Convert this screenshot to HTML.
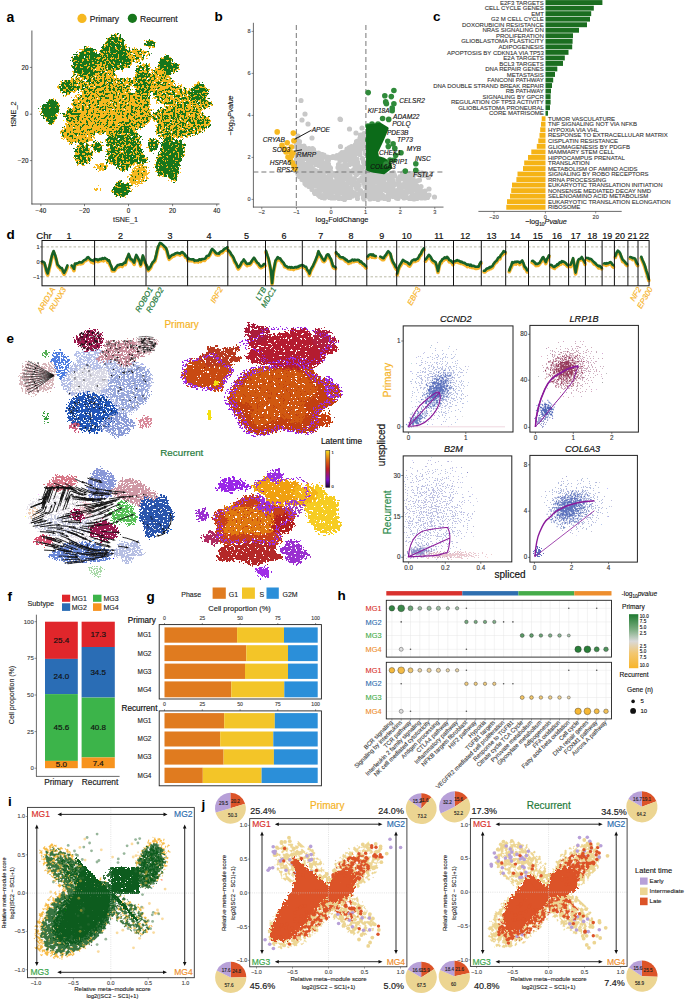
<!DOCTYPE html>
<html><head><meta charset="utf-8"><style>
html,body{margin:0;padding:0;background:#fff;}
svg{display:block;font-family:"Liberation Sans",sans-serif;}
</style></head><body>
<svg width="685" height="1001" viewBox="0 0 685 1001">
<defs><filter id="fa1" x="-40%" y="-40%" width="180%" height="180%" color-interpolation-filters="sRGB"><feGaussianBlur in="SourceGraphic" stdDeviation="0.9" result="b"/><feTurbulence type="fractalNoise" baseFrequency="0.45" numOctaves="2" seed="3"/><feColorMatrix type="matrix" values="0 0 0 0 0 0 0 0 0 0 0 0 0 0 0 1 0 0 0 0"/><feComponentTransfer result="nu"><feFuncA type="table" tableValues="0 0 0 0 0 0 0 0.001 0.003 0.007 0.010 0.021 0.046 0.067 0.097 0.144 0.182 0.251 0.326 0.397 0.510 0.594 0.654 0.743 0.797 0.847 0.896 0.922 0.956 0.971 0.986 0.994 0.996 0.999 1 1 1 1 1 1 1"/></feComponentTransfer><feComposite in="b" in2="nu" operator="arithmetic" k2="1" k3="-1"/><feComponentTransfer result="m"><feFuncA type="linear" slope="200"/></feComponentTransfer><feColorMatrix in="b" type="matrix" values="1 0 0 0 0 0 1 0 0 0 0 0 1 0 0 0 0 0 0 1"/><feComposite in2="m" operator="in"/></filter><filter id="fa2" x="0" y="0" width="1" height="1" color-interpolation-filters="sRGB"><feGaussianBlur in="SourceGraphic" stdDeviation="0.9" result="b"/><feTurbulence type="fractalNoise" baseFrequency="0.45" numOctaves="2" seed="4"/><feColorMatrix type="matrix" values="0 0 0 0 0 0 0 0 0 0 0 0 0 0 0 1 0 0 0 0"/><feComponentTransfer result="nu"><feFuncA type="table" tableValues="0 0 0 0 0 0 0 0.001 0.003 0.007 0.010 0.021 0.046 0.067 0.097 0.144 0.182 0.251 0.326 0.397 0.510 0.594 0.654 0.743 0.797 0.847 0.896 0.922 0.956 0.971 0.986 0.994 0.996 0.999 1 1 1 1 1 1 1"/></feComponentTransfer><feColorMatrix in="b" type="matrix" values="0 0 0 0 0 0 0 0 0 0 0 0 0 0 0 1 0 0 0 0" result="da"/><feComposite in="da" in2="nu" operator="arithmetic" k2="1" k3="-1"/><feComponentTransfer result="m"><feFuncA type="linear" slope="200"/></feComponentTransfer><feFlood flood-color="#17761c"/><feComposite in2="m" operator="in"/></filter><filter id="fe1" x="-40%" y="-40%" width="180%" height="180%" color-interpolation-filters="sRGB"><feGaussianBlur in="SourceGraphic" stdDeviation="0.8" result="b"/><feTurbulence type="fractalNoise" baseFrequency="0.55" numOctaves="2" seed="5"/><feColorMatrix type="matrix" values="0 0 0 0 0 0 0 0 0 0 0 0 0 0 0 1 0 0 0 0"/><feComponentTransfer result="nu"><feFuncA type="table" tableValues="0 0 0 0 0 0 0 0.001 0.003 0.007 0.010 0.021 0.046 0.067 0.097 0.144 0.182 0.251 0.326 0.397 0.510 0.594 0.654 0.743 0.797 0.847 0.896 0.922 0.956 0.971 0.986 0.994 0.996 0.999 1 1 1 1 1 1 1"/></feComponentTransfer><feComposite in="b" in2="nu" operator="arithmetic" k2="1" k3="-1"/><feComponentTransfer result="m"><feFuncA type="linear" slope="200"/></feComponentTransfer><feColorMatrix in="b" type="matrix" values="1 0 0 0 0 0 1 0 0 0 0 0 1 0 0 0 0 0 0 1"/><feComposite in2="m" operator="in"/></filter><filter id="fe2" x="-40%" y="-40%" width="180%" height="180%" color-interpolation-filters="sRGB"><feGaussianBlur in="SourceGraphic" stdDeviation="0.9" result="b"/><feTurbulence type="fractalNoise" baseFrequency="0.42" numOctaves="2" seed="6"/><feColorMatrix type="matrix" values="0 0 0 0 0 0 0 0 0 0 0 0 0 0 0 1 0 0 0 0"/><feComponentTransfer result="nu"><feFuncA type="table" tableValues="0 0 0 0 0 0 0 0.001 0.003 0.007 0.010 0.021 0.046 0.067 0.097 0.144 0.182 0.251 0.326 0.397 0.510 0.594 0.654 0.743 0.797 0.847 0.896 0.922 0.956 0.971 0.986 0.994 0.996 0.999 1 1 1 1 1 1 1"/></feComponentTransfer><feComposite in="b" in2="nu" operator="arithmetic" k2="1" k3="-1"/><feComponentTransfer result="m"><feFuncA type="linear" slope="200"/></feComponentTransfer><feColorMatrix in="b" type="matrix" values="1 0 0 0 0 0 1 0 0 0 0 0 1 0 0 0 0 0 0 1"/><feComposite in2="m" operator="in"/></filter><filter id="fe3" x="-40%" y="-40%" width="180%" height="180%" color-interpolation-filters="sRGB"><feGaussianBlur in="SourceGraphic" stdDeviation="0.6" result="b"/><feTurbulence type="fractalNoise" baseFrequency="0.55" numOctaves="2" seed="7"/><feColorMatrix type="matrix" values="0 0 0 0 0 0 0 0 0 0 0 0 0 0 0 1 0 0 0 0"/><feComponentTransfer result="nu"><feFuncA type="table" tableValues="0 0 0 0 0 0 0 0.001 0.003 0.007 0.010 0.021 0.046 0.067 0.097 0.144 0.182 0.251 0.326 0.397 0.510 0.594 0.654 0.743 0.797 0.847 0.896 0.922 0.956 0.971 0.986 0.994 0.996 0.999 1 1 1 1 1 1 1"/></feComponentTransfer><feComposite in="b" in2="nu" operator="arithmetic" k2="1" k3="-1"/><feComponentTransfer result="m"><feFuncA type="linear" slope="200"/></feComponentTransfer><feColorMatrix in="b" type="matrix" values="1 0 0 0 0 0 1 0 0 0 0 0 1 0 0 0 0 0 0 1"/><feComposite in2="m" operator="in"/></filter><linearGradient id="lt" x1="0" y1="1" x2="0" y2="0"><stop offset="0" stop-color="#1a0530"/><stop offset="0.2" stop-color="#7a10c8"/><stop offset="0.5" stop-color="#c02020"/><stop offset="0.75" stop-color="#e07010"/><stop offset="1" stop-color="#f8e020"/></linearGradient><filter id="fs1" x="-40%" y="-40%" width="180%" height="180%" color-interpolation-filters="sRGB"><feGaussianBlur in="SourceGraphic" stdDeviation="0.3" result="b"/><feTurbulence type="fractalNoise" baseFrequency="0.8" numOctaves="2" seed="8"/><feColorMatrix type="matrix" values="0 0 0 0 0 0 0 0 0 0 0 0 0 0 0 1 0 0 0 0"/><feComponentTransfer result="nu"><feFuncA type="table" tableValues="0 0 0 0 0 0 0 0.001 0.003 0.007 0.010 0.021 0.046 0.067 0.097 0.144 0.182 0.251 0.326 0.397 0.510 0.594 0.654 0.743 0.797 0.847 0.896 0.922 0.956 0.971 0.986 0.994 0.996 0.999 1 1 1 1 1 1 1"/></feComponentTransfer><feComposite in="b" in2="nu" operator="arithmetic" k2="1" k3="-1"/><feComponentTransfer result="m"><feFuncA type="linear" slope="200"/></feComponentTransfer><feColorMatrix in="b" type="matrix" values="1 0 0 0 0 0 1 0 0 0 0 0 1 0 0 0 0 0 0 1"/><feComposite in2="m" operator="in"/></filter><clipPath id="c1"><rect x="403.7" y="326.4" width="108.80000000000001" height="105.10000000000002"/></clipPath><radialGradient id="g0"><stop offset="0" stop-color="#7a88c8"/><stop offset=".3" stop-color="#7a88c8" stop-opacity=".8"/><stop offset=".55" stop-color="#7a88c8" stop-opacity=".42"/><stop offset=".8" stop-color="#7a88c8" stop-opacity=".13"/><stop offset="1" stop-color="#7a88c8" stop-opacity="0"/></radialGradient><radialGradient id="g1"><stop offset="0" stop-color="#5068b8"/><stop offset=".3" stop-color="#5068b8" stop-opacity=".8"/><stop offset=".55" stop-color="#5068b8" stop-opacity=".42"/><stop offset=".8" stop-color="#5068b8" stop-opacity=".13"/><stop offset="1" stop-color="#5068b8" stop-opacity="0"/></radialGradient><clipPath id="c2"><rect x="530.4" y="325.9" width="107.5" height="105.70000000000005"/></clipPath><radialGradient id="g2"><stop offset="0" stop-color="#a06080"/><stop offset=".3" stop-color="#a06080" stop-opacity=".8"/><stop offset=".55" stop-color="#a06080" stop-opacity=".42"/><stop offset=".8" stop-color="#a06080" stop-opacity=".13"/><stop offset="1" stop-color="#a06080" stop-opacity="0"/></radialGradient><radialGradient id="g3"><stop offset="0" stop-color="#8a2448"/><stop offset=".3" stop-color="#8a2448" stop-opacity=".8"/><stop offset=".55" stop-color="#8a2448" stop-opacity=".42"/><stop offset=".8" stop-color="#8a2448" stop-opacity=".13"/><stop offset="1" stop-color="#8a2448" stop-opacity="0"/></radialGradient><radialGradient id="g4"><stop offset="0" stop-color="#8a90c8"/><stop offset=".3" stop-color="#8a90c8" stop-opacity=".8"/><stop offset=".55" stop-color="#8a90c8" stop-opacity=".42"/><stop offset=".8" stop-color="#8a90c8" stop-opacity=".13"/><stop offset="1" stop-color="#8a90c8" stop-opacity="0"/></radialGradient><clipPath id="c3"><rect x="403.7" y="456.4" width="107.60000000000002" height="105.0"/></clipPath><radialGradient id="g5"><stop offset="0" stop-color="#7078c0"/><stop offset=".3" stop-color="#7078c0" stop-opacity=".8"/><stop offset=".55" stop-color="#7078c0" stop-opacity=".42"/><stop offset=".8" stop-color="#7078c0" stop-opacity=".13"/><stop offset="1" stop-color="#7078c0" stop-opacity="0"/></radialGradient><radialGradient id="g6"><stop offset="0" stop-color="#6a70b8"/><stop offset=".3" stop-color="#6a70b8" stop-opacity=".8"/><stop offset=".55" stop-color="#6a70b8" stop-opacity=".42"/><stop offset=".8" stop-color="#6a70b8" stop-opacity=".13"/><stop offset="1" stop-color="#6a70b8" stop-opacity="0"/></radialGradient><radialGradient id="g7"><stop offset="0" stop-color="#d08898"/><stop offset=".3" stop-color="#d08898" stop-opacity=".8"/><stop offset=".55" stop-color="#d08898" stop-opacity=".42"/><stop offset=".8" stop-color="#d08898" stop-opacity=".13"/><stop offset="1" stop-color="#d08898" stop-opacity="0"/></radialGradient><clipPath id="c4"><rect x="530.4" y="455.9" width="106.5" height="105.70000000000005"/></clipPath><radialGradient id="g8"><stop offset="0" stop-color="#7080c0"/><stop offset=".3" stop-color="#7080c0" stop-opacity=".8"/><stop offset=".55" stop-color="#7080c0" stop-opacity=".42"/><stop offset=".8" stop-color="#7080c0" stop-opacity=".13"/><stop offset="1" stop-color="#7080c0" stop-opacity="0"/></radialGradient><radialGradient id="g9"><stop offset="0" stop-color="#6070c0"/><stop offset=".3" stop-color="#6070c0" stop-opacity=".8"/><stop offset=".55" stop-color="#6070c0" stop-opacity=".42"/><stop offset=".8" stop-color="#6070c0" stop-opacity=".13"/><stop offset="1" stop-color="#6070c0" stop-opacity="0"/></radialGradient><linearGradient id="hg" x1="0" y1="0" x2="0" y2="1"><stop offset="0" stop-color="#1f7a30"/><stop offset=".28" stop-color="#7aac80"/><stop offset=".5" stop-color="#d9d9d9"/><stop offset=".72" stop-color="#f3c770"/><stop offset="1" stop-color="#f8b52a"/></linearGradient><filter id="fi1" x="-40%" y="-40%" width="180%" height="180%" color-interpolation-filters="sRGB"><feGaussianBlur in="SourceGraphic" stdDeviation="1.2" result="b"/><feTurbulence type="fractalNoise" baseFrequency="0.35" numOctaves="2" seed="11"/><feColorMatrix type="matrix" values="0 0 0 0 0 0 0 0 0 0 0 0 0 0 0 1 0 0 0 0"/><feComponentTransfer result="nu"><feFuncA type="table" tableValues="0 0 0 0 0 0 0 0.001 0.003 0.007 0.010 0.021 0.046 0.067 0.097 0.144 0.182 0.251 0.326 0.397 0.510 0.594 0.654 0.743 0.797 0.847 0.896 0.922 0.956 0.971 0.986 0.994 0.996 0.999 1 1 1 1 1 1 1"/></feComponentTransfer><feComposite in="b" in2="nu" operator="arithmetic" k2="1" k3="-1"/><feComponentTransfer result="m"><feFuncA type="linear" slope="200"/></feComponentTransfer><feColorMatrix in="b" type="matrix" values="1 0 0 0 0 0 1 0 0 0 0 0 1 0 0 0 0 0 0 1"/><feComposite in2="m" operator="in"/></filter><filter id="fi2" x="-40%" y="-40%" width="180%" height="180%" color-interpolation-filters="sRGB"><feGaussianBlur in="SourceGraphic" stdDeviation="1.2" result="b"/><feTurbulence type="fractalNoise" baseFrequency="0.35" numOctaves="2" seed="12"/><feColorMatrix type="matrix" values="0 0 0 0 0 0 0 0 0 0 0 0 0 0 0 1 0 0 0 0"/><feComponentTransfer result="nu"><feFuncA type="table" tableValues="0 0 0 0 0 0 0 0.001 0.003 0.007 0.010 0.021 0.046 0.067 0.097 0.144 0.182 0.251 0.326 0.397 0.510 0.594 0.654 0.743 0.797 0.847 0.896 0.922 0.956 0.971 0.986 0.994 0.996 0.999 1 1 1 1 1 1 1"/></feComponentTransfer><feComposite in="b" in2="nu" operator="arithmetic" k2="1" k3="-1"/><feComponentTransfer result="m"><feFuncA type="linear" slope="200"/></feComponentTransfer><feColorMatrix in="b" type="matrix" values="1 0 0 0 0 0 1 0 0 0 0 0 1 0 0 0 0 0 0 1"/><feComposite in2="m" operator="in"/></filter><filter id="fi3" x="-40%" y="-40%" width="180%" height="180%" color-interpolation-filters="sRGB"><feGaussianBlur in="SourceGraphic" stdDeviation="0.5" result="b"/><feTurbulence type="fractalNoise" baseFrequency="0.6" numOctaves="2" seed="13"/><feColorMatrix type="matrix" values="0 0 0 0 0 0 0 0 0 0 0 0 0 0 0 1 0 0 0 0"/><feComponentTransfer result="nu"><feFuncA type="table" tableValues="0 0 0 0 0 0 0 0.001 0.003 0.007 0.010 0.021 0.046 0.067 0.097 0.144 0.182 0.251 0.326 0.397 0.510 0.594 0.654 0.743 0.797 0.847 0.896 0.922 0.956 0.971 0.986 0.994 0.996 0.999 1 1 1 1 1 1 1"/></feComponentTransfer><feComposite in="b" in2="nu" operator="arithmetic" k2="1" k3="-1"/><feComponentTransfer result="m"><feFuncA type="linear" slope="200"/></feComponentTransfer><feColorMatrix in="b" type="matrix" values="1 0 0 0 0 0 1 0 0 0 0 0 1 0 0 0 0 0 0 1"/><feComposite in2="m" operator="in"/></filter><clipPath id="ulc"><path d="M0 700L72 700L72 853L122 903L122 1001L0 1001Z"/></clipPath><filter id="fi4" x="-40%" y="-40%" width="180%" height="180%" color-interpolation-filters="sRGB"><feGaussianBlur in="SourceGraphic" stdDeviation="2.0" result="b"/><feTurbulence type="fractalNoise" baseFrequency="0.6" numOctaves="2" seed="14"/><feColorMatrix type="matrix" values="0 0 0 0 0 0 0 0 0 0 0 0 0 0 0 1 0 0 0 0"/><feComponentTransfer result="nu"><feFuncA type="table" tableValues="0 0 0 0 0 0 0 0.001 0.003 0.007 0.010 0.021 0.046 0.067 0.097 0.144 0.182 0.251 0.326 0.397 0.510 0.594 0.654 0.743 0.797 0.847 0.896 0.922 0.956 0.971 0.986 0.994 0.996 0.999 1 1 1 1 1 1 1"/></feComponentTransfer><feComposite in="b" in2="nu" operator="arithmetic" k2="1" k3="-1"/><feComponentTransfer result="m"><feFuncA type="linear" slope="200"/></feComponentTransfer><feColorMatrix in="b" type="matrix" values="1 0 0 0 0 0 1 0 0 0 0 0 1 0 0 0 0 0 0 1"/><feComposite in2="m" operator="in"/></filter><filter id="fj1" x="-40%" y="-40%" width="180%" height="180%" color-interpolation-filters="sRGB"><feGaussianBlur in="SourceGraphic" stdDeviation="1.0" result="b"/><feTurbulence type="fractalNoise" baseFrequency="0.3" numOctaves="2" seed="21"/><feColorMatrix type="matrix" values="0 0 0 0 0 0 0 0 0 0 0 0 0 0 0 1 0 0 0 0"/><feComponentTransfer result="nu"><feFuncA type="table" tableValues="0 0 0 0 0 0 0 0.001 0.003 0.007 0.010 0.021 0.046 0.067 0.097 0.144 0.182 0.251 0.326 0.397 0.510 0.594 0.654 0.743 0.797 0.847 0.896 0.922 0.956 0.971 0.986 0.994 0.996 0.999 1 1 1 1 1 1 1"/></feComponentTransfer><feComposite in="b" in2="nu" operator="arithmetic" k2="1" k3="-1"/><feComponentTransfer result="m"><feFuncA type="linear" slope="200"/></feComponentTransfer><feColorMatrix in="b" type="matrix" values="1 0 0 0 0 0 1 0 0 0 0 0 1 0 0 0 0 0 0 1"/><feComposite in2="m" operator="in"/></filter><filter id="fj2" x="-40%" y="-40%" width="180%" height="180%" color-interpolation-filters="sRGB"><feGaussianBlur in="SourceGraphic" stdDeviation="1.1" result="b"/><feTurbulence type="fractalNoise" baseFrequency="0.45" numOctaves="2" seed="22"/><feColorMatrix type="matrix" values="0 0 0 0 0 0 0 0 0 0 0 0 0 0 0 1 0 0 0 0"/><feComponentTransfer result="nu"><feFuncA type="table" tableValues="0 0 0 0 0 0 0 0.001 0.003 0.007 0.010 0.021 0.046 0.067 0.097 0.144 0.182 0.251 0.326 0.397 0.510 0.594 0.654 0.743 0.797 0.847 0.896 0.922 0.956 0.971 0.986 0.994 0.996 0.999 1 1 1 1 1 1 1"/></feComponentTransfer><feComposite in="b" in2="nu" operator="arithmetic" k2="1" k3="-1"/><feComponentTransfer result="m"><feFuncA type="linear" slope="200"/></feComponentTransfer><feColorMatrix in="b" type="matrix" values="1 0 0 0 0 0 1 0 0 0 0 0 1 0 0 0 0 0 0 1"/><feComposite in2="m" operator="in"/></filter></defs>
<rect width="685" height="1001" fill="#fff"/>
<text x="6.5" y="21.8" font-size="14" fill="#000" font-weight="bold">a</text>
<circle cx="82.0" cy="18.4" r="4.6" fill="#f6b820"/>
<text x="89.8" y="21.6" font-size="8.5" fill="#222" stroke="#222" stroke-width="0.18">Primary</text>
<circle cx="132.4" cy="18.3" r="4.6" fill="#17761c"/>
<text x="140.0" y="21.6" font-size="8.6" fill="#222" stroke="#222" stroke-width="0.18">Recurrent</text>
<line x1="31.9" y1="30.5" x2="31.9" y2="204.4" stroke="#333" stroke-width="0.8"/>
<line x1="31.5" y1="204.0" x2="219.5" y2="204.0" stroke="#333" stroke-width="0.8"/>
<line x1="29.8" y1="67.4" x2="31.9" y2="67.4" stroke="#333" stroke-width="0.6"/>
<text x="28.5" y="69.6" font-size="6.3" fill="#222" text-anchor="end" stroke="#222" stroke-width="0.12">20</text>
<line x1="29.8" y1="114.2" x2="31.9" y2="114.2" stroke="#333" stroke-width="0.6"/>
<text x="28.5" y="116.4" font-size="6.3" fill="#222" text-anchor="end" stroke="#222" stroke-width="0.12">0</text>
<line x1="29.8" y1="160.6" x2="31.9" y2="160.6" stroke="#333" stroke-width="0.6"/>
<text x="28.5" y="162.8" font-size="6.3" fill="#222" text-anchor="end" stroke="#222" stroke-width="0.12">−20</text>
<line x1="40.9" y1="204.0" x2="40.9" y2="206.2" stroke="#333" stroke-width="0.6"/>
<text x="40.9" y="213.0" font-size="6.3" fill="#222" text-anchor="middle" stroke="#222" stroke-width="0.12">−40</text>
<line x1="84.5" y1="204.0" x2="84.5" y2="206.2" stroke="#333" stroke-width="0.6"/>
<text x="84.5" y="213.0" font-size="6.3" fill="#222" text-anchor="middle" stroke="#222" stroke-width="0.12">−20</text>
<line x1="128.5" y1="204.0" x2="128.5" y2="206.2" stroke="#333" stroke-width="0.6"/>
<text x="128.5" y="213.0" font-size="6.3" fill="#222" text-anchor="middle" stroke="#222" stroke-width="0.12">0</text>
<line x1="172.6" y1="204.0" x2="172.6" y2="206.2" stroke="#333" stroke-width="0.6"/>
<text x="172.6" y="213.0" font-size="6.3" fill="#222" text-anchor="middle" stroke="#222" stroke-width="0.12">20</text>
<line x1="216.8" y1="204.0" x2="216.8" y2="206.2" stroke="#333" stroke-width="0.6"/>
<text x="216.8" y="213.0" font-size="6.3" fill="#222" text-anchor="middle" stroke="#222" stroke-width="0.12">40</text>
<text x="125.5" y="221.5" font-size="7.25" fill="#222" text-anchor="middle" stroke="#222" stroke-width="0.12">tSNE_1</text>
<text x="15.6" y="114.0" font-size="7.3" fill="#222" text-anchor="middle" transform="rotate(-90 15.6 114.0)" stroke="#222" stroke-width="0.12">tSNE_2</text>
<g filter="url(#fa1)" fill="#f6b820"><path d="M149.4 108.0L149.6 111.0L150.0 114.2L149.6 117.4L147.5 120.5L143.7 122.9L138.7 124.5L133.2 125.4L128.1 126.1L123.6 126.9L119.3 128.1L114.9 129.4L110.0 130.6L104.7 131.3L99.2 131.3L93.8 130.6L88.6 129.3L84.0 127.5L80.0 125.3L76.9 122.6L74.9 119.7L73.8 116.6L73.2 113.7L72.8 110.8L72.2 108.0L71.8 105.1L72.0 102.1L73.3 99.3L75.8 96.6L79.1 94.4L82.6 92.3L86.1 90.1L89.5 87.6L93.5 85.2L98.4 83.2L104.1 82.4L110.0 83.0L115.3 84.8L119.7 87.3L123.4 89.4L127.2 90.8L131.8 91.7L137.1 92.4L142.4 93.7L146.6 95.8L149.0 98.7L149.8 101.9L149.6 105.0Z" fill-opacity="0.98"/><path d="M145.2 123.0L142.9 124.4L140.3 125.7L138.1 126.8L136.2 128.1L134.6 129.4L132.7 130.7L129.9 132.0L126.2 133.1L121.5 133.9L116.4 134.2L111.1 134.2L106.0 134.0L101.2 133.6L96.6 133.2L92.1 132.7L87.6 132.2L83.4 131.5L79.4 130.7L75.7 129.7L72.6 128.6L70.1 127.3L68.2 125.9L67.0 124.5L66.8 123.0L67.5 121.5L69.2 120.1L71.7 118.9L74.6 117.8L77.7 116.7L80.7 115.7L83.7 114.6L87.0 113.5L90.8 112.4L95.4 111.6L100.6 111.2L106.0 111.3L111.1 111.8L115.6 112.6L119.5 113.5L123.2 114.4L127.1 115.1L131.4 115.7L136.0 116.3L140.5 117.2L144.2 118.4L146.3 119.9L146.5 121.5Z" fill-opacity="0.94"/><path d="M58.9 111.0L58.3 112.4L57.7 113.6L57.1 114.7L56.5 115.7L56.1 116.8L55.8 118.2L55.4 119.7L54.9 121.3L54.1 122.8L53.1 124.0L51.8 124.6L50.5 124.5L49.3 123.7L48.2 122.5L47.4 121.1L46.8 119.8L46.2 118.7L45.5 117.8L44.6 117.1L43.6 116.4L42.5 115.5L41.5 114.3L40.8 112.7L40.5 111.0L40.7 109.3L41.4 107.7L42.3 106.4L43.4 105.5L44.5 104.7L45.4 104.1L46.2 103.4L46.9 102.6L47.6 101.6L48.4 100.6L49.4 99.8L50.5 99.2L51.7 98.9L52.9 99.1L54.0 99.6L55.1 100.3L56.0 101.2L56.9 102.3L57.8 103.5L58.5 104.8L59.0 106.3L59.2 107.8L59.2 109.5Z" fill-opacity="0.98"/><path d="M102.0 63.0L101.6 64.9L100.6 66.5L99.0 67.8L97.4 68.9L96.1 69.8L95.2 71.2L94.7 73.0L94.0 75.2L92.8 77.2L91.0 78.6L88.7 78.8L86.5 78.1L84.5 77.0L82.8 76.0L80.9 75.6L78.8 75.4L76.5 75.2L74.4 74.3L72.9 72.7L72.4 70.6L72.7 68.4L73.2 66.3L73.4 64.6L73.2 63.0L72.6 61.3L72.3 59.4L72.6 57.6L73.7 56.1L75.3 55.0L77.0 54.2L78.6 53.3L79.8 52.2L81.1 50.8L82.5 49.2L84.4 47.9L86.5 47.1L88.7 47.2L90.8 47.9L92.7 48.9L94.4 50.2L95.9 51.6L97.1 53.1L98.3 54.6L99.3 56.1L100.2 57.7L101.1 59.4L101.8 61.1Z" fill-opacity="0.97"/><path d="M131.7 54.0L132.5 56.2L132.8 58.5L132.4 60.8L131.5 63.0L130.1 64.9L128.4 66.5L126.4 67.8L124.3 68.7L122.1 69.4L119.9 69.9L117.7 70.0L115.5 69.8L113.4 69.3L111.4 68.7L109.6 67.9L107.8 67.0L106.0 66.0L104.3 64.9L102.6 63.6L101.0 62.1L99.7 60.4L98.8 58.3L98.5 56.2L98.7 54.0L99.4 51.9L100.5 50.1L101.8 48.5L103.0 47.0L104.0 45.5L105.0 43.8L105.9 41.9L107.0 39.8L108.5 37.7L110.5 35.9L112.9 34.7L115.5 34.3L118.1 34.9L120.4 36.3L122.2 38.3L123.5 40.5L124.4 42.8L125.0 44.8L125.7 46.4L126.6 47.8L127.7 49.1L129.1 50.5L130.5 52.1Z" fill-opacity="0.97"/><path d="M149.4 55.0L148.5 55.8L147.3 56.5L146.1 57.1L145.0 57.5L144.1 58.0L143.5 58.6L143.0 59.3L142.4 60.1L141.5 60.9L140.2 61.6L138.7 61.9L137.0 62.0L135.4 61.7L134.0 61.1L132.9 60.4L132.0 59.7L131.1 59.2L130.2 58.7L129.2 58.3L128.0 57.8L126.8 57.3L125.8 56.6L125.2 55.8L125.0 55.0L125.4 54.2L126.1 53.4L127.0 52.7L128.0 52.2L128.8 51.6L129.6 51.0L130.4 50.3L131.4 49.7L132.5 49.1L133.9 48.7L135.5 48.6L137.0 48.7L138.4 49.0L139.7 49.5L140.8 50.0L141.8 50.5L142.9 50.8L144.2 51.1L145.6 51.4L147.1 51.8L148.4 52.4L149.3 53.2L149.7 54.1Z" fill-opacity="0.89"/><path d="M154.7 43.7L154.3 44.3L154.0 44.8L153.7 45.2L153.4 45.7L153.1 46.1L152.8 46.5L152.3 46.7L151.9 46.9L151.4 47.1L151.0 47.3L150.5 47.5L150.0 47.7L149.5 47.8L149.0 47.6L148.5 47.2L148.2 46.8L147.9 46.4L147.6 46.1L147.1 45.9L146.4 45.8L145.8 45.4L145.4 44.9L145.2 44.3L145.3 43.7L145.7 43.1L146.0 42.6L146.3 42.2L146.6 41.7L146.9 41.3L147.2 40.9L147.7 40.7L148.1 40.5L148.6 40.3L149.0 40.1L149.5 39.9L150.0 39.7L150.5 39.6L151.0 39.8L151.5 40.2L151.8 40.6L152.1 41.0L152.4 41.3L152.9 41.5L153.6 41.6L154.2 42.0L154.6 42.5L154.8 43.1Z" fill-opacity="0.94"/><path d="M178.8 66.5L178.9 68.1L178.2 69.5L176.9 70.6L175.4 71.3L173.9 71.8L172.6 72.1L171.7 72.6L170.9 73.3L170.2 74.3L169.3 75.2L168.2 76.0L167.0 76.4L165.7 76.5L164.4 76.2L163.2 75.7L162.0 75.1L161.0 74.4L160.0 73.5L159.1 72.6L158.4 71.5L158.0 70.2L157.8 69.0L157.9 67.7L158.1 66.5L158.3 65.4L158.6 64.2L158.8 63.1L159.2 62.0L159.7 60.9L160.4 59.9L161.2 58.9L162.1 58.0L163.2 57.2L164.3 56.5L165.6 56.0L167.0 55.7L168.4 55.9L169.7 56.6L170.7 57.6L171.4 58.9L171.8 60.2L172.2 61.3L172.8 62.1L173.7 62.6L175.0 63.2L176.5 64.0L177.9 65.1Z" fill-opacity="0.98"/><path d="M153.6 82.0L153.6 84.4L152.8 86.5L151.8 88.2L150.9 89.7L150.3 91.5L149.9 93.7L149.3 96.0L148.4 97.9L147.1 99.0L145.7 99.2L144.3 99.1L143.0 99.2L141.6 99.6L140.2 100.1L138.6 99.9L137.3 98.7L136.5 96.3L136.2 93.5L136.2 90.9L136.0 88.9L135.3 87.4L134.2 86.0L133.1 84.2L132.4 82.0L132.4 79.6L133.2 77.5L134.2 75.8L135.1 74.3L135.7 72.5L136.1 70.3L136.7 68.0L137.6 66.1L138.9 65.0L140.3 64.8L141.7 64.9L143.0 64.8L144.4 64.4L145.8 63.9L147.4 64.1L148.7 65.3L149.5 67.7L149.8 70.5L149.8 73.1L150.0 75.1L150.7 76.6L151.8 78.0L152.9 79.8Z" fill-opacity="0.94"/><path d="M173.8 84.0L174.1 86.2L174.0 88.4L173.5 90.5L172.7 92.4L171.5 94.0L170.1 95.3L168.6 96.3L167.0 97.0L165.5 97.6L164.0 98.0L162.5 98.3L161.0 98.5L159.5 98.5L157.9 98.4L156.4 98.0L154.9 97.2L153.6 96.1L152.5 94.7L151.6 93.0L151.0 91.2L150.6 89.4L150.4 87.6L150.3 85.8L150.2 84.0L150.2 82.2L150.2 80.4L150.3 78.4L150.4 76.4L150.9 74.3L151.6 72.2L152.6 70.3L154.0 68.8L155.6 67.7L157.4 67.2L159.2 67.3L161.0 67.9L162.6 69.0L163.9 70.2L165.1 71.6L166.1 73.0L167.0 74.2L167.9 75.4L168.9 76.5L169.9 77.6L171.0 78.8L172.1 80.3L173.1 82.0Z" fill-opacity="0.94"/><path d="M133.6 85.0L130.7 86.0L129.4 87.0L129.6 88.2L129.9 89.4L128.9 90.7L125.9 91.7L121.4 92.2L116.5 92.3L112.1 92.5L108.3 93.0L104.5 93.9L100.0 94.9L94.7 95.4L89.4 95.2L85.3 94.1L82.8 92.7L81.3 91.3L79.4 90.3L75.9 89.8L71.0 89.3L65.9 88.6L62.6 87.6L62.1 86.3L64.2 85.0L67.4 83.9L69.9 82.9L71.0 81.9L70.9 80.7L71.0 79.3L72.6 77.9L76.0 76.9L80.7 76.4L86.0 76.3L91.0 76.3L95.6 76.4L100.0 76.5L104.3 76.6L108.4 77.0L112.2 77.4L115.8 78.0L119.7 78.4L124.4 78.7L129.7 79.1L134.7 79.9L138.0 81.0L138.7 82.3L136.8 83.8Z" fill-opacity="0.89"/><path d="M151.7 112.0L151.9 114.4L151.8 116.9L151.1 119.1L150.1 121.0L148.8 122.4L147.5 123.6L146.2 124.5L145.0 125.3L143.8 126.1L142.6 126.9L141.3 127.7L140.0 128.4L138.6 128.9L137.0 129.2L135.4 129.1L133.9 128.5L132.4 127.2L131.3 125.4L130.6 123.1L130.3 120.6L130.4 118.1L130.6 115.9L130.8 113.9L130.7 112.0L130.4 110.0L129.9 107.8L129.6 105.3L129.6 102.7L130.1 100.3L131.2 98.4L132.7 97.2L134.3 96.7L135.9 96.6L137.3 96.6L138.7 96.4L140.0 96.0L141.4 95.6L142.9 95.4L144.3 95.8L145.7 96.8L146.8 98.3L147.6 100.2L148.3 102.2L148.9 104.1L149.5 105.9L150.3 107.7L151.1 109.8Z" fill-opacity="0.96"/><path d="M109.5 62.0L109.8 63.4L109.6 64.9L108.9 66.1L108.1 67.1L107.2 68.0L106.4 68.7L105.6 69.5L104.8 70.1L103.9 70.7L103.0 71.3L102.0 71.8L101.0 72.3L99.9 72.6L98.7 72.5L97.7 71.9L96.9 70.9L96.3 69.7L95.8 68.5L95.2 67.5L94.5 66.7L93.7 65.8L92.9 64.7L92.5 63.4L92.6 62.0L93.0 60.7L93.6 59.5L94.0 58.4L94.3 57.2L94.6 55.8L95.0 54.5L95.7 53.4L96.8 52.8L98.0 52.9L99.1 53.2L100.1 53.4L101.0 53.2L102.0 52.5L103.2 51.7L104.5 51.4L105.7 51.9L106.4 53.1L106.8 54.8L106.8 56.4L106.9 57.7L107.3 58.8L108.0 59.7L108.9 60.7Z" fill-opacity="0.94"/><path d="M114.3 74.0L114.5 74.9L114.8 75.9L114.9 77.0L114.7 78.1L113.9 79.1L112.8 79.8L111.3 80.4L109.8 80.7L108.3 81.0L106.9 81.3L105.5 81.7L104.0 82.1L102.3 82.4L100.5 82.6L98.7 82.5L97.0 82.1L95.5 81.4L94.3 80.4L93.6 79.3L93.2 78.1L93.3 77.0L93.6 75.9L94.1 74.9L94.6 74.0L95.0 73.2L95.1 72.4L95.0 71.5L94.8 70.4L94.6 69.2L94.9 67.9L95.6 66.7L96.9 65.8L98.6 65.3L100.5 65.2L102.3 65.5L104.0 65.9L105.5 66.2L107.0 66.5L108.6 66.7L110.2 66.9L111.8 67.2L113.2 67.9L114.2 68.8L114.6 69.9L114.7 71.1L114.5 72.1L114.3 73.1Z" fill-opacity="0.92"/><path d="M74.0 87.5L74.7 88.7L75.1 90.1L74.9 91.4L74.1 92.4L72.9 92.9L71.5 93.0L70.3 92.9L69.5 92.9L68.8 93.3L68.2 94.1L67.6 95.0L66.7 95.7L65.7 96.0L64.8 95.7L64.0 95.0L63.4 94.0L63.0 93.0L62.5 92.3L61.8 91.8L60.9 91.3L59.9 90.7L59.0 89.8L58.6 88.7L58.5 87.5L58.9 86.3L59.5 85.3L60.1 84.4L60.6 83.5L61.1 82.6L61.6 81.7L62.3 80.9L63.1 80.4L64.1 80.2L65.0 80.4L65.9 80.7L66.7 80.9L67.5 80.9L68.3 80.6L69.3 80.3L70.4 80.2L71.3 80.6L72.1 81.4L72.4 82.5L72.5 83.6L72.6 84.7L72.8 85.6L73.3 86.5Z" fill-opacity="0.94"/><path d="M80.9 116.0L81.5 117.3L81.2 118.5L80.1 119.4L78.8 119.8L77.7 120.3L77.2 121.0L77.1 122.3L76.8 123.9L76.1 125.3L75.0 125.9L73.7 125.6L72.5 124.7L71.5 123.8L70.7 123.2L69.7 123.1L68.7 123.0L67.6 122.8L66.8 122.1L66.3 121.1L66.0 120.0L65.6 119.0L65.0 118.1L64.2 117.2L63.6 116.0L63.5 114.7L64.1 113.6L65.1 112.7L66.1 112.0L66.7 111.3L67.1 110.3L67.5 109.1L68.2 108.0L69.2 107.5L70.4 107.7L71.6 108.4L72.5 109.1L73.3 109.2L74.4 108.6L75.8 107.6L77.3 107.1L78.7 107.5L79.3 108.8L79.2 110.5L78.7 112.2L78.4 113.4L78.8 114.2L79.8 115.0Z" fill-opacity="0.94"/><path d="M96.1 132.0L95.7 133.6L94.8 135.2L93.8 136.6L92.8 138.0L91.8 139.5L90.5 140.8L88.8 141.9L86.6 142.6L84.3 142.7L82.1 142.7L80.0 142.7L78.0 143.0L75.9 143.5L73.5 143.8L71.1 143.8L68.9 143.1L67.2 141.9L65.9 140.5L64.7 139.2L63.4 138.0L61.9 136.7L60.7 135.3L60.1 133.7L60.4 132.0L61.5 130.5L62.9 129.1L64.1 127.9L64.8 126.6L65.2 125.1L65.8 123.4L67.0 121.9L68.8 120.8L71.1 120.2L73.5 120.2L75.8 120.2L78.0 120.2L80.2 120.0L82.5 120.0L84.8 120.4L86.8 121.3L88.2 122.6L89.3 124.0L90.2 125.4L91.4 126.5L92.9 127.6L94.5 128.9L95.6 130.4Z" fill-opacity="0.98"/><path d="M92.1 154.0L92.1 155.4L91.8 156.7L91.2 158.0L90.5 159.1L89.8 160.1L89.1 161.1L88.3 162.1L87.5 163.1L86.5 164.0L85.4 164.6L84.2 164.9L83.0 165.0L81.8 164.8L80.6 164.5L79.4 164.1L78.3 163.5L77.2 162.9L76.2 162.0L75.4 160.8L74.9 159.5L74.7 158.0L74.9 156.5L75.1 155.2L75.3 154.0L75.4 152.8L75.5 151.6L75.4 150.3L75.5 149.0L75.8 147.6L76.4 146.3L77.2 145.2L78.2 144.4L79.3 143.7L80.5 143.2L81.7 142.8L83.0 142.5L84.3 142.6L85.5 142.9L86.7 143.7L87.6 144.7L88.3 145.9L88.9 147.1L89.4 148.2L90.0 149.3L90.6 150.3L91.3 151.4L91.8 152.6Z" fill-opacity="0.94"/><path d="M103.7 146.8L103.7 147.6L103.2 148.2L102.5 148.7L101.8 149.1L101.4 149.6L101.2 150.3L101.0 151.0L100.5 151.7L99.8 152.0L98.9 152.0L98.1 151.6L97.4 151.2L96.8 151.0L96.1 151.1L95.4 151.2L94.6 151.2L94.0 150.8L93.6 150.3L93.4 149.6L93.2 149.0L92.8 148.5L92.1 148.1L91.5 147.5L91.1 146.8L91.1 146.0L91.6 145.4L92.3 144.9L93.0 144.5L93.4 144.0L93.6 143.3L93.8 142.6L94.3 141.9L95.0 141.6L95.9 141.6L96.7 142.0L97.4 142.4L98.0 142.6L98.7 142.5L99.4 142.4L100.2 142.4L100.8 142.8L101.2 143.3L101.4 144.0L101.6 144.6L102.0 145.1L102.7 145.5L103.3 146.1Z" fill-opacity="0.94"/><path d="M140.8 148.0L142.1 150.8L143.6 154.2L144.2 158.0L143.3 161.3L140.9 163.3L137.6 164.0L134.5 163.9L132.1 164.1L130.4 165.3L128.8 167.6L126.9 170.0L124.5 171.3L122.0 171.0L119.8 169.4L117.9 167.3L116.1 165.7L114.0 164.7L111.5 163.9L109.0 162.6L107.2 160.2L106.6 157.1L107.0 153.7L107.7 150.7L108.0 148.0L107.6 145.3L106.9 142.2L106.7 139.0L107.7 136.1L109.8 134.2L112.6 133.4L115.1 133.1L117.0 132.1L118.4 129.9L119.8 126.7L121.9 123.6L124.5 122.0L127.3 122.4L129.6 124.6L131.4 127.5L132.9 130.1L134.6 132.0L136.5 133.3L138.5 134.9L139.9 137.1L140.5 139.9L140.4 142.8L140.3 145.5Z" fill-opacity="0.96"/><path d="M148.6 175.0L148.2 176.3L147.6 177.5L146.9 178.6L146.2 179.5L145.3 180.3L144.5 181.0L143.6 181.6L142.8 182.2L141.9 182.8L141.0 183.5L139.9 184.1L138.8 184.7L137.5 185.1L136.1 185.4L134.7 185.4L133.3 185.1L131.9 184.5L130.7 183.5L129.8 182.3L129.2 180.9L128.9 179.3L128.9 177.8L129.1 176.3L129.6 175.0L130.2 173.8L130.8 172.7L131.4 171.8L132.0 170.9L132.6 170.0L133.2 169.1L133.8 168.2L134.6 167.3L135.4 166.4L136.4 165.7L137.6 165.1L138.8 164.7L140.1 164.5L141.5 164.5L142.8 164.8L144.1 165.4L145.2 166.2L146.3 167.1L147.2 168.2L147.9 169.5L148.4 170.8L148.7 172.2L148.7 173.6Z" fill-opacity="0.96"/><path d="M106.6 167.0L106.3 167.6L105.9 168.1L105.5 168.5L105.1 168.9L104.7 169.3L104.3 169.7L104.0 170.2L103.5 170.6L103.0 171.0L102.4 171.3L101.7 171.6L101.0 171.8L100.2 171.8L99.5 171.7L98.7 171.5L98.1 171.2L97.5 170.7L97.0 170.3L96.6 169.8L96.2 169.2L95.9 168.7L95.7 168.2L95.5 167.6L95.4 167.0L95.4 166.4L95.5 165.8L95.8 165.2L96.2 164.7L96.6 164.3L97.2 163.9L97.8 163.6L98.5 163.4L99.1 163.3L99.7 163.1L100.4 163.0L101.0 162.9L101.7 162.8L102.4 162.8L103.1 162.8L103.9 162.9L104.7 163.1L105.4 163.4L106.1 163.8L106.5 164.4L106.8 165.0L106.9 165.7L106.8 166.4Z" fill-opacity="0.89"/><path d="M130.9 189.5L131.1 190.5L130.8 191.4L130.0 192.1L128.9 192.7L128.0 193.2L127.4 193.9L127.0 194.8L126.6 196.0L125.8 197.0L124.6 197.6L123.1 197.4L121.8 196.6L120.8 195.7L119.9 195.0L118.9 194.9L117.7 195.0L116.2 195.2L114.8 194.9L113.9 194.2L113.4 193.3L113.4 192.2L113.3 191.3L113.1 190.4L112.7 189.5L112.5 188.5L112.8 187.6L113.6 186.9L114.7 186.3L115.6 185.8L116.2 185.1L116.6 184.2L117.0 183.0L117.8 182.0L119.0 181.4L120.5 181.6L121.8 182.4L122.8 183.3L123.7 184.0L124.7 184.1L125.9 184.0L127.4 183.8L128.8 184.1L129.7 184.8L130.2 185.7L130.2 186.8L130.3 187.7L130.5 188.6Z" fill-opacity="0.98"/><path d="M99.4 189.5L99.4 189.8L99.4 190.0L99.3 190.3L99.2 190.5L99.0 190.8L98.9 191.0L98.7 191.2L98.5 191.3L98.2 191.4L97.9 191.4L97.7 191.4L97.4 191.4L97.2 191.4L96.9 191.3L96.7 191.3L96.5 191.1L96.3 191.0L96.1 190.8L95.9 190.7L95.6 190.5L95.4 190.3L95.2 190.1L95.1 189.8L95.1 189.5L95.3 189.2L95.5 189.0L95.7 188.8L95.9 188.6L96.0 188.5L96.2 188.3L96.3 188.1L96.5 187.9L96.6 187.7L96.9 187.5L97.1 187.4L97.4 187.3L97.7 187.3L98.0 187.3L98.2 187.5L98.5 187.7L98.6 187.9L98.7 188.2L98.8 188.4L98.9 188.6L99.1 188.8L99.3 189.0L99.4 189.2Z" fill-opacity="0.94"/><path d="M181.4 160.0L180.3 162.3L179.4 164.5L179.0 167.0L178.8 170.2L178.4 174.0L177.4 177.7L175.7 180.4L173.7 181.6L171.5 181.0L169.6 179.3L168.1 177.3L166.8 175.9L165.5 175.4L163.9 175.7L162.0 176.1L160.0 176.1L158.2 175.2L156.8 173.4L155.9 170.9L155.5 167.9L155.6 164.7L156.3 161.5L157.3 158.6L158.6 156.0L159.7 153.7L160.6 151.5L161.0 149.0L161.2 145.8L161.6 142.0L162.6 138.3L164.3 135.6L166.3 134.4L168.5 135.0L170.4 136.7L171.9 138.7L173.2 140.1L174.5 140.6L176.1 140.3L178.0 139.9L180.0 139.9L181.8 140.8L183.2 142.6L184.1 145.1L184.5 148.1L184.4 151.3L183.7 154.5L182.7 157.4Z" fill-opacity="0.98"/><path d="M211.0 122.0L210.6 124.3L209.1 126.5L206.9 128.4L204.3 130.0L201.6 131.5L198.8 132.8L196.0 133.9L193.0 134.8L189.9 135.6L186.7 136.2L183.4 136.8L180.0 137.3L176.4 137.8L172.4 138.3L168.2 138.3L164.0 137.8L160.5 136.5L157.9 134.6L156.5 132.3L156.3 129.8L156.6 127.5L156.9 125.5L156.6 123.8L155.6 122.0L154.1 120.1L152.9 117.9L152.5 115.5L153.4 113.2L155.7 111.3L158.8 109.9L162.4 108.9L166.1 108.2L169.5 107.5L172.9 106.8L176.3 106.1L180.0 105.6L183.8 105.6L187.4 106.1L190.7 107.3L193.4 108.7L195.7 110.3L197.9 111.8L200.2 113.1L202.9 114.4L205.7 115.9L208.3 117.7L210.2 119.7Z" fill-opacity="0.94"/><path d="M210.6 102.0L211.8 104.0L210.9 105.9L208.3 107.4L205.2 108.5L202.7 109.6L201.3 111.1L200.4 113.3L198.9 115.5L196.0 116.9L192.1 116.9L188.2 115.7L185.0 114.1L182.4 113.2L179.5 113.6L175.5 114.9L170.7 115.9L166.3 115.6L164.0 113.8L164.3 110.9L166.2 108.1L167.5 106.1L166.2 104.8L162.4 103.7L157.6 102.0L154.5 99.8L155.0 97.5L159.0 96.0L164.5 95.4L169.1 95.2L171.5 94.5L172.1 92.6L172.3 89.7L173.9 87.0L177.2 85.6L181.2 86.0L185.0 87.8L187.9 89.7L190.4 90.8L193.3 90.8L197.2 90.2L201.5 90.0L205.0 90.8L206.7 92.7L206.8 94.9L206.5 97.0L206.9 98.7L208.6 100.3Z" fill-opacity="0.94"/><path d="M208.1 93.0L207.1 94.3L206.1 95.3L205.1 96.1L204.5 96.9L204.1 97.8L203.8 98.9L203.4 100.1L202.8 101.3L201.9 102.0L200.8 102.4L199.6 102.5L198.5 102.3L197.4 102.1L196.4 101.9L195.3 101.7L194.1 101.5L193.0 101.0L192.0 100.3L191.2 99.2L190.7 98.1L190.3 96.8L189.9 95.6L189.7 94.3L189.5 93.0L189.6 91.7L189.9 90.4L190.6 89.3L191.5 88.5L192.6 87.9L193.5 87.4L194.3 86.9L194.9 86.1L195.5 85.0L196.3 83.8L197.3 82.9L198.5 82.3L199.7 82.4L200.9 83.1L201.8 84.2L202.5 85.3L203.2 86.1L204.1 86.8L205.2 87.3L206.4 87.9L207.6 88.8L208.4 90.0L208.5 91.5Z" fill-opacity="0.98"/><path d="M158.5 144.8L158.2 145.8L157.9 146.6L157.6 147.4L157.2 148.2L156.8 148.9L156.4 149.5L155.9 150.0L155.3 150.4L154.7 150.7L154.2 150.8L153.6 151.0L153.0 151.1L152.4 151.2L151.8 151.3L151.1 151.3L150.4 151.2L149.7 150.9L149.1 150.3L148.6 149.5L148.3 148.6L148.2 147.6L148.2 146.6L148.3 145.7L148.3 144.8L148.3 143.9L148.2 143.0L148.2 142.0L148.3 141.0L148.5 140.0L149.0 139.2L149.6 138.6L150.3 138.3L151.1 138.3L151.8 138.6L152.5 139.0L153.0 139.3L153.5 139.5L154.0 139.5L154.6 139.4L155.3 139.3L156.0 139.3L156.8 139.4L157.6 139.9L158.1 140.6L158.5 141.6L158.7 142.7L158.6 143.8Z" fill-opacity="0.94"/><path d="M148.1 160.0L148.1 160.4L148.1 160.7L148.0 161.1L147.8 161.4L147.5 161.7L147.0 161.8L146.6 161.9L146.1 161.9L145.7 161.9L145.4 162.0L145.1 162.2L144.7 162.5L144.2 162.8L143.7 162.9L143.2 162.9L142.7 162.7L142.4 162.4L142.2 162.0L142.1 161.6L142.1 161.2L142.0 160.9L141.8 160.6L141.6 160.3L141.5 160.0L141.6 159.7L141.7 159.4L141.9 159.1L142.1 158.8L142.2 158.5L142.4 158.2L142.5 157.8L142.8 157.4L143.2 157.1L143.7 157.0L144.2 157.0L144.7 157.3L145.1 157.6L145.4 157.9L145.7 158.1L146.0 158.2L146.4 158.2L146.9 158.3L147.4 158.4L147.8 158.6L148.0 158.9L148.2 159.3L148.2 159.6Z" fill-opacity="0.94"/></g>
<g filter="url(#fa2)"><rect x="33" y="30" width="187" height="173" fill="#000"/><path d="M149.4 108.0L149.6 111.0L150.0 114.2L149.6 117.4L147.5 120.5L143.7 122.9L138.7 124.5L133.2 125.4L128.1 126.1L123.6 126.9L119.3 128.1L114.9 129.4L110.0 130.6L104.7 131.3L99.2 131.3L93.8 130.6L88.6 129.3L84.0 127.5L80.0 125.3L76.9 122.6L74.9 119.7L73.8 116.6L73.2 113.7L72.8 110.8L72.2 108.0L71.8 105.1L72.0 102.1L73.3 99.3L75.8 96.6L79.1 94.4L82.6 92.3L86.1 90.1L89.5 87.6L93.5 85.2L98.4 83.2L104.1 82.4L110.0 83.0L115.3 84.8L119.7 87.3L123.4 89.4L127.2 90.8L131.8 91.7L137.1 92.4L142.4 93.7L146.6 95.8L149.0 98.7L149.8 101.9L149.6 105.0Z" fill="rgb(61,61,61)"/><path d="M145.2 123.0L142.9 124.4L140.3 125.7L138.1 126.8L136.2 128.1L134.6 129.4L132.7 130.7L129.9 132.0L126.2 133.1L121.5 133.9L116.4 134.2L111.1 134.2L106.0 134.0L101.2 133.6L96.6 133.2L92.1 132.7L87.6 132.2L83.4 131.5L79.4 130.7L75.7 129.7L72.6 128.6L70.1 127.3L68.2 125.9L67.0 124.5L66.8 123.0L67.5 121.5L69.2 120.1L71.7 118.9L74.6 117.8L77.7 116.7L80.7 115.7L83.7 114.6L87.0 113.5L90.8 112.4L95.4 111.6L100.6 111.2L106.0 111.3L111.1 111.8L115.6 112.6L119.5 113.5L123.2 114.4L127.1 115.1L131.4 115.7L136.0 116.3L140.5 117.2L144.2 118.4L146.3 119.9L146.5 121.5Z" fill="rgb(57,57,57)"/><path d="M58.9 111.0L58.3 112.4L57.7 113.6L57.1 114.7L56.5 115.7L56.1 116.8L55.8 118.2L55.4 119.7L54.9 121.3L54.1 122.8L53.1 124.0L51.8 124.6L50.5 124.5L49.3 123.7L48.2 122.5L47.4 121.1L46.8 119.8L46.2 118.7L45.5 117.8L44.6 117.1L43.6 116.4L42.5 115.5L41.5 114.3L40.8 112.7L40.5 111.0L40.7 109.3L41.4 107.7L42.3 106.4L43.4 105.5L44.5 104.7L45.4 104.1L46.2 103.4L46.9 102.6L47.6 101.6L48.4 100.6L49.4 99.8L50.5 99.2L51.7 98.9L52.9 99.1L54.0 99.6L55.1 100.3L56.0 101.2L56.9 102.3L57.8 103.5L58.5 104.8L59.0 106.3L59.2 107.8L59.2 109.5Z" fill="rgb(240,240,240)"/><path d="M102.0 63.0L101.6 64.9L100.6 66.5L99.0 67.8L97.4 68.9L96.1 69.8L95.2 71.2L94.7 73.0L94.0 75.2L92.8 77.2L91.0 78.6L88.7 78.8L86.5 78.1L84.5 77.0L82.8 76.0L80.9 75.6L78.8 75.4L76.5 75.2L74.4 74.3L72.9 72.7L72.4 70.6L72.7 68.4L73.2 66.3L73.4 64.6L73.2 63.0L72.6 61.3L72.3 59.4L72.6 57.6L73.7 56.1L75.3 55.0L77.0 54.2L78.6 53.3L79.8 52.2L81.1 50.8L82.5 49.2L84.4 47.9L86.5 47.1L88.7 47.2L90.8 47.9L92.7 48.9L94.4 50.2L95.9 51.6L97.1 53.1L98.3 54.6L99.3 56.1L100.2 57.7L101.1 59.4L101.8 61.1Z" fill="rgb(209,209,209)"/><path d="M131.7 54.0L132.5 56.2L132.8 58.5L132.4 60.8L131.5 63.0L130.1 64.9L128.4 66.5L126.4 67.8L124.3 68.7L122.1 69.4L119.9 69.9L117.7 70.0L115.5 69.8L113.4 69.3L111.4 68.7L109.6 67.9L107.8 67.0L106.0 66.0L104.3 64.9L102.6 63.6L101.0 62.1L99.7 60.4L98.8 58.3L98.5 56.2L98.7 54.0L99.4 51.9L100.5 50.1L101.8 48.5L103.0 47.0L104.0 45.5L105.0 43.8L105.9 41.9L107.0 39.8L108.5 37.7L110.5 35.9L112.9 34.7L115.5 34.3L118.1 34.9L120.4 36.3L122.2 38.3L123.5 40.5L124.4 42.8L125.0 44.8L125.7 46.4L126.6 47.8L127.7 49.1L129.1 50.5L130.5 52.1Z" fill="rgb(202,202,202)"/><path d="M149.4 55.0L148.5 55.8L147.3 56.5L146.1 57.1L145.0 57.5L144.1 58.0L143.5 58.6L143.0 59.3L142.4 60.1L141.5 60.9L140.2 61.6L138.7 61.9L137.0 62.0L135.4 61.7L134.0 61.1L132.9 60.4L132.0 59.7L131.1 59.2L130.2 58.7L129.2 58.3L128.0 57.8L126.8 57.3L125.8 56.6L125.2 55.8L125.0 55.0L125.4 54.2L126.1 53.4L127.0 52.7L128.0 52.2L128.8 51.6L129.6 51.0L130.4 50.3L131.4 49.7L132.5 49.1L133.9 48.7L135.5 48.6L137.0 48.7L138.4 49.0L139.7 49.5L140.8 50.0L141.8 50.5L142.9 50.8L144.2 51.1L145.6 51.4L147.1 51.8L148.4 52.4L149.3 53.2L149.7 54.1Z" fill="rgb(76,76,76)"/><path d="M154.7 43.7L154.3 44.3L154.0 44.8L153.7 45.2L153.4 45.7L153.1 46.1L152.8 46.5L152.3 46.7L151.9 46.9L151.4 47.1L151.0 47.3L150.5 47.5L150.0 47.7L149.5 47.8L149.0 47.6L148.5 47.2L148.2 46.8L147.9 46.4L147.6 46.1L147.1 45.9L146.4 45.8L145.8 45.4L145.4 44.9L145.2 44.3L145.3 43.7L145.7 43.1L146.0 42.6L146.3 42.2L146.6 41.7L146.9 41.3L147.2 40.9L147.7 40.7L148.1 40.5L148.6 40.3L149.0 40.1L149.5 39.9L150.0 39.7L150.5 39.6L151.0 39.8L151.5 40.2L151.8 40.6L152.1 41.0L152.4 41.3L152.9 41.5L153.6 41.6L154.2 42.0L154.6 42.5L154.8 43.1Z" fill="rgb(207,207,207)"/><path d="M178.8 66.5L178.9 68.1L178.2 69.5L176.9 70.6L175.4 71.3L173.9 71.8L172.6 72.1L171.7 72.6L170.9 73.3L170.2 74.3L169.3 75.2L168.2 76.0L167.0 76.4L165.7 76.5L164.4 76.2L163.2 75.7L162.0 75.1L161.0 74.4L160.0 73.5L159.1 72.6L158.4 71.5L158.0 70.2L157.8 69.0L157.9 67.7L158.1 66.5L158.3 65.4L158.6 64.2L158.8 63.1L159.2 62.0L159.7 60.9L160.4 59.9L161.2 58.9L162.1 58.0L163.2 57.2L164.3 56.5L165.6 56.0L167.0 55.7L168.4 55.9L169.7 56.6L170.7 57.6L171.4 58.9L171.8 60.2L172.2 61.3L172.8 62.1L173.7 62.6L175.0 63.2L176.5 64.0L177.9 65.1Z" fill="rgb(230,230,230)"/><path d="M153.6 82.0L153.6 84.4L152.8 86.5L151.8 88.2L150.9 89.7L150.3 91.5L149.9 93.7L149.3 96.0L148.4 97.9L147.1 99.0L145.7 99.2L144.3 99.1L143.0 99.2L141.6 99.6L140.2 100.1L138.6 99.9L137.3 98.7L136.5 96.3L136.2 93.5L136.2 90.9L136.0 88.9L135.3 87.4L134.2 86.0L133.1 84.2L132.4 82.0L132.4 79.6L133.2 77.5L134.2 75.8L135.1 74.3L135.7 72.5L136.1 70.3L136.7 68.0L137.6 66.1L138.9 65.0L140.3 64.8L141.7 64.9L143.0 64.8L144.4 64.4L145.8 63.9L147.4 64.1L148.7 65.3L149.5 67.7L149.8 70.5L149.8 73.1L150.0 75.1L150.7 76.6L151.8 78.0L152.9 79.8Z" fill="rgb(161,161,161)"/><path d="M173.8 84.0L174.1 86.2L174.0 88.4L173.5 90.5L172.7 92.4L171.5 94.0L170.1 95.3L168.6 96.3L167.0 97.0L165.5 97.6L164.0 98.0L162.5 98.3L161.0 98.5L159.5 98.5L157.9 98.4L156.4 98.0L154.9 97.2L153.6 96.1L152.5 94.7L151.6 93.0L151.0 91.2L150.6 89.4L150.4 87.6L150.3 85.8L150.2 84.0L150.2 82.2L150.2 80.4L150.3 78.4L150.4 76.4L150.9 74.3L151.6 72.2L152.6 70.3L154.0 68.8L155.6 67.7L157.4 67.2L159.2 67.3L161.0 67.9L162.6 69.0L163.9 70.2L165.1 71.6L166.1 73.0L167.0 74.2L167.9 75.4L168.9 76.5L169.9 77.6L171.0 78.8L172.1 80.3L173.1 82.0Z" fill="rgb(69,69,69)"/><path d="M133.6 85.0L130.7 86.0L129.4 87.0L129.6 88.2L129.9 89.4L128.9 90.7L125.9 91.7L121.4 92.2L116.5 92.3L112.1 92.5L108.3 93.0L104.5 93.9L100.0 94.9L94.7 95.4L89.4 95.2L85.3 94.1L82.8 92.7L81.3 91.3L79.4 90.3L75.9 89.8L71.0 89.3L65.9 88.6L62.6 87.6L62.1 86.3L64.2 85.0L67.4 83.9L69.9 82.9L71.0 81.9L70.9 80.7L71.0 79.3L72.6 77.9L76.0 76.9L80.7 76.4L86.0 76.3L91.0 76.3L95.6 76.4L100.0 76.5L104.3 76.6L108.4 77.0L112.2 77.4L115.8 78.0L119.7 78.4L124.4 78.7L129.7 79.1L134.7 79.9L138.0 81.0L138.7 82.3L136.8 83.8Z" fill="rgb(108,108,108)"/><path d="M151.7 112.0L151.9 114.4L151.8 116.9L151.1 119.1L150.1 121.0L148.8 122.4L147.5 123.6L146.2 124.5L145.0 125.3L143.8 126.1L142.6 126.9L141.3 127.7L140.0 128.4L138.6 128.9L137.0 129.2L135.4 129.1L133.9 128.5L132.4 127.2L131.3 125.4L130.6 123.1L130.3 120.6L130.4 118.1L130.6 115.9L130.8 113.9L130.7 112.0L130.4 110.0L129.9 107.8L129.6 105.3L129.6 102.7L130.1 100.3L131.2 98.4L132.7 97.2L134.3 96.7L135.9 96.6L137.3 96.6L138.7 96.4L140.0 96.0L141.4 95.6L142.9 95.4L144.3 95.8L145.7 96.8L146.8 98.3L147.6 100.2L148.3 102.2L148.9 104.1L149.5 105.9L150.3 107.7L151.1 109.8Z" fill="rgb(82,82,82)"/><path d="M109.5 62.0L109.8 63.4L109.6 64.9L108.9 66.1L108.1 67.1L107.2 68.0L106.4 68.7L105.6 69.5L104.8 70.1L103.9 70.7L103.0 71.3L102.0 71.8L101.0 72.3L99.9 72.6L98.7 72.5L97.7 71.9L96.9 70.9L96.3 69.7L95.8 68.5L95.2 67.5L94.5 66.7L93.7 65.8L92.9 64.7L92.5 63.4L92.6 62.0L93.0 60.7L93.6 59.5L94.0 58.4L94.3 57.2L94.6 55.8L95.0 54.5L95.7 53.4L96.8 52.8L98.0 52.9L99.1 53.2L100.1 53.4L101.0 53.2L102.0 52.5L103.2 51.7L104.5 51.4L105.7 51.9L106.4 53.1L106.8 54.8L106.8 56.4L106.9 57.7L107.3 58.8L108.0 59.7L108.9 60.7Z" fill="rgb(149,149,149)"/><path d="M114.3 74.0L114.5 74.9L114.8 75.9L114.9 77.0L114.7 78.1L113.9 79.1L112.8 79.8L111.3 80.4L109.8 80.7L108.3 81.0L106.9 81.3L105.5 81.7L104.0 82.1L102.3 82.4L100.5 82.6L98.7 82.5L97.0 82.1L95.5 81.4L94.3 80.4L93.6 79.3L93.2 78.1L93.3 77.0L93.6 75.9L94.1 74.9L94.6 74.0L95.0 73.2L95.1 72.4L95.0 71.5L94.8 70.4L94.6 69.2L94.9 67.9L95.6 66.7L96.9 65.8L98.6 65.3L100.5 65.2L102.3 65.5L104.0 65.9L105.5 66.2L107.0 66.5L108.6 66.7L110.2 66.9L111.8 67.2L113.2 67.9L114.2 68.8L114.6 69.9L114.7 71.1L114.5 72.1L114.3 73.1Z" fill="rgb(101,101,101)"/><path d="M74.0 87.5L74.7 88.7L75.1 90.1L74.9 91.4L74.1 92.4L72.9 92.9L71.5 93.0L70.3 92.9L69.5 92.9L68.8 93.3L68.2 94.1L67.6 95.0L66.7 95.7L65.7 96.0L64.8 95.7L64.0 95.0L63.4 94.0L63.0 93.0L62.5 92.3L61.8 91.8L60.9 91.3L59.9 90.7L59.0 89.8L58.6 88.7L58.5 87.5L58.9 86.3L59.5 85.3L60.1 84.4L60.6 83.5L61.1 82.6L61.6 81.7L62.3 80.9L63.1 80.4L64.1 80.2L65.0 80.4L65.9 80.7L66.7 80.9L67.5 80.9L68.3 80.6L69.3 80.3L70.4 80.2L71.3 80.6L72.1 81.4L72.4 82.5L72.5 83.6L72.6 84.7L72.8 85.6L73.3 86.5Z" fill="rgb(172,172,172)"/><path d="M80.9 116.0L81.5 117.3L81.2 118.5L80.1 119.4L78.8 119.8L77.7 120.3L77.2 121.0L77.1 122.3L76.8 123.9L76.1 125.3L75.0 125.9L73.7 125.6L72.5 124.7L71.5 123.8L70.7 123.2L69.7 123.1L68.7 123.0L67.6 122.8L66.8 122.1L66.3 121.1L66.0 120.0L65.6 119.0L65.0 118.1L64.2 117.2L63.6 116.0L63.5 114.7L64.1 113.6L65.1 112.7L66.1 112.0L66.7 111.3L67.1 110.3L67.5 109.1L68.2 108.0L69.2 107.5L70.4 107.7L71.6 108.4L72.5 109.1L73.3 109.2L74.4 108.6L75.8 107.6L77.3 107.1L78.7 107.5L79.3 108.8L79.2 110.5L78.7 112.2L78.4 113.4L78.8 114.2L79.8 115.0Z" fill="rgb(149,149,149)"/><path d="M96.1 132.0L95.7 133.6L94.8 135.2L93.8 136.6L92.8 138.0L91.8 139.5L90.5 140.8L88.8 141.9L86.6 142.6L84.3 142.7L82.1 142.7L80.0 142.7L78.0 143.0L75.9 143.5L73.5 143.8L71.1 143.8L68.9 143.1L67.2 141.9L65.9 140.5L64.7 139.2L63.4 138.0L61.9 136.7L60.7 135.3L60.1 133.7L60.4 132.0L61.5 130.5L62.9 129.1L64.1 127.9L64.8 126.6L65.2 125.1L65.8 123.4L67.0 121.9L68.8 120.8L71.1 120.2L73.5 120.2L75.8 120.2L78.0 120.2L80.2 120.0L82.5 120.0L84.8 120.4L86.8 121.3L88.2 122.6L89.3 124.0L90.2 125.4L91.4 126.5L92.9 127.6L94.5 128.9L95.6 130.4Z" fill="rgb(48,48,48)"/><path d="M92.1 154.0L92.1 155.4L91.8 156.7L91.2 158.0L90.5 159.1L89.8 160.1L89.1 161.1L88.3 162.1L87.5 163.1L86.5 164.0L85.4 164.6L84.2 164.9L83.0 165.0L81.8 164.8L80.6 164.5L79.4 164.1L78.3 163.5L77.2 162.9L76.2 162.0L75.4 160.8L74.9 159.5L74.7 158.0L74.9 156.5L75.1 155.2L75.3 154.0L75.4 152.8L75.5 151.6L75.4 150.3L75.5 149.0L75.8 147.6L76.4 146.3L77.2 145.2L78.2 144.4L79.3 143.7L80.5 143.2L81.7 142.8L83.0 142.5L84.3 142.6L85.5 142.9L86.7 143.7L87.6 144.7L88.3 145.9L88.9 147.1L89.4 148.2L90.0 149.3L90.6 150.3L91.3 151.4L91.8 152.6Z" fill="rgb(161,161,161)"/><path d="M103.7 146.8L103.7 147.6L103.2 148.2L102.5 148.7L101.8 149.1L101.4 149.6L101.2 150.3L101.0 151.0L100.5 151.7L99.8 152.0L98.9 152.0L98.1 151.6L97.4 151.2L96.8 151.0L96.1 151.1L95.4 151.2L94.6 151.2L94.0 150.8L93.6 150.3L93.4 149.6L93.2 149.0L92.8 148.5L92.1 148.1L91.5 147.5L91.1 146.8L91.1 146.0L91.6 145.4L92.3 144.9L93.0 144.5L93.4 144.0L93.6 143.3L93.8 142.6L94.3 141.9L95.0 141.6L95.9 141.6L96.7 142.0L97.4 142.4L98.0 142.6L98.7 142.5L99.4 142.4L100.2 142.4L100.8 142.8L101.2 143.3L101.4 144.0L101.6 144.6L102.0 145.1L102.7 145.5L103.3 146.1Z" fill="rgb(207,207,207)"/><path d="M140.8 148.0L142.1 150.8L143.6 154.2L144.2 158.0L143.3 161.3L140.9 163.3L137.6 164.0L134.5 163.9L132.1 164.1L130.4 165.3L128.8 167.6L126.9 170.0L124.5 171.3L122.0 171.0L119.8 169.4L117.9 167.3L116.1 165.7L114.0 164.7L111.5 163.9L109.0 162.6L107.2 160.2L106.6 157.1L107.0 153.7L107.7 150.7L108.0 148.0L107.6 145.3L106.9 142.2L106.7 139.0L107.7 136.1L109.8 134.2L112.6 133.4L115.1 133.1L117.0 132.1L118.4 129.9L119.8 126.7L121.9 123.6L124.5 122.0L127.3 122.4L129.6 124.6L131.4 127.5L132.9 130.1L134.6 132.0L136.5 133.3L138.5 134.9L139.9 137.1L140.5 139.9L140.4 142.8L140.3 145.5Z" fill="rgb(176,176,176)"/><path d="M148.6 175.0L148.2 176.3L147.6 177.5L146.9 178.6L146.2 179.5L145.3 180.3L144.5 181.0L143.6 181.6L142.8 182.2L141.9 182.8L141.0 183.5L139.9 184.1L138.8 184.7L137.5 185.1L136.1 185.4L134.7 185.4L133.3 185.1L131.9 184.5L130.7 183.5L129.8 182.3L129.2 180.9L128.9 179.3L128.9 177.8L129.1 176.3L129.6 175.0L130.2 173.8L130.8 172.7L131.4 171.8L132.0 170.9L132.6 170.0L133.2 169.1L133.8 168.2L134.6 167.3L135.4 166.4L136.4 165.7L137.6 165.1L138.8 164.7L140.1 164.5L141.5 164.5L142.8 164.8L144.1 165.4L145.2 166.2L146.3 167.1L147.2 168.2L147.9 169.5L148.4 170.8L148.7 172.2L148.7 173.6Z" fill="rgb(19,19,19)"/><path d="M106.6 167.0L106.3 167.6L105.9 168.1L105.5 168.5L105.1 168.9L104.7 169.3L104.3 169.7L104.0 170.2L103.5 170.6L103.0 171.0L102.4 171.3L101.7 171.6L101.0 171.8L100.2 171.8L99.5 171.7L98.7 171.5L98.1 171.2L97.5 170.7L97.0 170.3L96.6 169.8L96.2 169.2L95.9 168.7L95.7 168.2L95.5 167.6L95.4 167.0L95.4 166.4L95.5 165.8L95.8 165.2L96.2 164.7L96.6 164.3L97.2 163.9L97.8 163.6L98.5 163.4L99.1 163.3L99.7 163.1L100.4 163.0L101.0 162.9L101.7 162.8L102.4 162.8L103.1 162.8L103.9 162.9L104.7 163.1L105.4 163.4L106.1 163.8L106.5 164.4L106.8 165.0L106.9 165.7L106.8 166.4Z" fill="rgb(33,33,33)"/><path d="M130.9 189.5L131.1 190.5L130.8 191.4L130.0 192.1L128.9 192.7L128.0 193.2L127.4 193.9L127.0 194.8L126.6 196.0L125.8 197.0L124.6 197.6L123.1 197.4L121.8 196.6L120.8 195.7L119.9 195.0L118.9 194.9L117.7 195.0L116.2 195.2L114.8 194.9L113.9 194.2L113.4 193.3L113.4 192.2L113.3 191.3L113.1 190.4L112.7 189.5L112.5 188.5L112.8 187.6L113.6 186.9L114.7 186.3L115.6 185.8L116.2 185.1L116.6 184.2L117.0 183.0L117.8 182.0L119.0 181.4L120.5 181.6L121.8 182.4L122.8 183.3L123.7 184.0L124.7 184.1L125.9 184.0L127.4 183.8L128.8 184.1L129.7 184.8L130.2 185.7L130.2 186.8L130.3 187.7L130.5 188.6Z" fill="rgb(230,230,230)"/><path d="M99.4 189.5L99.4 189.8L99.4 190.0L99.3 190.3L99.2 190.5L99.0 190.8L98.9 191.0L98.7 191.2L98.5 191.3L98.2 191.4L97.9 191.4L97.7 191.4L97.4 191.4L97.2 191.4L96.9 191.3L96.7 191.3L96.5 191.1L96.3 191.0L96.1 190.8L95.9 190.7L95.6 190.5L95.4 190.3L95.2 190.1L95.1 189.8L95.1 189.5L95.3 189.2L95.5 189.0L95.7 188.8L95.9 188.6L96.0 188.5L96.2 188.3L96.3 188.1L96.5 187.9L96.6 187.7L96.9 187.5L97.1 187.4L97.4 187.3L97.7 187.3L98.0 187.3L98.2 187.5L98.5 187.7L98.6 187.9L98.7 188.2L98.8 188.4L98.9 188.6L99.1 188.8L99.3 189.0L99.4 189.2Z" fill="rgb(0,0,0)"/><path d="M181.4 160.0L180.3 162.3L179.4 164.5L179.0 167.0L178.8 170.2L178.4 174.0L177.4 177.7L175.7 180.4L173.7 181.6L171.5 181.0L169.6 179.3L168.1 177.3L166.8 175.9L165.5 175.4L163.9 175.7L162.0 176.1L160.0 176.1L158.2 175.2L156.8 173.4L155.9 170.9L155.5 167.9L155.6 164.7L156.3 161.5L157.3 158.6L158.6 156.0L159.7 153.7L160.6 151.5L161.0 149.0L161.2 145.8L161.6 142.0L162.6 138.3L164.3 135.6L166.3 134.4L168.5 135.0L170.4 136.7L171.9 138.7L173.2 140.1L174.5 140.6L176.1 140.3L178.0 139.9L180.0 139.9L181.8 140.8L183.2 142.6L184.1 145.1L184.5 148.1L184.4 151.3L183.7 154.5L182.7 157.4Z" fill="rgb(218,218,218)"/><path d="M211.0 122.0L210.6 124.3L209.1 126.5L206.9 128.4L204.3 130.0L201.6 131.5L198.8 132.8L196.0 133.9L193.0 134.8L189.9 135.6L186.7 136.2L183.4 136.8L180.0 137.3L176.4 137.8L172.4 138.3L168.2 138.3L164.0 137.8L160.5 136.5L157.9 134.6L156.5 132.3L156.3 129.8L156.6 127.5L156.9 125.5L156.6 123.8L155.6 122.0L154.1 120.1L152.9 117.9L152.5 115.5L153.4 113.2L155.7 111.3L158.8 109.9L162.4 108.9L166.1 108.2L169.5 107.5L172.9 106.8L176.3 106.1L180.0 105.6L183.8 105.6L187.4 106.1L190.7 107.3L193.4 108.7L195.7 110.3L197.9 111.8L200.2 113.1L202.9 114.4L205.7 115.9L208.3 117.7L210.2 119.7Z" fill="rgb(115,115,115)"/><path d="M210.6 102.0L211.8 104.0L210.9 105.9L208.3 107.4L205.2 108.5L202.7 109.6L201.3 111.1L200.4 113.3L198.9 115.5L196.0 116.9L192.1 116.9L188.2 115.7L185.0 114.1L182.4 113.2L179.5 113.6L175.5 114.9L170.7 115.9L166.3 115.6L164.0 113.8L164.3 110.9L166.2 108.1L167.5 106.1L166.2 104.8L162.4 103.7L157.6 102.0L154.5 99.8L155.0 97.5L159.0 96.0L164.5 95.4L169.1 95.2L171.5 94.5L172.1 92.6L172.3 89.7L173.9 87.0L177.2 85.6L181.2 86.0L185.0 87.8L187.9 89.7L190.4 90.8L193.3 90.8L197.2 90.2L201.5 90.0L205.0 90.8L206.7 92.7L206.8 94.9L206.5 97.0L206.9 98.7L208.6 100.3Z" fill="rgb(92,92,92)"/><path d="M208.1 93.0L207.1 94.3L206.1 95.3L205.1 96.1L204.5 96.9L204.1 97.8L203.8 98.9L203.4 100.1L202.8 101.3L201.9 102.0L200.8 102.4L199.6 102.5L198.5 102.3L197.4 102.1L196.4 101.9L195.3 101.7L194.1 101.5L193.0 101.0L192.0 100.3L191.2 99.2L190.7 98.1L190.3 96.8L189.9 95.6L189.7 94.3L189.5 93.0L189.6 91.7L189.9 90.4L190.6 89.3L191.5 88.5L192.6 87.9L193.5 87.4L194.3 86.9L194.9 86.1L195.5 85.0L196.3 83.8L197.3 82.9L198.5 82.3L199.7 82.4L200.9 83.1L201.8 84.2L202.5 85.3L203.2 86.1L204.1 86.8L205.2 87.3L206.4 87.9L207.6 88.8L208.4 90.0L208.5 91.5Z" fill="rgb(206,206,206)"/><path d="M158.5 144.8L158.2 145.8L157.9 146.6L157.6 147.4L157.2 148.2L156.8 148.9L156.4 149.5L155.9 150.0L155.3 150.4L154.7 150.7L154.2 150.8L153.6 151.0L153.0 151.1L152.4 151.2L151.8 151.3L151.1 151.3L150.4 151.2L149.7 150.9L149.1 150.3L148.6 149.5L148.3 148.6L148.2 147.6L148.2 146.6L148.3 145.7L148.3 144.8L148.3 143.9L148.2 143.0L148.2 142.0L148.3 141.0L148.5 140.0L149.0 139.2L149.6 138.6L150.3 138.3L151.1 138.3L151.8 138.6L152.5 139.0L153.0 139.3L153.5 139.5L154.0 139.5L154.6 139.4L155.3 139.3L156.0 139.3L156.8 139.4L157.6 139.9L158.1 140.6L158.5 141.6L158.7 142.7L158.6 143.8Z" fill="rgb(207,207,207)"/><path d="M148.1 160.0L148.1 160.4L148.1 160.7L148.0 161.1L147.8 161.4L147.5 161.7L147.0 161.8L146.6 161.9L146.1 161.9L145.7 161.9L145.4 162.0L145.1 162.2L144.7 162.5L144.2 162.8L143.7 162.9L143.2 162.9L142.7 162.7L142.4 162.4L142.2 162.0L142.1 161.6L142.1 161.2L142.0 160.9L141.8 160.6L141.6 160.3L141.5 160.0L141.6 159.7L141.7 159.4L141.9 159.1L142.1 158.8L142.2 158.5L142.4 158.2L142.5 157.8L142.8 157.4L143.2 157.1L143.7 157.0L144.2 157.0L144.7 157.3L145.1 157.6L145.4 157.9L145.7 158.1L146.0 158.2L146.4 158.2L146.9 158.3L147.4 158.4L147.8 158.6L148.0 158.9L148.2 159.3L148.2 159.6Z" fill="rgb(207,207,207)"/></g>
<text x="214.5" y="20.5" font-size="13.5" fill="#000" font-weight="bold">b</text>
<text x="233.0" y="115.6" font-size="7.0" fill="#111" text-anchor="middle" transform="rotate(-90 233.0 115.6)" stroke="#111" stroke-width="0.12">−log<tspan font-size="4.8" dy="1.5">10</tspan><tspan dy="-1.5" font-style="italic">Pvalue</tspan></text>
<path transform="scale(.5)" d="M682 385h0M741 396h0M733 375h0M612 363h0M710 303h0M627 365h0M766 368h0M703 293h0M606 296h0M673 386h0M625 357h0M754 379h0M609 351h0M781 382h0M755 383h0M813 386h0M752 352h0M709 313h0M635 347h0M604 309h0M804 352h0M680 334h0M757 374h0M825 373h0M787 345h0M700 328h0M599 320h0M639 383h0M609 306h0M629 364h0M701 305h0M615 337h0M745 355h0M708 358h0M838 391h0M642 373h0M657 356h0M756 399h0M709 357h0M750 362h0M735 362h0M608 295h0M809 356h0M701 356h0M621 326h0M610 363h0M651 383h0M687 394h0M593 334h0M621 349h0M600 291h0M663 369h0M694 386h0M828 374h0M727 387h0M621 351h0M637 390h0M633 342h0M600 317h0M694 382h0M806 357h0M684 378h0M817 353h0M816 359h0M656 353h0M691 396h0M601 335h0M852 347h0M694 376h0M656 381h0M649 342h0M842 373h0M774 394h0M776 357h0M800 389h0M814 378h0M704 295h0M628 372h0M843 391h0M822 363h0M690 345h0M629 385h0M739 375h0M834 387h0M663 374h0M659 348h0M665 363h0M629 307h0M691 353h0M754 376h0M740 398h0M715 377h0M594 291h0M641 352h0M794 381h0M736 357h0M622 333h0M662 375h0M807 369h0M803 375h0M762 371h0M785 370h0M725 276h0M786 348h0M665 350h0M854 391h0M626 346h0M613 352h0M613 317h0M810 390h0M791 391h0M837 387h0M728 267h0M712 338h0M687 380h0M681 331h0M598 313h0M715 397h0M685 339h0M735 346h0M811 393h0M666 395h0M629 349h0M845 385h0M634 309h0M751 394h0M609 312h0M711 390h0M687 345h0M629 340h0M659 389h0M637 387h0M649 369h0M677 329h0M673 354h0M642 363h0M598 334h0M597 299h0M745 373h0M730 286h0M702 344h0M783 380h0M823 365h0M705 360h0M608 355h0M612 311h0M664 385h0M616 305h0M671 377h0M674 358h0M636 352h0M666 315h0M660 315h0M678 366h0M593 319h0M724 334h0M648 352h0M594 328h0M618 343h0M604 359h0M677 378h0M755 358h0M775 352h0M701 364h0M793 396h0M824 365h0M796 391h0M738 354h0M816 367h0M601 347h0M693 388h0M767 362h0M728 398h0M814 372h0M741 395h0M613 350h0M798 372h0M699 348h0M782 366h0M634 367h0M610 346h0M779 362h0M673 353h0M721 340h0M626 306h0M648 310h0M720 297h0M667 381h0M738 392h0M657 320h0M727 396h0M594 312h0M718 362h0M632 358h0M680 321h0M593 294h0M696 358h0M693 356h0M669 395h0M621 309h0M672 316h0M662 376h0M734 379h0M857 355h0M767 348h0M745 396h0M796 358h0M771 396h0M724 355h0M774 369h0M702 381h0M638 374h0M654 319h0M631 371h0M618 348h0M618 357h0M664 350h0M838 377h0M707 340h0M697 364h0M610 346h0M732 352h0M653 374h0M662 364h0M716 283h0M828 398h0M602 305h0M701 299h0M821 347h0M662 389h0M636 345h0M782 360h0M772 374h0M677 387h0M662 344h0M612 328h0M754 387h0M676 357h0M658 377h0M678 397h0M731 307h0M709 369h0M778 387h0M602 333h0M709 321h0M648 326h0M797 388h0M654 332h0M674 313h0M730 373h0M655 362h0M777 391h0M702 376h0M607 360h0M702 302h0M837 345h0M644 312h0M777 379h0M685 383h0M594 326h0M690 304h0M627 301h0M650 366h0M820 376h0M606 327h0M696 304h0M646 364h0M707 308h0M602 354h0M800 381h0M668 315h0M764 360h0M680 373h0M594 294h0M658 357h0M858 378h0M662 362h0M729 274h0M643 324h0M797 357h0M761 382h0M693 320h0M615 357h0M611 366h0M746 346h0M837 385h0M616 367h0M731 302h0M717 370h0M708 328h0M779 353h0M750 359h0M648 375h0M661 386h0M683 361h0M657 328h0M774 393h0M724 293h0M825 397h0M674 388h0M645 309h0M754 379h0M758 387h0M695 384h0M649 374h0M759 388h0M596 326h0M679 380h0M813 395h0M621 346h0M745 394h0M638 331h0M706 367h0M678 311h0M679 346h0M692 357h0M832 379h0M647 332h0M649 396h0M638 391h0M745 350h0M617 324h0M695 347h0M633 364h0M737 393h0M729 291h0M628 303h0M608 292h0M700 302h0M765 390h0M705 305h0M653 363h0M736 392h0M661 336h0M748 397h0M759 365h0M678 360h0M754 363h0M716 346h0M599 309h0M728 367h0M804 374h0M643 353h0M622 370h0M712 388h0M715 338h0M604 312h0M616 314h0M808 396h0M732 348h0M630 312h0M858 390h0M811 395h0M690 324h0M637 312h0M633 345h0M681 395h0M643 380h0M740 379h0M753 393h0M702 312h0M666 313h0M753 358h0M715 378h0M770 367h0M777 399h0M602 347h0M763 371h0M656 341h0M599 353h0M691 388h0M692 376h0M754 388h0M766 392h0M634 381h0M769 357h0M704 370h0M596 304h0M748 364h0M716 286h0M740 386h0M609 305h0M596 311h0M648 343h0M733 355h0M641 366h0M676 394h0M839 360h0M595 289h0M799 359h0M718 371h0M622 361h0M604 334h0M800 353h0M746 356h0M738 364h0M665 378h0M799 359h0M683 315h0M684 376h0M785 346h0M723 292h0M786 375h0M793 382h0M651 343h0M614 298h0M633 387h0M622 301h0M688 385h0M601 353h0M785 361h0M756 355h0M820 395h0M833 348h0M622 363h0M624 379h0M827 365h0M821 383h0M620 371h0M681 359h0M599 334h0M695 366h0M601 326h0M714 307h0M689 330h0M742 352h0M618 308h0M640 393h0M649 330h0M729 333h0M730 352h0M652 336h0M731 384h0M811 356h0M767 377h0M702 302h0M617 301h0M600 340h0M732 351h0M657 359h0M740 358h0M772 381h0M636 316h0M776 390h0M714 307h0M721 288h0M659 382h0M676 335h0M636 369h0M683 349h0M637 363h0M645 309h0M699 295h0M813 375h0M647 340h0M622 363h0M700 395h0M703 312h0M785 365h0M721 381h0M760 359h0M752 376h0M656 335h0M836 361h0M829 364h0M718 360h0M709 309h0M790 385h0M710 346h0M765 362h0M774 378h0M728 269h0M603 318h0M637 323h0M621 331h0M743 371h0M770 371h0M706 293h0M651 337h0M701 317h0M627 299h0M691 393h0M669 364h0M596 320h0M709 319h0M690 372h0M655 333h0M653 328h0M701 376h0M629 318h0M817 374h0M748 347h0M691 335h0M819 374h0M674 350h0M627 313h0M691 314h0M663 362h0M644 395h0M661 373h0M726 343h0M769 379h0M850 396h0M822 357h0M632 315h0M596 282h0M621 367h0M657 331h0M689 384h0M843 390h0M809 351h0M811 388h0M785 359h0M714 294h0M746 386h0M631 345h0M609 330h0M633 346h0M731 325h0M749 354h0M697 355h0M769 397h0M762 349h0M684 305h0M734 351h0M602 304h0M766 352h0M694 350h0M738 387h0M713 349h0M746 383h0M732 372h0M681 371h0M755 357h0M604 305h0M607 340h0M595 334h0M775 350h0M762 365h0M786 362h0M652 339h0M720 304h0M621 364h0M603 301h0M695 314h0M811 385h0M676 360h0M681 359h0M770 396h0M626 314h0M752 375h0M597 323h0M757 346h0M724 345h0M621 325h0M652 384h0M597 350h0M598 300h0M660 335h0M645 391h0M807 353h0M767 374h0M596 348h0M773 395h0M679 332h0M639 316h0M727 391h0M695 340h0M714 318h0M633 319h0M693 333h0M767 378h0M810 357h0M750 396h0M760 354h0M759 376h0M782 351h0M593 327h0M710 331h0M819 397h0M823 352h0M751 353h0M816 350h0M689 390h0M746 388h0M800 386h0M761 374h0M650 375h0M801 374h0M617 308h0M753 351h0M737 367h0M645 379h0M643 332h0M693 342h0M704 342h0M634 386h0M622 327h0M758 371h0M598 350h0M727 324h0M711 289h0M805 347h0M663 396h0M648 381h0M616 370h0M747 374h0M855 395h0M758 392h0M749 347h0M778 375h0M637 306h0M603 340h0M690 309h0M843 396h0M810 364h0M633 323h0M676 345h0M682 375h0M627 343h0M639 372h0M632 329h0M596 299h0M647 393h0M851 351h0M631 349h0M620 300h0M826 374h0M687 319h0M725 317h0M632 369h0M609 310h0M746 352h0M636 367h0M639 349h0M681 315h0M624 298h0M609 295h0M725 362h0M664 381h0M694 298h0M869 394h0M609 309h0M674 311h0M597 294h0M687 385h0M593 289h0M739 375h0M751 389h0M806 388h0M615 366h0M761 384h0M650 343h0M789 367h0M649 391h0M826 372h0M597 286h0M725 286h0M667 383h0M638 359h0M737 371h0M626 322h0M819 382h0M834 372h0M735 370h0M599 283h0M655 382h0M621 359h0M620 319h0M647 395h0M759 371h0M833 396h0M627 342h0M731 392h0M705 384h0M757 391h0M751 390h0M821 378h0M709 303h0M738 348h0M659 370h0M713 283h0M815 355h0M736 349h0M662 362h0M768 370h0M612 335h0M733 391h0M817 351h0M602 310h0M662 354h0M713 287h0M672 372h0M757 371h0M741 392h0M629 361h0M705 367h0M660 391h0M744 366h0M751 388h0M789 369h0M762 382h0M660 380h0M735 367h0M596 325h0M747 383h0M611 299h0M715 391h0M700 352h0M655 314h0M686 365h0M780 353h0M797 358h0M724 297h0M789 392h0M805 372h0M708 310h0M698 351h0M720 309h0M674 364h0M747 381h0M811 372h0M716 377h0M677 386h0M752 394h0M826 347h0M649 359h0M606 319h0M730 274h0M807 345h0M736 362h0M701 360h0M757 348h0M780 393h0M696 357h0M748 352h0M715 324h0M740 390h0M681 308h0M623 305h0M784 346h0M636 366h0M734 389h0M643 339h0M760 345h0M707 310h0M678 336h0M594 325h0M731 324h0M740 368h0M707 385h0M636 324h0M622 372h0M640 347h0M821 355h0M610 367h0M640 369h0M620 302h0M754 375h0M700 393h0M764 396h0M850 382h0M842 382h0M760 372h0M701 322h0M654 371h0M641 362h0M644 309h0M673 349h0M625 337h0M700 356h0M611 359h0M661 382h0M671 378h0M602 309h0M687 384h0M628 347h0M824 390h0M690 327h0M697 299h0M650 314h0M733 374h0M629 325h0M755 386h0M761 352h0M627 340h0M743 357h0M699 329h0M750 378h0M617 361h0M748 372h0M675 393h0M679 378h0M628 323h0M671 363h0M844 351h0M669 396h0M781 380h0M707 325h0M625 304h0M796 397h0M604 348h0M648 370h0M698 395h0M679 340h0M643 320h0M751 385h0M713 318h0M689 399h0M824 383h0M605 296h0M660 389h0M617 318h0M702 318h0M618 297h0M710 291h0M784 354h0M767 396h0M786 371h0M787 385h0M744 365h0M743 396h0M692 357h0M649 369h0M631 326h0M660 354h0M716 286h0M690 369h0M749 355h0M745 390h0M777 374h0M805 393h0M673 367h0M650 392h0M671 381h0M787 393h0M683 355h0M693 382h0M613 370h0M616 315h0M623 340h0M713 376h0M767 364h0M662 378h0M631 386h0M807 383h0M644 339h0M827 390h0M810 359h0M683 381h0M695 342h0M695 313h0M659 395h0M750 355h0M788 348h0M730 331h0M636 365h0M715 282h0M618 373h0M714 376h0M826 356h0M711 366h0M776 376h0M687 356h0M777 350h0M638 366h0M715 331h0M689 380h0M616 348h0M720 277h0M844 346h0M780 383h0M751 373h0M772 380h0M645 335h0M717 388h0M776 368h0M708 339h0M749 393h0M643 316h0M745 352h0M663 391h0M740 372h0M746 368h0M624 338h0M706 391h0M714 296h0M745 358h0M625 297h0M640 308h0M749 391h0M658 366h0M597 309h0M652 371h0M789 351h0M765 369h0M847 390h0M804 354h0M627 352h0M797 360h0M605 315h0M620 333h0M663 382h0M716 297h0M599 345h0M746 362h0M698 384h0M784 348h0M597 326h0M635 346h0M834 397h0M643 322h0M781 373h0M637 317h0M702 305h0M684 378h0M605 349h0M693 352h0M753 380h0M594 307h0M685 397h0M720 276h0M605 351h0M739 345h0M602 316h0M806 357h0M768 379h0M834 362h0M677 329h0M798 365h0M690 344h0M705 392h0M686 368h0M694 374h0M658 368h0M630 387h0M716 330h0M677 383h0M611 345h0M678 332h0M745 380h0M615 359h0M753 380h0M727 280h0M669 376h0M599 342h0M653 363h0M648 343h0M647 331h0M615 307h0M602 201h0M610 228h0M680 238h0M681 239h0M699 258h0M721 270h0M681 293h0M604 240h0M616 248h0M596 272h0M624 276h0M712 266h0M724 256h0" stroke="#c8c8c8" stroke-width="10.4" stroke-linecap="round"/>
<line x1="253.4" y1="22.8" x2="253.4" y2="207.5" stroke="#444" stroke-width="0.8"/>
<line x1="253.0" y1="207.1" x2="443.5" y2="207.1" stroke="#444" stroke-width="0.8"/>
<line x1="251.5" y1="199.4" x2="253.4" y2="199.4" stroke="#444" stroke-width="0.6"/>
<text x="250.5" y="201.4" font-size="5.6" fill="#444" text-anchor="end" stroke="#444" stroke-width="0.12">0</text>
<line x1="251.5" y1="157.4" x2="253.4" y2="157.4" stroke="#444" stroke-width="0.6"/>
<text x="250.5" y="159.4" font-size="5.6" fill="#444" text-anchor="end" stroke="#444" stroke-width="0.12">2</text>
<line x1="251.5" y1="115.4" x2="253.4" y2="115.4" stroke="#444" stroke-width="0.6"/>
<text x="250.5" y="117.4" font-size="5.6" fill="#444" text-anchor="end" stroke="#444" stroke-width="0.12">4</text>
<line x1="251.5" y1="73.4" x2="253.4" y2="73.4" stroke="#444" stroke-width="0.6"/>
<text x="250.5" y="75.4" font-size="5.6" fill="#444" text-anchor="end" stroke="#444" stroke-width="0.12">6</text>
<line x1="251.5" y1="31.4" x2="253.4" y2="31.4" stroke="#444" stroke-width="0.6"/>
<text x="250.5" y="33.4" font-size="5.6" fill="#444" text-anchor="end" stroke="#444" stroke-width="0.12">8</text>
<line x1="261.8" y1="207.1" x2="261.8" y2="209.2" stroke="#444" stroke-width="0.6"/>
<text x="261.8" y="214.3" font-size="5.6" fill="#444" text-anchor="middle" stroke="#444" stroke-width="0.12">−2</text>
<line x1="296.4" y1="207.1" x2="296.4" y2="209.2" stroke="#444" stroke-width="0.6"/>
<text x="296.4" y="214.3" font-size="5.6" fill="#444" text-anchor="middle" stroke="#444" stroke-width="0.12">−1</text>
<line x1="331.0" y1="207.1" x2="331.0" y2="209.2" stroke="#444" stroke-width="0.6"/>
<text x="331.0" y="214.3" font-size="5.6" fill="#444" text-anchor="middle" stroke="#444" stroke-width="0.12">0</text>
<line x1="365.6" y1="207.1" x2="365.6" y2="209.2" stroke="#444" stroke-width="0.6"/>
<text x="365.6" y="214.3" font-size="5.6" fill="#444" text-anchor="middle" stroke="#444" stroke-width="0.12">1</text>
<line x1="400.2" y1="207.1" x2="400.2" y2="209.2" stroke="#444" stroke-width="0.6"/>
<text x="400.2" y="214.3" font-size="5.6" fill="#444" text-anchor="middle" stroke="#444" stroke-width="0.12">2</text>
<line x1="434.8" y1="207.1" x2="434.8" y2="209.2" stroke="#444" stroke-width="0.6"/>
<text x="434.8" y="214.3" font-size="5.6" fill="#444" text-anchor="middle" stroke="#444" stroke-width="0.12">3</text>
<text x="342.0" y="222.0" font-size="7.4" fill="#111" text-anchor="middle" stroke="#111" stroke-width="0.12">log<tspan font-size="4.8" dy="1.5">2</tspan><tspan dy="-1.5">FoldChange</tspan></text>
<line x1="296.3" y1="25.0" x2="296.3" y2="207.1" stroke="#777" stroke-width="1" stroke-dasharray="5 3"/>
<line x1="365.9" y1="25.0" x2="365.9" y2="207.1" stroke="#777" stroke-width="1" stroke-dasharray="5 3"/>
<line x1="253.4" y1="172.0" x2="443.5" y2="172.0" stroke="#777" stroke-width="1" stroke-dasharray="5 3"/>
<g fill="#f6b820"><circle cx="277.2" cy="131.9" r="2.8"/><circle cx="293.3" cy="133.1" r="2.8"/><circle cx="293.9" cy="140.7" r="2.8"/><circle cx="287.2" cy="142.8" r="2.8"/><circle cx="282.0" cy="145.4" r="2.8"/><circle cx="284.6" cy="148.9" r="2.8"/><circle cx="289.8" cy="151.5" r="2.8"/><circle cx="291.6" cy="155.9" r="2.8"/><circle cx="290.2" cy="159.4" r="2.8"/><circle cx="292.4" cy="162.9" r="2.8"/><circle cx="294.2" cy="166.4" r="2.8"/><circle cx="295.0" cy="169.0" r="2.8"/><circle cx="288.0" cy="157.0" r="2.8"/><circle cx="293.0" cy="153.0" r="2.8"/><circle cx="286.0" cy="152.0" r="2.8"/><circle cx="291.5" cy="147.0" r="2.8"/></g>
<g fill="#2f8a3a"><circle cx="368.0" cy="126.0" r="2.8"/><circle cx="372.0" cy="124.0" r="2.8"/><circle cx="369.0" cy="131.0" r="2.8"/><circle cx="373.0" cy="130.0" r="2.8"/><circle cx="370.0" cy="136.0" r="2.8"/><circle cx="375.0" cy="127.0" r="2.8"/><circle cx="368.0" cy="140.0" r="2.8"/><circle cx="378.0" cy="124.0" r="2.8"/><circle cx="371.0" cy="145.0" r="2.8"/></g>
<path d="M367.3 125.8L380.4 124L387.4 128.4L383 138.9L376.9 152L377.8 157.3L383.9 159L390 162.5L390.9 167.8L383.9 173L372.5 171.3L367.3 169.5Z" fill="#0c6b19" stroke="#0c6b19" stroke-width="2.5" stroke-linejoin="round"/>
<g fill="#2f8a3a"><circle cx="368.2" cy="92.6" r="2.8"/><circle cx="384.8" cy="95.8" r="2.8"/><circle cx="391.3" cy="96.6" r="2.8"/><circle cx="393.9" cy="90.5" r="2.8"/><circle cx="385.7" cy="101.9" r="2.8"/><circle cx="386.4" cy="103.7" r="2.8"/><circle cx="393.9" cy="103.7" r="2.8"/><circle cx="392.2" cy="108.0" r="2.8"/><circle cx="392.2" cy="110.7" r="2.8"/><circle cx="382.6" cy="118.5" r="2.8"/><circle cx="388.7" cy="119.4" r="2.8"/><circle cx="387.8" cy="141.3" r="2.8"/><circle cx="393.1" cy="143.9" r="2.8"/><circle cx="388.3" cy="146.6" r="2.8"/><circle cx="394.8" cy="148.3" r="2.8"/><circle cx="401.0" cy="152.7" r="2.8"/><circle cx="395.7" cy="155.3" r="2.8"/><circle cx="415.8" cy="163.7" r="2.8"/><circle cx="405.3" cy="171.1" r="2.8"/><circle cx="415.8" cy="170.2" r="2.8"/><circle cx="390.0" cy="160.0" r="2.8"/><circle cx="386.0" cy="164.0" r="2.8"/><circle cx="394.0" cy="160.0" r="2.8"/></g>
<text x="311.7" y="132.0" font-size="6.6" fill="#111" font-style="italic" stroke="#111" stroke-width="0.12">APOE</text>
<text x="262.7" y="142.0" font-size="6.6" fill="#111" font-style="italic" stroke="#111" stroke-width="0.12">CRYAB</text>
<text x="272.3" y="152.0" font-size="6.6" fill="#111" font-style="italic" stroke="#111" stroke-width="0.12">SOD3</text>
<text x="296.8" y="157.0" font-size="6.6" fill="#111" font-style="italic" stroke="#111" stroke-width="0.12">RMRP</text>
<text x="269.7" y="165.0" font-size="6.6" fill="#111" font-style="italic" stroke="#111" stroke-width="0.12">HSPA6</text>
<text x="276.7" y="172.3" font-size="6.6" fill="#111" font-style="italic" stroke="#111" stroke-width="0.12">RPS27</text>
<text x="399.2" y="103.0" font-size="6.6" fill="#111" font-style="italic" stroke="#111" stroke-width="0.12">CELSR2</text>
<text x="367.7" y="112.5" font-size="6.6" fill="#111" font-style="italic" stroke="#111" stroke-width="0.12">KIF18A</text>
<text x="393.1" y="118.5" font-size="6.6" fill="#111" font-style="italic" stroke="#111" stroke-width="0.12">ADAM22</text>
<text x="392.2" y="126.0" font-size="6.6" fill="#111" font-style="italic" stroke="#111" stroke-width="0.12">POLQ</text>
<text x="386.9" y="135.0" font-size="6.6" fill="#111" font-style="italic" stroke="#111" stroke-width="0.12">PDE3B</text>
<text x="397.1" y="141.5" font-size="6.6" fill="#111" font-style="italic" stroke="#111" stroke-width="0.12">TP73</text>
<text x="406.7" y="150.5" font-size="6.6" fill="#111" font-style="italic" stroke="#111" stroke-width="0.12">MYB</text>
<text x="379.0" y="154.5" font-size="6.6" fill="#111" font-style="italic" stroke="#111" stroke-width="0.12">CHEK1</text>
<text x="415.0" y="160.5" font-size="6.6" fill="#111" font-style="italic" stroke="#111" stroke-width="0.12">INSC</text>
<text x="388.7" y="164.0" font-size="6.6" fill="#111" font-style="italic" stroke="#111" stroke-width="0.12">BRIP1</text>
<text x="370.3" y="168.5" font-size="6.6" fill="#111" font-style="italic" stroke="#111" stroke-width="0.12">COL6A3</text>
<text x="413.2" y="177.0" font-size="6.6" fill="#111" font-style="italic" stroke="#111" stroke-width="0.12">FSTL4</text>
<line x1="311.4" y1="130.2" x2="294.6" y2="139.3" stroke="#000" stroke-width="0.9"/>
<line x1="302.0" y1="149.8" x2="294.2" y2="151.2" stroke="#000" stroke-width="0.9"/>
<text x="433.0" y="21.0" font-size="13.5" fill="#000" font-weight="bold">c</text>
<rect x="545.5" y="0.1" width="56.9" height="4.9" fill="#1b6e20"/>
<text x="543.8" y="4.7" font-size="6.0" fill="#3a3a3a" text-anchor="end" stroke="#3a3a3a" stroke-width="0.12">E2F3 TARGETS</text>
<rect x="545.5" y="5.7" width="48.3" height="4.9" fill="#1b6e20"/>
<text x="543.8" y="10.2" font-size="6.0" fill="#3a3a3a" text-anchor="end" stroke="#3a3a3a" stroke-width="0.12">CELL CYCLE GENES</text>
<rect x="545.5" y="11.2" width="45.7" height="4.9" fill="#1b6e20"/>
<text x="543.8" y="15.8" font-size="6.0" fill="#3a3a3a" text-anchor="end" stroke="#3a3a3a" stroke-width="0.12">EMT</text>
<rect x="545.5" y="16.7" width="44.5" height="4.9" fill="#1b6e20"/>
<text x="543.8" y="21.3" font-size="6.0" fill="#3a3a3a" text-anchor="end" stroke="#3a3a3a" stroke-width="0.12">G2 M CELL CYCLE</text>
<rect x="545.5" y="22.3" width="41.5" height="4.9" fill="#1b6e20"/>
<text x="543.8" y="26.8" font-size="6.0" fill="#3a3a3a" text-anchor="end" stroke="#3a3a3a" stroke-width="0.12">DOXORUBICIN RESISTANCE</text>
<rect x="545.5" y="27.8" width="33.5" height="4.9" fill="#1b6e20"/>
<text x="543.8" y="32.4" font-size="6.0" fill="#3a3a3a" text-anchor="end" stroke="#3a3a3a" stroke-width="0.12">NRAS SIGNALING DN</text>
<rect x="545.5" y="33.3" width="27.5" height="4.9" fill="#1b6e20"/>
<text x="543.8" y="37.9" font-size="6.0" fill="#3a3a3a" text-anchor="end" stroke="#3a3a3a" stroke-width="0.12">PROLIFERATION</text>
<rect x="545.5" y="38.9" width="27.1" height="4.9" fill="#1b6e20"/>
<text x="543.8" y="43.4" font-size="6.0" fill="#3a3a3a" text-anchor="end" stroke="#3a3a3a" stroke-width="0.12">GLIOBLASTOMA PLASTICITY</text>
<rect x="545.5" y="44.4" width="26.7" height="4.9" fill="#1b6e20"/>
<text x="543.8" y="48.9" font-size="6.0" fill="#3a3a3a" text-anchor="end" stroke="#3a3a3a" stroke-width="0.12">ADIPOGENESIS</text>
<rect x="545.5" y="49.9" width="23.0" height="4.9" fill="#1b6e20"/>
<text x="543.8" y="54.5" font-size="6.0" fill="#3a3a3a" text-anchor="end" stroke="#3a3a3a" stroke-width="0.12">APOPTOSIS BY CDKN1A VIA TP53</text>
<rect x="545.5" y="55.5" width="19.3" height="4.9" fill="#1b6e20"/>
<text x="543.8" y="60.0" font-size="6.0" fill="#3a3a3a" text-anchor="end" stroke="#3a3a3a" stroke-width="0.12">E2A TARGETS</text>
<rect x="545.5" y="61.0" width="17.5" height="4.9" fill="#1b6e20"/>
<text x="543.8" y="65.5" font-size="6.0" fill="#3a3a3a" text-anchor="end" stroke="#3a3a3a" stroke-width="0.12">BCL3 TARGETS</text>
<rect x="545.5" y="66.5" width="11.8" height="4.9" fill="#1b6e20"/>
<text x="543.8" y="71.1" font-size="6.0" fill="#3a3a3a" text-anchor="end" stroke="#3a3a3a" stroke-width="0.12">DNA REPAIR GENES</text>
<rect x="545.5" y="72.0" width="9.5" height="4.9" fill="#1b6e20"/>
<text x="543.8" y="76.6" font-size="6.0" fill="#3a3a3a" text-anchor="end" stroke="#3a3a3a" stroke-width="0.12">METASTASIS</text>
<rect x="545.5" y="77.6" width="7.7" height="4.9" fill="#1b6e20"/>
<text x="543.8" y="82.1" font-size="6.0" fill="#3a3a3a" text-anchor="end" stroke="#3a3a3a" stroke-width="0.12">FANCONI PATHWAY</text>
<rect x="545.5" y="83.1" width="6.5" height="4.9" fill="#1b6e20"/>
<text x="543.8" y="87.6" font-size="6.0" fill="#3a3a3a" text-anchor="end" stroke="#3a3a3a" stroke-width="0.12">DNA DOUBLE STRAND BREAK REPAIR</text>
<rect x="545.5" y="88.6" width="5.5" height="4.9" fill="#1b6e20"/>
<text x="543.8" y="93.2" font-size="6.0" fill="#3a3a3a" text-anchor="end" stroke="#3a3a3a" stroke-width="0.12">RB PATHWAY</text>
<rect x="545.5" y="94.2" width="5.1" height="4.9" fill="#1b6e20"/>
<text x="543.8" y="98.7" font-size="6.0" fill="#3a3a3a" text-anchor="end" stroke="#3a3a3a" stroke-width="0.12">SIGNALING BY GPCR</text>
<rect x="545.5" y="99.7" width="5.1" height="4.9" fill="#1b6e20"/>
<text x="543.8" y="104.2" font-size="6.0" fill="#3a3a3a" text-anchor="end" stroke="#3a3a3a" stroke-width="0.12">REGULATION OF TP53 ACTIVITY</text>
<rect x="545.5" y="105.2" width="4.5" height="4.9" fill="#1b6e20"/>
<text x="543.8" y="109.8" font-size="6.0" fill="#3a3a3a" text-anchor="end" stroke="#3a3a3a" stroke-width="0.12">GLIOBLASTOMA PRONEURAL</text>
<rect x="545.5" y="110.8" width="2.5" height="4.9" fill="#1b6e20"/>
<text x="543.8" y="115.3" font-size="6.0" fill="#3a3a3a" text-anchor="end" stroke="#3a3a3a" stroke-width="0.12">CORE MATRISOME</text>
<rect x="541.7" y="116.3" width="3.8" height="4.9" fill="#f5b316"/>
<text x="548.0" y="120.8" font-size="6.0" fill="#3a3a3a" stroke="#3a3a3a" stroke-width="0.12">TUMOR VASCULATURE</text>
<rect x="541.0" y="121.8" width="4.5" height="4.9" fill="#f5b316"/>
<text x="548.0" y="126.4" font-size="6.0" fill="#3a3a3a" stroke="#3a3a3a" stroke-width="0.12">TNF SIGNALING NOT VIA NFKB</text>
<rect x="540.2" y="127.3" width="5.3" height="4.9" fill="#f5b316"/>
<text x="548.0" y="131.9" font-size="6.0" fill="#3a3a3a" stroke="#3a3a3a" stroke-width="0.12">HYPOXIA VIA VHL</text>
<rect x="539.5" y="132.9" width="6.0" height="4.9" fill="#f5b316"/>
<text x="548.0" y="137.4" font-size="6.0" fill="#3a3a3a" stroke="#3a3a3a" stroke-width="0.12">RESPONSE TO EXTRACELLULAR MATRIX</text>
<rect x="538.3" y="138.4" width="7.2" height="4.9" fill="#f5b316"/>
<text x="548.0" y="142.9" font-size="6.0" fill="#3a3a3a" stroke="#3a3a3a" stroke-width="0.12">CISPLATIN RESISTANCE</text>
<rect x="536.8" y="143.9" width="8.7" height="4.9" fill="#f5b316"/>
<text x="548.0" y="148.5" font-size="6.0" fill="#3a3a3a" stroke="#3a3a3a" stroke-width="0.12">GLIOMAGENESIS BY PDGFB</text>
<rect x="531.3" y="149.5" width="14.2" height="4.9" fill="#f5b316"/>
<text x="548.0" y="154.0" font-size="6.0" fill="#3a3a3a" stroke="#3a3a3a" stroke-width="0.12">MAMMARY STEM CELL</text>
<rect x="528.0" y="155.0" width="17.5" height="4.9" fill="#f5b316"/>
<text x="548.0" y="159.5" font-size="6.0" fill="#3a3a3a" stroke="#3a3a3a" stroke-width="0.12">HIPPOCAMPUS PRENATAL</text>
<rect x="524.2" y="160.5" width="21.3" height="4.9" fill="#f5b316"/>
<text x="548.0" y="165.1" font-size="6.0" fill="#3a3a3a" stroke="#3a3a3a" stroke-width="0.12">TRANSLATION</text>
<rect x="523.0" y="166.1" width="22.5" height="4.9" fill="#f5b316"/>
<text x="548.0" y="170.6" font-size="6.0" fill="#3a3a3a" stroke="#3a3a3a" stroke-width="0.12">METABOLISM OF AMINO ACIDS</text>
<rect x="517.5" y="171.6" width="28.0" height="4.9" fill="#f5b316"/>
<text x="548.0" y="176.1" font-size="6.0" fill="#3a3a3a" stroke="#3a3a3a" stroke-width="0.12">SIGNALING BY ROBO RECEPTORS</text>
<rect x="516.4" y="177.1" width="29.1" height="4.9" fill="#f5b316"/>
<text x="548.0" y="181.7" font-size="6.0" fill="#3a3a3a" stroke="#3a3a3a" stroke-width="0.12">RRNA PROCESSING</text>
<rect x="512.0" y="182.6" width="33.5" height="4.9" fill="#f5b316"/>
<text x="548.0" y="187.2" font-size="6.0" fill="#3a3a3a" stroke="#3a3a3a" stroke-width="0.12">EUKARYOTIC TRANSLATION INITIATION</text>
<rect x="511.2" y="188.2" width="34.3" height="4.9" fill="#f5b316"/>
<text x="548.0" y="192.7" font-size="6.0" fill="#3a3a3a" stroke="#3a3a3a" stroke-width="0.12">NONSENSE MEDIATED DECAY NMD</text>
<rect x="510.0" y="193.7" width="35.5" height="4.9" fill="#f5b316"/>
<text x="548.0" y="198.2" font-size="6.0" fill="#3a3a3a" stroke="#3a3a3a" stroke-width="0.12">SELENOAMINO ACID METABOLISM</text>
<rect x="507.0" y="199.2" width="38.5" height="4.9" fill="#f5b316"/>
<text x="548.0" y="203.8" font-size="6.0" fill="#3a3a3a" stroke="#3a3a3a" stroke-width="0.12">EUKARYOTIC TRANSLATION ELONGATION</text>
<rect x="506.3" y="204.8" width="39.2" height="4.9" fill="#f5b316"/>
<text x="548.0" y="209.3" font-size="6.0" fill="#3a3a3a" stroke="#3a3a3a" stroke-width="0.12">RIBOSOME</text>
<line x1="478.4" y1="211.4" x2="621.7" y2="211.4" stroke="#444" stroke-width="0.8"/>
<line x1="494.0" y1="211.4" x2="494.0" y2="213.4" stroke="#444" stroke-width="0.6"/>
<text x="494.0" y="218.8" font-size="5.6" fill="#444" text-anchor="middle" stroke="#444" stroke-width="0.12">−20</text>
<line x1="545.4" y1="211.4" x2="545.4" y2="213.4" stroke="#444" stroke-width="0.6"/>
<text x="545.4" y="218.8" font-size="5.6" fill="#444" text-anchor="middle" stroke="#444" stroke-width="0.12">0</text>
<line x1="595.7" y1="211.4" x2="595.7" y2="213.4" stroke="#444" stroke-width="0.6"/>
<text x="595.7" y="218.8" font-size="5.6" fill="#444" text-anchor="middle" stroke="#444" stroke-width="0.12">20</text>
<text x="546.0" y="224.3" font-size="7.3" fill="#222" text-anchor="middle" stroke="#222" stroke-width="0.15">−log<tspan font-size="4.8" dy="1.5">10</tspan><tspan dy="-1.5" font-style="italic">Pvalue</tspan></text>
<text x="6.5" y="238.8" font-size="13.5" fill="#000" font-weight="bold">d</text>
<text x="36.3" y="238.8" font-size="9.6" fill="#111" stroke="#111" stroke-width="0.18">Chr</text>
<text x="69.0" y="238.8" font-size="9.0" fill="#111" text-anchor="middle" stroke="#111" stroke-width="0.18">1</text>
<text x="120.5" y="238.8" font-size="9.0" fill="#111" text-anchor="middle" stroke="#111" stroke-width="0.18">2</text>
<text x="170.0" y="238.8" font-size="9.0" fill="#111" text-anchor="middle" stroke="#111" stroke-width="0.18">3</text>
<text x="208.9" y="238.8" font-size="9.0" fill="#111" text-anchor="middle" stroke="#111" stroke-width="0.18">4</text>
<text x="246.6" y="238.8" font-size="9.0" fill="#111" text-anchor="middle" stroke="#111" stroke-width="0.18">5</text>
<text x="284.0" y="238.8" font-size="9.0" fill="#111" text-anchor="middle" stroke="#111" stroke-width="0.18">6</text>
<text x="320.8" y="238.8" font-size="9.0" fill="#111" text-anchor="middle" stroke="#111" stroke-width="0.18">7</text>
<text x="351.0" y="238.8" font-size="9.0" fill="#111" text-anchor="middle" stroke="#111" stroke-width="0.18">8</text>
<text x="381.7" y="238.8" font-size="9.0" fill="#111" text-anchor="middle" stroke="#111" stroke-width="0.18">9</text>
<text x="406.7" y="238.8" font-size="9.0" fill="#111" text-anchor="middle" stroke="#111" stroke-width="0.18">10</text>
<text x="438.8" y="238.8" font-size="9.0" fill="#111" text-anchor="middle" stroke="#111" stroke-width="0.18">11</text>
<text x="465.3" y="238.8" font-size="9.0" fill="#111" text-anchor="middle" stroke="#111" stroke-width="0.18">12</text>
<text x="491.4" y="238.8" font-size="9.0" fill="#111" text-anchor="middle" stroke="#111" stroke-width="0.18">13</text>
<text x="515.3" y="238.8" font-size="9.0" fill="#111" text-anchor="middle" stroke="#111" stroke-width="0.18">14</text>
<text x="537.8" y="238.8" font-size="9.0" fill="#111" text-anchor="middle" stroke="#111" stroke-width="0.18">15</text>
<text x="557.0" y="238.8" font-size="9.0" fill="#111" text-anchor="middle" stroke="#111" stroke-width="0.18">16</text>
<text x="575.8" y="238.8" font-size="9.0" fill="#111" text-anchor="middle" stroke="#111" stroke-width="0.18">17</text>
<text x="592.2" y="238.8" font-size="9.0" fill="#111" text-anchor="middle" stroke="#111" stroke-width="0.18">18</text>
<text x="607.2" y="238.8" font-size="9.0" fill="#111" text-anchor="middle" stroke="#111" stroke-width="0.18">19</text>
<text x="620.0" y="238.8" font-size="9.0" fill="#111" text-anchor="middle" stroke="#111" stroke-width="0.18">20</text>
<text x="632.6" y="238.8" font-size="9.0" fill="#111" text-anchor="middle" stroke="#111" stroke-width="0.18">21</text>
<text x="644.0" y="238.8" font-size="9.0" fill="#111" text-anchor="middle" stroke="#111" stroke-width="0.18">22</text>
<line x1="42.0" y1="246.9" x2="649.1" y2="246.9" stroke="#a8a890" stroke-width="0.8" stroke-dasharray="2.5 2"/>
<line x1="42.0" y1="276.8" x2="649.1" y2="276.8" stroke="#a8a890" stroke-width="0.8" stroke-dasharray="2.5 2"/>
<line x1="40.0" y1="246.9" x2="42.0" y2="246.9" stroke="#333" stroke-width="0.6"/>
<text x="39.5" y="248.8" font-size="5.6" fill="#333" text-anchor="end" stroke="#333" stroke-width="0.12">1</text>
<line x1="40.0" y1="261.6" x2="42.0" y2="261.6" stroke="#333" stroke-width="0.6"/>
<text x="39.5" y="263.5" font-size="5.6" fill="#333" text-anchor="end" stroke="#333" stroke-width="0.12">0</text>
<line x1="40.0" y1="276.8" x2="42.0" y2="276.8" stroke="#333" stroke-width="0.6"/>
<text x="39.5" y="278.7" font-size="5.6" fill="#333" text-anchor="end" stroke="#333" stroke-width="0.12">−1</text>
<path d="M42.2 263.0 L43.3 263.0 L44.4 264.1 L45.5 267.5 L46.6 272.7 L47.7 275.0 L48.8 270.7 L49.9 265.8 L51.0 261.0 L52.0 256.9 L53.6 252.3 L55.3 256.7 L56.4 260.8 L57.5 265.6 L58.6 267.4 L59.7 268.0 L60.8 269.7 L61.9 269.4 L63.0 272.5 L64.1 274.3 L65.8 271.1 L67.4 267.0 M71.7 267.4 L72.8 267.9 L74.0 270.7 L75.0 264.5 L76.1 264.6 L77.2 264.3 L78.3 263.8 L79.4 263.4 L80.5 263.9 L81.6 263.6 L82.7 263.4 L83.8 261.6 L84.9 260.8 L86.0 260.5 L87.1 259.4 L88.2 258.8 L89.3 259.5 L90.4 260.3 L91.5 262.0 L92.5 261.4 L93.6 262.9 M94.7 260.6 L95.8 260.5 L96.9 261.1 L98.0 261.6 L99.1 261.2 L100.2 260.7 L101.3 260.4 L102.4 259.9 L103.5 260.8 L104.6 259.1 L105.7 259.5 L106.8 260.1 L107.9 262.5 L109.0 261.3 L110.1 265.5 L111.2 267.1 L112.3 270.9 L113.3 270.8 L114.4 270.9 L115.5 269.5 L116.6 267.5 L117.7 266.3 L118.8 266.9 L119.9 266.1 L121.0 265.9 L122.1 266.5 L123.2 264.7 L124.3 263.7 L125.4 264.5 L126.5 260.7 L127.6 258.0 L128.7 255.3 L129.8 258.2 L130.9 260.6 L132.0 260.6 L133.1 262.3 L134.2 264.4 L135.2 259.5 L136.3 256.6 L137.4 258.0 L138.5 260.7 L139.6 262.1 L140.7 265.9 L141.8 261.1 L142.9 257.0 L144.2 260.5 L145.5 264.8 M146.2 265.8 L147.3 268.3 L148.4 270.6 L149.5 269.4 L150.6 268.0 L151.7 265.2 L152.8 263.2 L153.9 262.3 L155.0 261.1 L156.1 256.8 L157.1 252.3 L158.2 247.3 L159.1 246.4 L160.0 244.1 L161.3 245.0 L162.6 246.1 L163.7 246.8 L164.8 248.8 L165.9 248.6 L167.0 252.1 L168.1 256.5 L169.2 259.3 L170.3 258.2 L171.4 257.5 L172.5 255.8 L173.6 256.1 L174.7 255.6 L175.8 254.5 L176.9 254.5 L177.9 254.2 L179.0 254.6 L180.1 255.1 L181.2 254.0 L182.3 253.3 L183.4 254.7 L184.5 255.3 L185.6 257.3 L186.5 257.4 L187.4 258.9 M187.9 260.6 L188.9 259.7 L189.9 260.8 L190.8 260.5 L191.8 260.9 L192.7 260.5 L193.6 260.7 L194.5 262.0 L195.4 261.7 L196.3 261.6 L197.2 261.5 L198.1 262.1 L199.0 260.5 L199.9 260.3 L200.8 261.6 L201.7 260.3 L202.6 260.3 L203.6 260.1 L204.5 260.5 L205.4 259.4 L206.5 257.8 L207.7 257.6 L208.8 256.6 L209.9 254.9 L211.1 252.4 L212.2 250.3 L213.3 251.4 L214.4 252.0 L215.5 253.8 L216.6 254.8 L217.8 255.1 L218.9 254.9 L220.0 253.4 L221.2 252.9 L222.3 252.8 L223.3 251.3 L224.3 250.3 L225.3 249.9 L226.3 250.1 L227.3 248.3 M228.3 251.2 L229.4 252.3 L230.4 254.3 L231.4 255.7 L232.5 256.8 L233.6 259.4 L234.8 262.5 L235.9 263.7 L237.1 266.8 L238.2 269.0 L239.3 267.8 L240.5 265.7 L241.6 263.8 L242.7 262.6 L243.8 260.9 L244.9 262.8 L246.1 264.7 L247.2 265.7 L248.3 264.6 L249.5 265.0 L250.6 264.2 L251.7 261.9 L252.9 261.0 L254.0 258.8 L255.1 260.5 L256.3 262.5 L257.4 263.9 L258.5 265.1 L259.7 266.9 L260.8 267.8 L261.9 267.4 L262.9 266.5 L263.9 265.2 L265.0 265.8 M266.0 252.4 L267.4 256.4 L268.7 260.9 L269.9 266.3 L271.0 272.8 L272.1 284.1 L273.3 273.5 L274.4 267.7 L275.5 262.3 L276.6 260.4 L277.8 258.6 L278.9 260.0 L280.1 259.5 L281.2 261.2 L282.3 263.2 L283.5 263.7 L284.6 266.8 L285.7 267.1 L286.9 267.5 L288.0 268.5 L288.9 268.8 L289.9 268.9 L290.8 269.1 L291.7 268.7 L292.7 268.9 L293.6 269.6 L294.6 268.9 L295.5 268.0 L296.5 268.4 L297.4 268.2 L298.4 268.0 L299.3 267.4 L300.6 266.8 L302.0 266.1 M302.7 266.6 L303.8 267.3 L305.0 268.1 L306.1 268.7 L307.2 270.9 L308.4 272.3 L309.5 275.3 L310.6 271.3 L311.7 269.3 L312.8 267.2 L314.0 264.6 L315.1 262.3 L316.2 260.0 L317.4 256.9 L318.5 252.3 L319.6 255.7 L320.8 256.5 L321.9 259.0 L323.1 261.3 L324.2 261.7 L325.3 260.4 L326.5 257.1 L327.6 255.2 L328.7 256.0 L329.9 258.8 L331.0 260.2 L332.1 264.6 L333.2 267.4 L334.4 268.2 L335.5 268.6 M336.1 253.2 L337.2 255.4 L338.4 255.8 L339.5 257.4 L340.4 258.1 L341.3 258.5 L342.2 258.5 L343.1 258.3 L344.0 259.6 L344.9 260.3 L345.8 261.4 L346.8 261.7 L347.7 262.1 L348.6 263.4 L349.7 262.5 L350.9 262.7 L352.0 261.2 L352.9 261.2 L353.8 261.7 L354.7 261.2 L355.6 261.2 L356.5 261.2 L357.4 260.9 L358.3 261.2 L359.2 261.7 L360.1 263.1 L361.0 263.1 L362.0 263.7 L363.0 265.1 L364.0 265.1 L365.0 266.9 L366.0 268.0 M367.8 258.1 L368.9 256.1 L370.1 256.3 L371.2 255.8 L372.1 257.2 L373.0 255.3 L373.9 257.4 L374.8 257.3 L375.7 257.4 M380.3 258.0 L381.4 258.8 L382.6 259.8 L383.7 259.8 L384.8 257.5 L385.9 255.9 L387.0 254.3 L388.2 252.9 L389.3 254.0 L390.4 254.6 L391.5 259.5 L392.7 262.5 L393.8 264.3 L394.9 267.0 L396.0 269.0 M397.2 274.8 L398.4 269.8 L399.5 267.1 L400.6 265.7 L401.8 263.6 L402.9 261.5 L404.0 262.0 L405.2 263.1 L406.3 263.6 L407.4 264.0 L408.6 265.6 L409.7 266.1 L410.8 264.3 L412.0 261.7 L413.1 261.7 L414.2 261.3 L415.4 261.4 L416.5 260.5 L417.6 260.4 L418.8 258.6 L419.9 255.6 L420.9 255.2 L421.9 252.1 L423.0 250.5 L424.0 249.9 M425.5 261.2 L426.6 259.7 L427.8 258.2 L428.9 256.1 L430.0 257.5 L431.2 259.7 L432.3 261.4 L433.4 262.7 L434.6 262.6 L435.7 264.1 L436.9 267.6 L438.0 272.5 L439.1 267.1 L440.2 263.1 L441.3 262.9 L442.5 260.4 L443.6 260.4 L444.7 258.5 L445.9 259.3 L447.0 257.8 L448.1 259.5 L449.3 261.9 L450.4 261.8 L451.7 262.6 L453.0 264.7 M454.9 262.4 L456.0 261.9 L457.2 261.9 L458.3 262.6 L459.4 262.0 L460.6 263.5 L461.7 263.1 L462.6 263.4 L463.5 264.2 L464.5 264.6 L465.4 265.1 L466.3 265.4 L467.2 266.5 L468.1 265.7 L469.0 266.0 L469.9 266.9 L470.8 266.5 L471.7 267.4 L472.6 267.6 L473.5 267.5 L474.4 267.3 L475.3 268.5 L476.4 268.5 L477.6 268.2 L478.7 267.8 L479.9 264.5 L481.0 263.3 M484.0 271.9 L485.0 272.0 L485.9 270.7 L486.9 270.4 L487.8 269.6 L488.7 269.4 L489.6 268.8 L490.5 268.8 L491.5 268.1 L492.4 267.8 L493.3 266.0 L494.2 264.3 L495.2 262.7 L496.1 262.6 L497.1 261.4 L498.0 259.5 L498.9 258.8 L499.9 258.9 L500.8 256.1 L501.8 255.2 L502.7 254.7 L503.6 252.6 L505.3 253.2 M509.3 271.7 L510.3 269.0 L511.3 267.5 L512.3 263.7 L513.2 264.5 L514.1 264.0 L515.1 263.0 L516.0 264.1 L516.9 263.2 L517.9 263.1 L518.8 263.2 L519.7 264.6 L521.0 263.2 L522.2 261.6 L523.5 265.0 L524.7 268.4 L526.0 269.3 L527.2 271.9 M532.1 262.5 L533.0 262.1 L534.0 263.8 L534.9 264.3 L535.8 265.6 L536.8 265.5 L537.7 265.5 L538.6 265.1 L539.6 263.9 L540.5 262.7 L541.5 261.4 L542.4 259.3 L543.3 258.3 L544.5 260.5 L545.8 263.6 L546.9 260.8 L547.9 258.9 L549.0 256.5 M550.7 265.9 L551.7 266.8 L552.6 267.2 L553.5 268.0 L554.5 268.5 L555.4 266.9 L556.4 266.8 L557.3 265.6 L558.2 265.7 L559.1 264.9 L560.0 263.3 L561.0 264.1 L561.9 262.8 L562.8 263.0 L563.8 262.5 L564.7 264.1 L565.6 263.8 L566.9 265.9 L568.1 266.6 M570.6 266.6 L571.9 262.8 L573.1 259.6 L574.4 266.5 L575.6 273.9 L576.8 268.1 L578.0 262.0 L579.0 260.3 L579.9 260.2 L580.8 259.3 L581.8 258.3 L582.9 260.5 L583.9 261.6 L585.0 264.4 M586.7 258.8 L587.6 259.9 L588.5 259.7 L589.5 260.6 L590.4 259.8 L591.4 260.7 L592.3 261.5 L593.2 262.8 L594.2 264.2 L595.1 264.1 L596.0 265.0 L597.0 266.0 L597.9 266.9 L598.8 268.0 L599.8 267.6 L600.7 268.1 L601.6 268.8 M604.1 264.6 L605.0 264.3 L606.0 265.3 L606.9 264.5 L607.8 264.6 L609.0 263.9 L610.3 262.9 L611.4 264.6 L612.4 266.1 L613.5 267.1 M615.3 257.4 L616.5 253.7 L617.8 252.5 L619.0 253.2 L620.2 254.7 L621.5 258.0 L622.7 261.6 L623.8 262.0 L624.9 262.8 L625.9 264.5 L627.0 265.6 M630.2 258.4 L631.4 258.2 L632.6 259.6 L633.9 259.1 L635.1 259.8 L636.4 263.5 L637.6 265.6 M641.3 258.2 L642.5 261.3 L643.8 264.3 L645.0 267.6 L646.3 271.8 L647.5 275.6 L648.8 280.6" fill="none" stroke="#f7b42a" stroke-width="3.6" stroke-linejoin="round" stroke-linecap="round"/>
<path d="M42.2 261.5 L43.3 261.9 L44.4 262.7 L45.5 266.6 L46.6 270.9 L47.7 273.5 L48.8 268.8 L49.9 264.9 L51.0 259.5 L52.0 255.3 L53.6 251.0 L55.3 255.7 L56.4 259.8 L57.5 264.6 L58.6 265.7 L59.7 267.0 L60.8 268.0 L61.9 268.1 L63.0 271.0 L64.1 272.8 L65.8 269.7 L67.4 265.4 M71.7 265.5 L72.8 266.8 L74.0 269.0 L75.0 263.5 L76.1 263.7 L77.2 263.3 L78.3 262.9 L79.4 262.0 L80.5 262.4 L81.6 262.5 L82.7 261.5 L83.8 260.4 L84.9 259.8 L86.0 259.4 L87.1 257.7 L88.2 257.0 L89.3 258.4 L90.4 259.4 L91.5 260.3 L92.5 260.3 L93.6 261.0 M94.7 258.8 L95.8 259.4 L96.9 259.3 L98.0 260.3 L99.1 259.5 L100.2 258.9 L101.3 259.4 L102.4 258.2 L103.5 258.9 L104.6 257.9 L105.7 258.6 L106.8 259.1 L107.9 260.6 L109.0 260.4 L110.1 263.7 L111.2 266.0 L112.3 269.3 L113.3 269.8 L114.4 269.9 L115.5 267.9 L116.6 266.5 L117.7 265.1 L118.8 265.0 L119.9 264.5 L121.0 264.2 L122.1 264.7 L123.2 263.8 L124.3 262.6 L125.4 262.8 L126.5 259.1 L127.6 257.1 L128.7 253.9 L129.8 257.1 L130.9 259.3 L132.0 259.6 L133.1 261.4 L134.2 262.6 L135.2 258.3 L136.3 254.9 L137.4 256.9 L138.5 259.3 L139.6 261.1 L140.7 264.6 L141.8 260.0 L142.9 255.4 L144.2 259.5 L145.5 263.2 M146.2 264.3 L147.3 266.5 L148.4 269.5 L149.5 267.9 L150.6 266.7 L151.7 264.1 L152.8 262.1 L153.9 261.3 L155.0 259.3 L156.1 255.1 L157.1 250.5 L158.2 246.3 L159.1 244.8 L160.0 242.9 L161.3 243.4 L162.6 244.6 L163.7 245.6 L164.8 246.9 L165.9 247.7 L167.0 250.5 L168.1 254.7 L169.2 257.9 L170.3 256.7 L171.4 255.6 L172.5 254.7 L173.6 254.6 L174.7 253.9 L175.8 253.2 L176.9 252.9 L177.9 252.9 L179.0 253.2 L180.1 253.6 L181.2 252.4 L182.3 252.0 L183.4 253.2 L184.5 253.9 L185.6 256.2 L186.5 255.9 L187.4 257.7 M187.9 259.0 L188.9 258.6 L189.9 259.3 L190.8 259.3 L191.8 259.5 L192.7 259.3 L193.6 259.4 L194.5 260.8 L195.4 260.4 L196.3 260.6 L197.2 260.4 L198.1 260.6 L199.0 259.6 L199.9 259.3 L200.8 260.0 L201.7 259.1 L202.6 259.1 L203.6 259.0 L204.5 258.8 L205.4 258.4 L206.5 256.3 L207.7 255.8 L208.8 255.5 L209.9 253.5 L211.1 250.7 L212.2 248.8 L213.3 250.1 L214.4 251.0 L215.5 252.5 L216.6 253.5 L217.8 253.5 L218.9 253.7 L220.0 252.1 L221.2 251.4 L222.3 251.1 L223.3 250.0 L224.3 249.0 L225.3 248.4 L226.3 248.3 L227.3 247.2 M228.3 250.1 L229.4 251.4 L230.4 252.6 L231.4 254.7 L232.5 255.9 L233.6 257.8 L234.8 261.0 L235.9 262.7 L237.1 265.2 L238.2 267.4 L239.3 266.5 L240.5 264.8 L241.6 262.2 L242.7 261.3 L243.8 259.4 L244.9 260.9 L246.1 263.0 L247.2 263.9 L248.3 263.6 L249.5 263.8 L250.6 262.8 L251.7 261.0 L252.9 259.1 L254.0 257.7 L255.1 259.3 L256.3 261.3 L257.4 262.8 L258.5 263.4 L259.7 265.4 L260.8 266.4 L261.9 266.1 L262.9 265.5 L263.9 264.0 L265.0 264.0 M266.0 250.8 L267.4 255.4 L268.7 259.2 L269.9 265.3 L271.0 271.3 L272.1 283.1 L273.3 271.7 L274.4 266.2 L275.5 260.6 L276.6 259.0 L277.8 257.0 L278.9 258.4 L280.1 258.3 L281.2 260.1 L282.3 261.5 L283.5 262.7 L284.6 264.9 L285.7 266.0 L286.9 266.5 L288.0 267.5 L288.9 267.2 L289.9 267.1 L290.8 267.8 L291.7 267.1 L292.7 267.7 L293.6 267.8 L294.6 267.3 L295.5 267.0 L296.5 267.5 L297.4 266.6 L298.4 267.0 L299.3 265.7 L300.6 265.6 L302.0 265.0 M302.7 265.3 L303.8 265.7 L305.0 266.8 L306.1 266.9 L307.2 269.9 L308.4 271.0 L309.5 273.6 L310.6 269.8 L311.7 267.8 L312.8 266.2 L314.0 263.5 L315.1 261.1 L316.2 258.2 L317.4 255.2 L318.5 251.2 L319.6 253.9 L320.8 255.5 L321.9 257.6 L323.1 259.4 L324.2 260.5 L325.3 258.6 L326.5 255.5 L327.6 254.3 L328.7 254.8 L329.9 257.5 L331.0 259.1 L332.1 263.0 L333.2 266.3 L334.4 266.6 L335.5 267.4 M336.1 252.1 L337.2 253.9 L338.4 254.4 L339.5 256.2 L340.4 257.0 L341.3 257.2 L342.2 257.4 L343.1 257.3 L344.0 258.4 L344.9 258.5 L345.8 260.0 L346.8 259.9 L347.7 261.2 L348.6 261.6 L349.7 261.1 L350.9 261.0 L352.0 259.7 L352.9 259.6 L353.8 260.5 L354.7 259.5 L355.6 260.1 L356.5 260.0 L357.4 259.9 L358.3 259.9 L359.2 260.3 L360.1 261.9 L361.0 261.3 L362.0 262.7 L363.0 263.7 L364.0 264.0 L365.0 265.4 L366.0 266.3 M367.8 256.4 L368.9 254.9 L370.1 254.5 L371.2 254.4 L372.1 255.3 L373.0 254.4 L373.9 255.5 L374.8 256.0 L375.7 256.1 M380.3 256.6 L381.4 257.1 L382.6 258.0 L383.7 258.2 L384.8 256.0 L385.9 254.8 L387.0 252.8 L388.2 251.2 L389.3 252.3 L390.4 253.6 L391.5 257.9 L392.7 261.3 L393.8 263.3 L394.9 265.1 L396.0 267.4 M397.2 273.4 L398.4 268.6 L399.5 265.7 L400.6 263.9 L401.8 262.0 L402.9 259.8 L404.0 260.7 L405.2 261.5 L406.3 261.9 L407.4 262.4 L408.6 263.7 L409.7 264.4 L410.8 263.0 L412.0 260.7 L413.1 260.1 L414.2 259.5 L415.4 260.1 L416.5 259.0 L417.6 258.7 L418.8 256.9 L419.9 254.7 L420.9 253.8 L421.9 251.2 L423.0 249.5 L424.0 248.2 M425.5 259.4 L426.6 258.1 L427.8 256.4 L428.9 254.8 L430.0 256.1 L431.2 257.8 L432.3 260.0 L433.4 260.8 L434.6 261.5 L435.7 262.3 L436.9 266.5 L438.0 271.1 L439.1 266.2 L440.2 262.0 L441.3 261.1 L442.5 259.0 L443.6 258.7 L444.7 257.4 L445.9 258.1 L447.0 256.8 L448.1 258.0 L449.3 260.1 L450.4 260.4 L451.7 261.4 L453.0 262.9 M454.9 261.2 L456.0 260.8 L457.2 260.0 L458.3 260.8 L459.4 260.9 L460.6 262.0 L461.7 261.6 L462.6 262.5 L463.5 262.9 L464.5 262.9 L465.4 263.6 L466.3 264.2 L467.2 264.8 L468.1 264.5 L469.0 264.5 L469.9 265.6 L470.8 264.6 L471.7 265.9 L472.6 265.9 L473.5 265.9 L474.4 266.0 L475.3 266.7 L476.4 266.8 L477.6 266.6 L478.7 266.6 L479.9 263.4 L481.0 261.8 M484.0 270.8 L485.0 270.7 L485.9 269.5 L486.9 268.5 L487.8 268.4 L488.7 268.3 L489.6 267.0 L490.5 267.5 L491.5 266.4 L492.4 266.2 L493.3 264.3 L494.2 263.1 L495.2 261.7 L496.1 261.0 L497.1 260.0 L498.0 258.0 L498.9 257.3 L499.9 257.2 L500.8 255.0 L501.8 253.9 L502.7 252.8 L503.6 251.2 L505.3 252.0 M509.3 270.5 L510.3 267.5 L511.3 265.7 L512.3 262.2 L513.2 263.0 L514.1 262.3 L515.1 261.7 L516.0 262.2 L516.9 261.6 L517.9 261.8 L518.8 261.9 L519.7 262.9 L521.0 261.9 L522.2 260.5 L523.5 263.3 L524.7 266.9 L526.0 267.9 L527.2 270.3 M532.1 260.9 L533.0 260.7 L534.0 262.0 L534.9 262.5 L535.8 264.0 L536.8 263.8 L537.7 263.9 L538.6 263.4 L539.6 262.9 L540.5 261.1 L541.5 259.8 L542.4 257.8 L543.3 257.1 L544.5 259.5 L545.8 262.1 L546.9 259.0 L547.9 257.7 L549.0 255.4 M550.7 264.9 L551.7 265.0 L552.6 266.1 L553.5 266.9 L554.5 266.9 L555.4 265.7 L556.4 265.6 L557.3 264.1 L558.2 264.6 L559.1 263.2 L560.0 262.2 L561.0 262.4 L561.9 261.1 L562.8 261.6 L563.8 261.6 L564.7 262.4 L565.6 262.9 L566.9 264.5 L568.1 265.3 M570.6 264.7 L571.9 261.8 L573.1 258.2 L574.4 265.4 L575.6 272.6 L576.8 266.5 L578.0 260.4 L579.0 259.0 L579.9 259.0 L580.8 258.2 L581.8 257.0 L582.9 259.3 L583.9 260.5 L585.0 262.8 M586.7 257.9 L587.6 258.1 L588.5 258.1 L589.5 259.1 L590.4 258.7 L591.4 259.4 L592.3 260.4 L593.2 261.3 L594.2 262.3 L595.1 262.9 L596.0 264.1 L597.0 265.0 L597.9 265.6 L598.8 266.2 L599.8 265.9 L600.7 266.8 L601.6 267.8 M604.1 263.5 L605.0 263.3 L606.0 263.8 L606.9 263.1 L607.8 263.5 L609.0 262.8 L610.3 262.0 L611.4 262.8 L612.4 264.5 L613.5 265.3 M615.3 256.1 L616.5 252.8 L617.8 250.7 L619.0 251.5 L620.2 253.3 L621.5 257.1 L622.7 259.8 L623.8 260.6 L624.9 261.8 L625.9 263.3 L627.0 264.1 M630.2 257.1 L631.4 257.2 L632.6 258.1 L633.9 258.1 L635.1 258.7 L636.4 262.2 L637.6 264.1 M641.3 256.8 L642.5 260.0 L643.8 262.7 L645.0 265.9 L646.3 270.6 L647.5 274.0 L648.8 279.0" fill="none" stroke="#17622a" stroke-width="2.6" stroke-linejoin="round" stroke-linecap="round"/>
<rect x="42" y="240.5" width="607.1" height="45.3" fill="none" stroke="#111" stroke-width="1"/>
<line x1="94.6" y1="240.5" x2="94.6" y2="285.8" stroke="#111" stroke-width="1"/>
<line x1="146.0" y1="240.5" x2="146.0" y2="285.8" stroke="#111" stroke-width="1"/>
<line x1="187.6" y1="240.5" x2="187.6" y2="285.8" stroke="#111" stroke-width="1"/>
<line x1="227.8" y1="240.5" x2="227.8" y2="285.8" stroke="#111" stroke-width="1"/>
<line x1="265.5" y1="240.5" x2="265.5" y2="285.8" stroke="#111" stroke-width="1"/>
<line x1="302.3" y1="240.5" x2="302.3" y2="285.8" stroke="#111" stroke-width="1"/>
<line x1="335.8" y1="240.5" x2="335.8" y2="285.8" stroke="#111" stroke-width="1"/>
<line x1="366.8" y1="240.5" x2="366.8" y2="285.8" stroke="#111" stroke-width="1"/>
<line x1="396.7" y1="240.5" x2="396.7" y2="285.8" stroke="#111" stroke-width="1"/>
<line x1="424.6" y1="240.5" x2="424.6" y2="285.8" stroke="#111" stroke-width="1"/>
<line x1="453.5" y1="240.5" x2="453.5" y2="285.8" stroke="#111" stroke-width="1"/>
<line x1="481.3" y1="240.5" x2="481.3" y2="285.8" stroke="#111" stroke-width="1"/>
<line x1="505.7" y1="240.5" x2="505.7" y2="285.8" stroke="#111" stroke-width="1"/>
<line x1="528.5" y1="240.5" x2="528.5" y2="285.8" stroke="#111" stroke-width="1"/>
<line x1="549.7" y1="240.5" x2="549.7" y2="285.8" stroke="#111" stroke-width="1"/>
<line x1="568.6" y1="240.5" x2="568.6" y2="285.8" stroke="#111" stroke-width="1"/>
<line x1="585.4" y1="240.5" x2="585.4" y2="285.8" stroke="#111" stroke-width="1"/>
<line x1="602.1" y1="240.5" x2="602.1" y2="285.8" stroke="#111" stroke-width="1"/>
<line x1="614.4" y1="240.5" x2="614.4" y2="285.8" stroke="#111" stroke-width="1"/>
<line x1="627.9" y1="240.5" x2="627.9" y2="285.8" stroke="#111" stroke-width="1"/>
<line x1="638.0" y1="240.5" x2="638.0" y2="285.8" stroke="#111" stroke-width="1"/>
<text x="55.6" y="289.2" font-size="7.8" fill="#f7b42a" text-anchor="end" font-style="italic" transform="rotate(-60 55.6 289.2)" stroke="#f7b42a" stroke-width="0.2">ARID1A</text>
<text x="66.5" y="289.2" font-size="7.8" fill="#f7b42a" text-anchor="end" font-style="italic" transform="rotate(-60 66.5 289.2)" stroke="#f7b42a" stroke-width="0.2">RUNX3</text>
<text x="153.2" y="289.0" font-size="7.8" fill="#1f7a3a" text-anchor="end" font-style="italic" transform="rotate(-60 153.2 289.0)" stroke="#1f7a3a" stroke-width="0.2">ROBO1</text>
<text x="164.0" y="289.6" font-size="7.8" fill="#1f7a3a" text-anchor="end" font-style="italic" transform="rotate(-60 164.0 289.6)" stroke="#1f7a3a" stroke-width="0.2">ROBO2</text>
<text x="223.1" y="289.0" font-size="7.8" fill="#f7b42a" text-anchor="end" font-style="italic" transform="rotate(-60 223.1 289.0)" stroke="#f7b42a" stroke-width="0.2">IRF2</text>
<text x="266.5" y="289.0" font-size="7.8" fill="#1f7a3a" text-anchor="end" font-style="italic" transform="rotate(-60 266.5 289.0)" stroke="#1f7a3a" stroke-width="0.2">LTB</text>
<text x="276.4" y="289.0" font-size="7.8" fill="#1f7a3a" text-anchor="end" font-style="italic" transform="rotate(-60 276.4 289.0)" stroke="#1f7a3a" stroke-width="0.2">MDC1</text>
<text x="421.2" y="289.0" font-size="7.8" fill="#f7b42a" text-anchor="end" font-style="italic" transform="rotate(-60 421.2 289.0)" stroke="#f7b42a" stroke-width="0.2">EBF3</text>
<text x="641.6" y="289.0" font-size="7.8" fill="#f7b42a" text-anchor="end" font-style="italic" transform="rotate(-60 641.6 289.0)" stroke="#f7b42a" stroke-width="0.2">NF2</text>
<text x="653.0" y="289.0" font-size="7.8" fill="#f7b42a" text-anchor="end" font-style="italic" transform="rotate(-60 653.0 289.0)" stroke="#f7b42a" stroke-width="0.2">EP300</text>
<text x="6.5" y="342.5" font-size="13.5" fill="#000" font-weight="bold">e</text>
<text x="164.4" y="327.8" font-size="10" fill="#f5b325" stroke="#f5b325" stroke-width="0.18">Primary</text>
<text x="160.3" y="456.0" font-size="9.8" fill="#1f7a3a" stroke="#1f7a3a" stroke-width="0.18">Recurrent</text>
<path filter="url(#fe1)" fill="#b4bde6" fill-opacity="0.74" d="M151.3 385.0L149.7 388.7L147.9 392.3L146.2 395.8L144.5 399.4L142.5 403.0L139.8 406.7L136.2 410.0L131.6 412.8L126.1 414.8L120.1 415.9L114.0 416.2L108.0 415.9L102.2 415.0L96.7 413.7L91.7 411.9L87.1 409.7L83.1 407.1L79.7 404.3L76.6 401.4L73.7 398.5L70.7 395.5L67.6 392.4L64.4 388.9L61.8 385.0L60.2 380.7L60.2 376.3L61.9 372.0L65.4 368.2L70.2 365.2L75.6 362.9L81.2 361.2L86.7 359.9L92.1 358.8L97.3 357.9L102.6 357.3L108.0 356.9L113.4 357.1L118.8 357.6L124.1 358.5L129.4 359.7L134.7 361.2L139.9 363.3L144.6 365.9L148.5 369.1L151.2 372.8L152.5 376.9L152.4 381.0Z"/>
<path filter="url(#fe1)" fill="#d8d9e6" fill-opacity="0.78" d="M108.9 380.0L109.9 382.0L110.3 384.1L109.3 386.0L107.0 387.4L104.4 388.3L102.3 389.3L101.1 390.8L100.1 393.1L98.6 395.6L96.2 397.3L93.1 397.5L90.0 396.0L87.6 393.7L85.8 391.8L84.0 390.9L81.4 391.2L77.9 391.8L74.3 391.8L71.5 390.6L70.4 388.5L70.7 386.0L71.5 383.7L71.7 381.8L71.1 380.0L70.1 378.0L69.7 375.9L70.7 374.0L73.0 372.6L75.6 371.7L77.7 370.7L78.9 369.2L79.9 366.9L81.4 364.4L83.8 362.7L86.9 362.5L90.0 364.0L92.4 366.3L94.2 368.2L96.0 369.1L98.6 368.8L102.1 368.2L105.7 368.2L108.5 369.4L109.6 371.5L109.3 374.0L108.5 376.3L108.3 378.2Z"/>
<path filter="url(#fe1)" fill="#b8c2ea" fill-opacity="0.74" d="M108.3 358.0L108.5 359.3L108.3 360.6L107.6 361.8L106.3 362.8L104.7 363.7L103.3 364.6L102.1 365.7L100.8 367.0L99.2 368.3L97.1 369.1L94.5 369.3L92.0 368.6L89.9 367.5L88.1 366.5L86.5 365.8L84.5 365.6L82.0 365.7L79.4 365.4L77.3 364.6L76.2 363.3L76.2 361.9L76.6 360.4L76.7 359.2L76.0 358.0L74.9 356.7L73.9 355.2L73.9 353.6L75.3 352.3L77.7 351.5L80.4 351.2L82.8 351.0L84.7 350.6L86.3 349.9L87.8 348.9L89.8 348.0L92.0 347.6L94.3 347.6L96.5 348.1L98.6 348.6L100.6 349.2L102.6 349.8L104.6 350.6L106.2 351.6L107.2 352.8L107.7 354.2L107.9 355.5L108.0 356.8Z"/>
<path filter="url(#fe1)" fill="#9aa8dc" fill-opacity="0.74" d="M147.6 388.0L148.7 390.2L149.6 392.8L149.9 395.5L149.2 398.1L147.7 400.3L145.6 402.1L143.3 403.7L140.9 405.2L138.6 406.9L136.1 408.6L133.2 409.9L130.0 410.6L126.8 410.3L123.8 408.9L121.4 406.9L119.4 404.6L117.7 402.5L116.0 400.8L113.9 399.3L111.5 397.7L109.3 395.8L107.7 393.4L106.9 390.8L107.1 388.0L108.1 385.4L109.3 383.0L110.6 380.7L111.9 378.5L113.1 376.2L114.7 374.1L116.7 372.3L119.3 371.1L122.0 370.5L124.8 370.3L127.4 370.2L130.0 369.7L132.8 368.7L136.0 367.6L139.7 366.7L143.5 366.8L146.8 368.1L149.0 370.7L149.9 374.1L149.5 377.8L148.4 381.1L147.5 383.7L147.2 385.9Z"/>
<path filter="url(#fe1)" fill="#2356b8" fill-opacity="0.81" d="M118.0 413.0L118.3 415.4L118.1 417.9L117.4 420.4L116.1 422.8L114.3 425.0L112.0 427.1L109.3 428.8L106.2 430.3L102.8 431.4L99.3 432.2L95.7 432.6L92.0 432.6L88.4 432.3L84.9 431.6L81.6 430.7L78.5 429.4L75.8 427.9L73.4 426.1L71.4 424.1L69.7 422.1L68.4 419.9L67.5 417.6L66.9 415.3L66.6 413.0L66.6 410.6L66.9 408.3L67.6 405.9L68.6 403.5L70.1 401.2L72.1 399.0L74.6 397.0L77.5 395.3L80.8 394.0L84.4 393.1L88.2 392.7L92.0 392.8L95.7 393.3L99.1 394.3L102.3 395.5L105.1 397.0L107.6 398.6L109.9 400.4L111.8 402.3L113.6 404.2L115.1 406.3L116.4 408.4L117.4 410.6Z"/>
<path filter="url(#fe1)" fill="#8c9cd8" fill-opacity="0.74" d="M135.9 425.0L134.5 426.7L132.4 428.1L130.6 429.2L129.4 430.3L128.8 431.6L128.2 433.1L127.2 434.6L125.7 435.6L123.7 436.1L121.7 436.1L119.8 436.1L118.0 436.3L116.1 436.5L114.1 436.5L112.3 436.0L110.8 434.9L109.8 433.6L108.8 432.4L107.4 431.5L105.3 430.8L102.7 430.1L100.3 428.8L98.8 427.0L98.9 425.0L100.4 423.2L102.8 421.7L105.0 420.7L106.6 419.7L107.6 418.6L108.4 417.3L109.5 416.1L110.9 415.2L112.7 414.8L114.5 414.5L116.2 414.2L118.0 413.7L120.0 413.1L122.1 412.8L124.1 413.2L125.8 414.2L126.9 415.7L127.8 417.2L128.9 418.3L130.7 419.2L132.8 420.1L134.9 421.4L136.1 423.1Z"/>
<path filter="url(#fe1)" fill="#c98e9c" fill-opacity="0.78" d="M146.3 349.9L147.6 351.8L147.2 353.9L145.0 355.8L141.6 357.1L138.1 358.0L135.3 358.7L133.5 359.7L132.3 361.3L131.1 363.3L129.2 365.3L126.4 366.5L123.3 366.5L120.4 365.2L118.3 363.2L116.9 361.2L115.7 360.1L113.6 360.0L110.3 360.7L105.9 361.5L101.2 361.6L97.6 360.6L96.1 358.7L96.9 356.3L99.4 354.0L102.2 352.1L104.2 350.6L104.9 349.2L104.4 347.4L103.7 345.2L103.9 342.9L105.6 341.0L108.6 340.0L112.3 340.0L115.9 340.7L118.8 341.6L121.1 342.1L123.2 341.8L125.7 341.0L128.5 340.1L131.6 339.7L134.4 340.1L136.4 341.3L137.6 342.8L138.5 344.4L139.7 345.8L141.5 347.0L144.0 348.3Z"/>
<path filter="url(#fe1)" fill="#e0bcc4" fill-opacity="0.69" d="M156.5 345.0L155.6 346.1L154.8 347.1L154.1 348.0L153.7 349.0L153.3 350.0L152.8 351.1L152.1 352.2L151.2 353.1L150.0 353.7L148.7 354.0L147.3 354.1L146.0 354.0L144.7 353.8L143.4 353.6L142.2 353.2L141.1 352.6L140.1 351.9L139.4 351.0L138.8 350.0L138.3 349.0L137.7 348.1L136.9 347.2L136.0 346.2L135.1 345.0L134.4 343.6L134.3 342.2L134.7 340.8L135.7 339.7L137.1 338.9L138.7 338.4L140.2 338.2L141.5 338.1L142.7 337.9L143.8 337.7L144.9 337.5L146.0 337.3L147.1 337.2L148.3 337.3L149.5 337.4L150.7 337.6L152.1 337.9L153.5 338.2L155.0 338.8L156.2 339.7L157.1 340.9L157.4 342.2L157.2 343.7Z"/>
<path filter="url(#fe1)" fill="#9e1a4e" fill-opacity="0.83" d="M102.9 340.0L102.8 341.4L102.7 342.9L102.4 344.3L101.7 345.7L100.7 346.9L99.3 347.9L97.7 348.5L96.2 349.0L94.6 349.5L93.2 350.0L91.6 350.5L90.0 351.0L88.3 351.2L86.5 351.0L84.9 350.4L83.6 349.4L82.6 348.2L81.7 347.1L80.7 346.1L79.4 345.2L78.0 344.2L76.5 343.1L75.3 341.6L74.8 340.0L75.0 338.3L76.0 336.8L77.5 335.6L79.1 334.7L80.6 333.9L81.9 333.1L83.0 332.2L84.0 331.2L85.2 330.2L86.7 329.5L88.3 329.1L90.0 329.0L91.7 329.3L93.3 329.7L94.8 330.1L96.4 330.6L98.0 331.2L99.5 331.9L100.9 332.9L101.9 334.2L102.5 335.6L102.8 337.1L102.9 338.6Z"/>
<path filter="url(#fe1)" fill="#4f7ee0" fill-opacity="0.69" d="M70.0 364.0L69.5 365.9L68.8 367.7L68.1 369.2L67.4 370.6L66.7 372.1L66.2 373.6L65.5 375.2L64.7 376.7L63.7 378.0L62.6 378.8L61.3 379.1L60.0 378.7L58.8 377.9L57.8 376.8L56.9 375.6L56.1 374.5L55.3 373.5L54.5 372.6L53.6 371.7L52.6 370.6L51.7 369.3L51.0 367.7L50.5 365.9L50.4 364.0L50.4 362.0L50.7 360.1L51.2 358.3L51.8 356.6L52.4 354.9L53.2 353.4L54.1 352.0L55.1 350.9L56.3 350.2L57.6 349.9L58.8 350.2L60.0 350.8L61.0 351.7L62.0 352.6L62.8 353.4L63.7 354.0L64.7 354.4L65.9 354.9L67.1 355.6L68.3 356.6L69.2 358.0L69.9 359.9L70.1 361.9Z"/>
<path filter="url(#fe1)" fill="#d8899a" fill-opacity="0.74" d="M151.3 422.0L151.1 422.7L151.2 423.4L151.4 424.3L151.5 425.2L151.2 426.1L150.5 426.7L149.4 427.0L148.4 427.0L147.4 427.0L146.6 427.2L145.9 427.6L145.0 428.0L144.0 428.3L143.0 428.3L142.1 428.0L141.4 427.3L140.9 426.6L140.4 426.0L139.8 425.4L139.2 424.9L138.5 424.3L138.1 423.6L137.8 422.8L137.8 422.0L137.9 421.2L138.2 420.4L138.5 419.7L139.0 419.0L139.5 418.4L140.2 417.9L140.9 417.4L141.6 416.9L142.3 416.5L143.1 416.0L144.0 415.7L145.0 415.6L145.9 415.8L146.8 416.3L147.5 416.8L148.2 417.3L149.0 417.6L149.9 417.8L150.9 418.1L151.7 418.7L152.1 419.5L152.1 420.4L151.7 421.2Z"/>
<path filter="url(#fe1)" fill="#d06080" fill-opacity="0.74" d="M80.2 427.0L80.0 427.7L79.5 428.2L79.0 428.7L78.7 429.1L78.5 429.7L78.4 430.4L78.2 431.2L77.8 431.8L77.1 432.2L76.4 432.2L75.7 432.1L75.0 432.0L74.4 431.9L73.7 431.9L73.0 431.8L72.4 431.5L72.0 431.0L71.7 430.3L71.5 429.7L71.3 429.1L70.9 428.7L70.3 428.3L69.8 427.7L69.4 427.0L69.4 426.3L69.8 425.6L70.2 425.0L70.7 424.5L71.1 424.0L71.4 423.4L71.8 422.9L72.4 422.5L73.1 422.4L73.8 422.5L74.4 422.7L75.0 422.7L75.6 422.6L76.3 422.3L77.0 422.1L77.8 422.2L78.4 422.6L78.8 423.2L79.1 423.9L79.3 424.5L79.6 425.1L79.9 425.7L80.1 426.3Z"/>
<path filter="url(#fe1)" fill="#d8b8bc" fill-opacity="0.74" d="M54.5 378.0L54.2 380.1L54.0 382.3L53.6 384.5L52.7 386.6L51.3 388.4L49.4 389.7L47.2 390.5L45.0 391.1L43.0 391.6L41.0 392.2L39.1 393.1L37.0 394.0L34.7 394.8L32.2 395.1L29.6 394.8L27.3 393.9L25.1 392.6L23.2 391.0L21.6 389.1L20.3 387.1L19.4 384.9L18.8 382.6L18.8 380.3L19.2 378.0L19.9 375.9L20.7 373.9L21.3 371.9L21.9 369.8L22.6 367.6L23.6 365.4L25.2 363.5L27.4 362.3L29.9 361.9L32.5 362.3L34.9 363.2L37.0 364.1L38.9 364.6L40.8 364.5L43.2 363.9L46.0 363.3L49.1 363.1L52.0 363.8L54.3 365.5L55.6 367.8L56.0 370.6L55.6 373.3L55.0 375.8Z"/>
<path filter="url(#fe1)" fill="#55b055" fill-opacity="0.83" d="M49.1 354.0L49.0 354.4L48.9 354.8L48.7 355.1L48.5 355.4L48.2 355.7L47.9 355.9L47.6 356.1L47.3 356.2L47.0 356.4L46.7 356.7L46.4 356.9L46.0 357.1L45.6 357.3L45.1 357.3L44.7 357.2L44.3 356.9L44.0 356.6L43.8 356.2L43.6 355.8L43.5 355.5L43.4 355.1L43.3 354.7L43.1 354.4L43.0 354.0L43.0 353.6L43.0 353.2L43.1 352.8L43.3 352.5L43.6 352.2L44.0 352.0L44.3 351.8L44.7 351.7L45.0 351.6L45.3 351.4L45.6 351.2L46.0 351.1L46.4 350.9L46.8 350.9L47.3 351.0L47.7 351.1L48.0 351.4L48.3 351.7L48.5 352.1L48.7 352.5L48.8 352.8L48.9 353.2L49.0 353.6Z"/>
<path filter="url(#fe1)" fill="#3aa040" fill-opacity="0.83" d="M47.6 417.0L47.6 417.6L47.6 418.2L47.5 418.8L47.4 419.3L47.3 419.7L47.2 420.3L47.1 421.0L47.0 421.8L46.8 422.4L46.6 422.8L46.3 422.7L46.0 422.2L45.8 421.7L45.6 421.2L45.4 421.0L45.2 420.9L44.9 420.9L44.7 420.6L44.5 420.1L44.4 419.5L44.4 418.8L44.4 418.2L44.3 417.6L44.2 417.0L44.1 416.3L44.1 415.6L44.2 414.9L44.4 414.4L44.6 413.9L44.8 413.5L44.9 413.1L45.1 412.6L45.3 412.2L45.5 412.0L45.8 412.2L46.0 412.5L46.2 412.8L46.4 413.0L46.6 412.9L46.9 412.7L47.2 412.6L47.5 412.8L47.7 413.3L47.8 414.1L47.8 415.0L47.7 415.7L47.7 416.4Z"/>
<path d="M28.0 361.0Q36.0 365.0 54 375.5M26.8 364.2Q36.0 367.4 54 375.5M25.6 367.4Q36.0 369.8 54 375.5M24.4 370.6Q36.0 372.2 54 375.5M23.2 373.8Q36.0 374.6 54 375.5M22.0 377.0Q36.0 377.0 54 375.5M23.2 380.2Q36.0 379.4 54 375.5M24.4 383.4Q36.0 381.8 54 375.5M25.6 386.6Q36.0 384.2 54 375.5M26.8 389.8Q36.0 386.6 54 375.5M28.0 393.0Q36.0 389.0 54 375.5" fill="none" stroke="#111" stroke-width="0.7"/>
<path transform="scale(.5)" d="M76 726h0M74 732h0M71 737h0M69 743h0M66 748h0M64 754h0M66 760h0M69 765h0M71 771h0M74 776h0M76 782h0" stroke="#111" stroke-width="3.2" stroke-linecap="round"/>
<path d="M145.5 351.4l-2.1 0.6M136.3 370.1l1.3 -1.6M90.7 419.4l0.6 -2.1M95.3 348.2l-1.2 0.2M119.6 408.5l-0.3 -1.2M115.5 359.7l1.3 0.1M84.0 348.3l-0.1 -1.3M112.7 415.5l-2.4 1.2M154.0 345.8l1.9 1.0M89.5 409.7l-1.7 -0.5M92.7 399.2l0.8 -1.8M122.4 409.1l1.6 0.2M95.3 348.2l2.0 1.3M88.1 365.6l2.4 1.2M90.0 336.7l-0.2 -1.4M124.4 374.0l0.3 -2.4M115.5 359.7l-2.1 0.6M111.6 346.2l1.8 -1.2M125.3 371.1l1.8 1.2M110.9 347.6l-1.7 -1.4M80.0 428.9l1.8 0.2M82.9 332.5l1.4 2.2M104.3 379.8l-2.1 0.1M154.4 343.5l1.3 -1.1M117.4 357.2l1.6 0.5M125.4 344.6l0.0 -1.3M96.8 386.3l-0.7 -1.0M93.6 332.0l-0.4 1.3M127.4 361.3l1.1 0.5M116.1 349.1l1.7 -1.0M125.6 367.5l0.2 1.4M133.4 394.6l-0.2 -2.3M115.3 412.7l-1.3 1.0M92.7 333.2l-1.5 -1.0M131.0 345.3l1.7 -0.8M137.4 404.5l-0.4 -2.1M89.4 345.7l-2.5 -0.8M90.8 413.4l-1.8 0.9M103.0 398.4l-0.5 -1.4M92.7 333.2l0.6 -1.1M139.6 339.7l-2.0 -1.1M103.2 411.9l2.5 0.2M89.7 403.1l0.5 1.3M139.4 354.8l1.1 -2.2M97.3 332.9l2.5 0.2M149.0 339.3l-1.2 -0.4M88.6 332.0l0.2 2.2M87.0 335.0l0.8 0.8M132.2 359.5l-1.1 -0.3M128.1 341.2l0.1 2.2M117.2 360.2l1.2 -0.8M100.5 408.0l1.9 -0.9M110.7 362.9l-0.1 -1.8M142.0 342.3l-0.3 -1.7M93.3 403.6l1.6 -1.1M75.4 419.9l-1.6 0.1M89.5 409.7l0.8 1.4M111.9 376.7l1.8 -1.3M119.9 362.3l-1.1 -0.5M143.0 398.0l2.5 0.7M145.3 347.2l-1.5 -1.1M132.5 354.6l0.0 -1.3M116.6 349.0l1.7 0.7M139.8 367.1l-2.2 1.0M111.9 346.1l-0.8 -0.9M127.5 346.7l-1.5 -1.5M144.0 342.8l-1.0 -2.4M96.1 341.9l-2.1 -0.6M84.7 337.4l-2.1 -1.1M90.8 413.4l-1.9 -0.7M81.9 333.6l0.2 -1.4M81.3 346.3l1.5 -1.6M93.5 425.6l-0.9 -1.5M72.0 411.6l-1.2 -0.0M92.6 343.4l1.3 -0.6M132.2 371.1l0.8 1.3M124.1 368.7l-1.3 -1.1M148.9 348.8l-0.2 -1.3M91.5 349.0l1.5 -1.9M146.9 349.2l1.0 -2.3M88.3 348.7l2.4 0.9M132.0 358.5l-2.1 0.4M83.3 348.1l1.3 0.6M131.8 356.2l-0.6 -2.1M123.8 372.3l1.3 -1.3M147.1 349.7l-2.0 0.1M144.1 339.4l1.9 0.0M123.2 358.6l1.8 -0.9M74.5 377.6l1.5 0.3M94.5 336.4l1.2 1.3M133.7 345.5l1.5 0.2M84.8 342.6l1.7 0.1M79.3 403.5l0.6 -2.3M134.2 382.6l-0.8 1.7M87.4 335.1l0.9 2.0M96.3 341.8l1.0 -1.2M115.7 351.8l-1.4 -0.9M154.4 343.5l-0.4 -1.4M99.8 341.7l2.0 -0.9M89.6 415.2l1.4 1.6M87.2 396.9l1.6 0.5M104.0 352.3l-2.5 -0.5M120.2 348.1l-1.9 1.6M88.4 429.5l-0.5 1.4M79.3 424.6l2.2 -0.4M90.7 343.6l0.1 1.8M125.4 344.6l-0.8 -2.3M74.5 377.6l0.6 2.4M94.4 344.9l2.3 -1.2M75.4 419.9l1.4 -0.8M145.6 344.0l-0.5 -1.2M92.7 399.2l-2.0 -0.8M89.7 403.1l1.2 -2.1M104.3 379.8l1.3 -0.6M96.2 335.2l-0.4 1.8M124.0 398.8l-1.5 1.0M112.4 343.8l-2.6 0.1M132.1 406.8l1.1 -0.9M96.3 341.5l-1.7 -0.1M95.5 338.2l0.6 -1.2M76.3 393.4l1.0 1.0M132.1 406.8l1.7 0.9M67.9 410.8l0.4 -1.4M87.7 333.4l-0.9 1.2M134.5 348.1l1.7 1.0M96.3 428.9l-1.4 -1.4M115.8 360.3l1.2 1.6M117.2 360.2l1.4 -0.4M114.0 341.6l0.7 -1.6M124.4 341.2l-1.4 -0.1M109.4 418.1l-1.5 0.1M81.3 339.4l1.4 -0.8M115.3 412.7l0.8 -0.8M93.6 332.0l1.5 0.5M107.2 344.6l-0.3 1.8M88.1 365.6l-1.6 -0.6M75.4 403.2l1.1 0.8M153.8 346.0l-1.1 1.6M131.0 345.3l-1.4 -2.2M73.1 413.8l-0.1 2.2M100.8 342.7l-1.5 -1.0M91.0 401.5l0.4 1.1M110.7 362.9l-0.4 -1.0M137.1 351.1l1.5 0.1M142.0 342.3l1.0 -1.4M100.2 338.7l-0.9 -1.6M134.8 346.4l-1.2 -1.0M148.4 351.3l-0.6 -2.4M133.7 357.5l-1.2 1.7M143.5 352.3l1.4 0.6M143.4 375.4l1.6 1.5M96.5 342.6l-1.6 -1.4M138.8 342.2l0.8 1.0M151.2 346.4l-0.9 1.3M116.5 357.2l-2.5 -0.4M99.9 400.2l1.1 -0.8M150.1 342.7l-0.6 -1.8M115.7 351.8l1.2 -0.8M80.5 335.5l0.4 1.3M133.7 345.5l-0.5 1.1M105.7 355.9l-0.5 -2.5M142.8 344.7l0.9 -0.7M150.2 342.0l1.4 -0.2M70.2 394.2l-1.2 -0.6M88.9 399.3l0.1 -2.1M94.8 403.6l0.7 2.2M144.1 339.4l1.6 0.1M138.9 346.4l2.2 0.5M82.2 333.6l1.0 0.9M78.1 421.5l0.4 -1.3M140.2 346.6l-0.6 2.5M90.0 336.7l-0.3 -1.8M80.9 333.7l0.5 -1.2M94.4 341.1l1.2 -1.4M84.8 367.9l-0.9 1.9M83.8 373.1l-1.8 -1.0M152.6 342.8l-2.4 1.0M101.3 337.2l-1.4 -1.9M91.2 376.5l-1.0 -2.1M128.1 341.2l-2.0 -0.3M97.1 427.5l2.2 -0.9M146.6 351.9l1.4 -0.4M72.1 412.3l-0.7 -2.4M97.3 425.6l1.0 0.8M130.3 359.3l-1.1 -0.5M145.0 338.4l0.2 1.2M142.0 342.3l0.4 -1.5M81.7 337.0l-2.0 1.4M114.0 341.6l2.1 1.6M145.7 343.7l-2.1 1.0M87.4 335.1l0.4 -1.5M152.6 346.2l1.9 0.7M96.3 341.8l-1.3 1.1M148.4 351.3l2.3 -0.5M115.5 343.0l-1.2 2.2M91.9 416.8l0.4 -2.2M80.9 333.7l1.3 0.1M88.4 429.5l1.1 -0.9M93.9 403.4l2.2 -0.9M138.2 351.3l1.9 0.1" stroke="#111" stroke-width="0.45" fill="none"/>
<path transform="scale(.5)" d="M237 782h0M289 677h0M195 692h0M167 696h0M184 674h0M179 687h0M169 688h0M261 692h0M270 716h0M199 817h0M149 744h0M154 810h0M232 697h0M174 670h0M286 695h0M262 682h0M195 772h0M240 695h0M173 674h0M254 731h0M221 696h0M149 805h0M267 696h0M266 718h0M173 683h0M176 696h0M187 807h0M311 688h0M185 665h0M174 813h0M237 705h0M286 681h0M163 688h0M239 754h0M149 833h0M185 851h0M146 814h0M283 678h0M248 746h0M262 695h0M157 836h0M213 712h0M304 685h0M289 695h0M189 805h0M157 805h0M255 695h0M210 728h0M207 837h0M180 830h0M170 809h0M304 690h0M170 696h0M278 695h0M294 689h0M298 677h0M246 745h0M307 692h0M211 811h0M172 827h0M289 703h0M165 689h0M307 693h0M213 701h0M263 716h0M161 691h0M189 678h0M199 676h0M165 674h0M139 817h0M240 775h0M263 742h0M275 703h0M139 787h0M226 711h0M227 739h0M147 820h0M200 800h0M309 690h0M179 662h0M264 692h0M218 837h0M190 681h0M195 684h0M146 826h0M311 687h0M182 857h0M265 745h0M243 729h0M299 679h0M287 698h0M190 794h0M227 682h0M307 690h0M254 724h0M269 723h0M158 773h0M267 730h0M149 852h0M237 686h0M223 751h0M285 685h0M303 697h0M288 760h0M284 685h0M163 666h0M179 689h0M179 861h0M300 683h0M273 691h0M152 807h0M301 701h0M162 674h0M280 693h0M161 680h0M261 720h0M286 792h0M231 690h0M291 763h0M187 686h0M176 663h0M154 821h0M186 699h0M197 810h0M278 693h0M166 689h0M271 795h0M306 691h0M152 793h0M190 672h0M179 663h0M142 825h0M286 752h0M193 682h0M283 683h0M260 801h0M191 854h0M265 711h0M175 699h0M172 802h0M162 692h0M181 838h0M277 703h0M208 852h0M180 688h0M154 848h0M218 684h0M258 743h0M308 694h0M246 819h0M294 696h0M148 816h0M176 792h0M218 688h0M230 720h0M273 777h0M171 855h0M160 668h0M188 815h0M168 760h0M213 800h0M157 680h0M183 689h0M275 698h0M259 709h0M295 700h0M169 838h0M235 715h0M208 824h0M217 704h0M288 686h0M167 667h0M287 682h0M195 666h0M223 822h0M142 822h0M254 683h0M288 703h0M183 804h0M290 694h0M180 844h0M185 667h0M179 807h0M166 668h0M242 779h0M178 742h0M222 719h0M238 725h0M197 668h0M174 730h0M157 800h0M249 682h0M288 680h0M171 683h0M214 688h0M206 704h0M168 679h0M289 704h0M197 674h0M299 699h0" stroke="#111" stroke-width="3" stroke-linecap="round"/>
<path d="M138.7 337.0Q147 335.5 153.2 337.5M140.4 339.2Q147 337.7 155.3 339.7M138.0 341.4Q147 339.9 153.4 341.9M140.5 343.6Q147 342.1 155.7 344.1M140.3 345.8Q147 344.3 153.7 346.3M139.9 348.0Q147 346.5 153.5 348.5M141.0 350.2Q147 348.7 155.0 350.7" fill="none" stroke="#222" stroke-width="0.6"/>
<path filter="url(#fe1)" fill="#e8e4ec" fill-opacity="0.50" d="M107.6 520.0L109.5 523.9L110.8 528.2L111.0 532.7L109.7 537.2L106.9 541.2L102.7 544.5L97.5 546.9L91.8 548.4L86.1 549.1L80.5 549.3L75.1 549.2L70.0 548.8L65.1 548.2L60.3 547.2L55.7 545.8L51.6 543.9L47.9 541.6L44.7 538.9L42.0 536.1L39.4 533.3L36.8 530.3L34.0 527.2L31.2 523.8L28.6 520.0L26.8 515.7L26.1 511.2L27.0 506.6L29.6 502.5L33.7 499.1L38.8 496.6L44.4 495.0L50.1 494.1L55.4 493.5L60.4 493.1L65.2 492.5L70.0 491.8L75.0 491.3L80.3 491.2L85.5 491.9L90.3 493.6L94.4 496.1L97.6 499.3L99.8 502.9L101.3 506.5L102.5 509.9L103.9 513.2L105.6 516.5Z"/>
<path filter="url(#fe1)" fill="#d87888" fill-opacity="0.85" d="M76.6 480.9L76.6 481.8L76.6 482.7L76.4 483.6L75.9 484.5L74.9 485.4L73.5 486.2L72.0 487.0L70.4 487.7L68.8 488.4L67.2 489.3L65.3 490.2L63.1 490.9L60.7 491.3L58.4 491.4L56.4 490.9L54.9 490.2L53.8 489.3L52.8 488.6L51.6 488.2L50.0 487.9L48.0 487.6L46.1 487.2L44.8 486.4L44.6 485.5L45.4 484.4L47.1 483.3L49.0 482.5L50.5 481.8L51.4 481.0L51.7 480.1L52.0 479.0L52.6 477.8L54.0 476.6L56.0 475.7L58.4 475.3L60.9 475.3L63.1 475.6L65.1 475.9L66.8 476.2L68.7 476.3L70.6 476.3L72.7 476.4L74.5 476.7L75.9 477.3L76.7 478.2L76.9 479.1L76.8 480.0Z"/>
<path filter="url(#fe1)" fill="#8a98d8" fill-opacity="0.85" d="M115.2 485.0L114.8 487.1L114.4 489.1L114.0 491.1L113.3 493.1L112.3 494.9L110.9 496.3L109.2 497.2L107.4 497.7L105.7 498.0L104.1 498.4L102.6 499.1L101.0 500.0L99.2 500.9L97.1 501.6L95.0 501.6L93.0 500.8L91.4 499.2L90.3 497.3L89.5 495.1L88.9 493.0L88.3 491.0L87.8 489.1L87.3 487.1L87.0 485.0L87.1 482.9L87.7 480.9L88.6 479.1L89.7 477.6L90.8 476.1L91.8 474.5L92.8 472.8L93.9 471.0L95.4 469.4L97.1 468.3L99.0 467.9L101.0 468.2L102.8 469.1L104.4 470.3L105.9 471.4L107.4 472.3L109.1 473.0L110.8 473.8L112.6 474.9L114.0 476.4L115.1 478.3L115.5 480.6L115.5 482.8Z"/>
<path filter="url(#fe1)" fill="#cf98a4" fill-opacity="0.85" d="M160.1 501.5L159.8 503.1L159.3 504.7L158.3 506.2L156.9 507.5L154.9 508.5L152.3 509.1L149.2 509.1L145.8 508.6L142.4 507.6L139.2 506.4L136.4 505.0L133.8 503.7L131.4 502.7L128.9 501.8L126.1 500.9L123.0 499.9L119.8 498.6L116.8 497.0L114.4 495.2L113.0 493.2L112.6 491.3L113.3 489.7L114.6 488.3L116.1 487.2L117.5 486.2L118.5 485.1L119.2 483.9L119.8 482.4L120.7 480.8L122.2 479.4L124.4 478.4L127.4 478.1L130.8 478.4L134.4 479.3L137.7 480.8L140.7 482.5L143.3 484.2L145.5 485.8L147.5 487.3L149.6 488.7L151.7 490.0L153.9 491.5L155.9 493.0L157.7 494.7L159.0 496.4L159.8 498.2L160.1 499.9Z"/>
<path filter="url(#fe1)" fill="#c8cce0" fill-opacity="0.60" d="M96.3 525.0L99.1 526.5L100.7 528.1L100.1 529.7L97.1 531.0L92.2 531.7L86.6 531.9L81.5 531.7L77.5 531.7L74.7 532.0L72.4 532.9L69.7 534.2L66.0 535.5L61.5 536.4L56.8 536.4L52.7 535.7L49.6 534.4L47.7 533.0L46.2 531.6L44.5 530.5L42.2 529.6L39.4 528.7L36.6 527.6L34.6 526.4L34.1 525.0L35.2 523.6L37.3 522.4L39.7 521.4L42.0 520.4L43.9 519.4L45.7 518.2L47.7 517.1L50.4 516.0L53.8 515.2L57.8 514.8L61.9 514.7L66.0 514.8L69.9 515.0L73.8 515.3L77.7 515.6L81.4 516.1L84.7 516.9L87.1 518.0L88.5 519.2L89.3 520.5L89.9 521.7L91.1 522.8L93.3 523.8Z"/>
<path filter="url(#fe1)" fill="#e8c0c8" fill-opacity="0.80" d="M93.8 510.0L93.3 511.1L92.7 512.0L92.1 512.9L91.7 513.7L91.5 514.8L91.2 515.9L90.7 517.0L89.8 517.6L88.8 517.6L87.7 517.2L86.8 516.6L86.0 516.4L85.2 516.6L84.3 517.2L83.1 517.9L81.9 518.2L80.8 517.8L80.1 516.7L80.0 515.3L80.1 513.9L80.3 512.7L80.1 511.8L79.7 510.9L79.2 510.0L78.9 508.9L78.9 507.8L79.3 506.8L80.0 506.1L80.8 505.4L81.5 504.8L82.0 504.1L82.6 503.2L83.2 502.3L84.0 501.5L85.0 501.0L86.0 501.0L87.0 501.4L87.9 502.0L88.6 502.9L89.1 503.8L89.6 504.6L90.2 505.2L90.9 505.7L91.7 506.2L92.7 506.8L93.4 507.7L93.8 508.8Z"/>
<path filter="url(#fe1)" fill="#9a1a50" fill-opacity="0.90" d="M83.4 515.0L83.7 515.9L83.7 516.8L83.3 517.6L82.8 518.4L82.3 519.0L81.7 519.7L81.1 520.4L80.4 520.9L79.5 521.1L78.6 520.9L77.7 520.5L77.0 520.0L76.4 519.7L75.8 519.6L75.0 519.7L74.2 519.8L73.5 519.6L72.8 519.2L72.4 518.6L72.0 517.9L71.5 517.3L71.1 516.6L70.6 515.8L70.2 515.0L70.2 514.1L70.6 513.3L71.2 512.6L71.9 512.1L72.5 511.5L72.9 510.9L73.3 510.2L73.8 509.5L74.5 509.0L75.3 508.8L76.2 508.9L77.0 509.2L77.7 509.4L78.5 509.5L79.2 509.6L80.0 509.9L80.6 510.4L81.0 511.0L81.2 511.8L81.3 512.5L81.6 513.1L82.1 513.6L82.8 514.2Z"/>
<path filter="url(#fe1)" fill="#9a1a50" fill-opacity="0.90" d="M117.7 531.0L117.8 532.3L118.0 533.7L118.1 535.2L117.6 536.6L116.3 537.8L114.5 538.5L112.5 538.9L110.6 539.2L109.1 539.7L107.6 540.5L105.9 541.4L104.0 541.9L102.0 541.8L100.3 541.0L99.0 539.7L98.0 538.4L97.0 537.5L95.8 536.9L94.1 536.4L92.3 535.8L90.8 534.9L89.8 533.7L89.5 532.4L89.4 531.0L89.3 529.6L89.3 528.2L89.6 526.7L90.4 525.4L91.9 524.4L93.9 523.8L96.0 523.6L97.8 523.3L99.3 522.8L100.6 521.9L102.1 520.9L104.0 520.1L106.0 520.0L107.9 520.6L109.4 521.8L110.5 523.0L111.5 524.0L112.7 524.8L114.2 525.4L115.8 526.2L116.9 527.2L117.6 528.4L117.7 529.7Z"/>
<path filter="url(#fe1)" fill="#d85070" fill-opacity="0.85" d="M53.4 540.0L52.9 540.6L52.8 541.2L52.9 541.8L52.8 542.5L52.2 543.2L51.3 543.6L50.1 544.0L49.0 544.3L47.8 544.6L46.7 545.0L45.4 545.3L44.0 545.3L42.7 545.0L41.5 544.6L40.6 544.1L39.6 543.8L38.4 543.7L36.8 543.6L35.2 543.4L34.1 542.9L33.7 542.1L34.0 541.3L34.8 540.6L35.3 540.0L35.3 539.4L34.9 538.8L34.5 538.0L34.5 537.3L35.3 536.6L36.6 536.3L38.1 536.2L39.4 536.0L40.5 535.8L41.5 535.3L42.6 534.8L44.0 534.5L45.4 534.6L46.7 535.0L47.6 535.7L48.4 536.2L49.3 536.5L50.6 536.7L52.2 536.9L53.6 537.2L54.5 537.8L54.6 538.6L54.1 539.3Z"/>
<path filter="url(#fe1)" fill="#6a88d8" fill-opacity="0.85" d="M114.1 553.0L113.6 554.3L112.5 555.6L111.2 556.9L110.1 558.2L108.6 559.6L106.1 560.8L102.6 561.7L98.1 562.0L93.5 562.0L89.2 561.7L85.5 561.6L82.0 561.8L78.3 562.1L74.2 562.4L69.9 562.4L66.0 562.0L62.6 561.2L59.7 560.2L56.9 559.2L53.9 558.2L51.1 557.1L49.0 555.9L48.5 554.4L49.7 553.0L52.2 551.7L55.0 550.7L57.1 549.7L58.4 548.6L59.3 547.4L60.6 546.1L62.7 544.9L66.0 544.0L69.8 543.5L73.8 543.2L77.9 542.9L82.0 542.5L86.4 542.3L90.8 542.4L94.9 542.9L98.1 544.0L100.3 545.3L101.8 546.6L103.4 547.7L105.6 548.6L108.4 549.5L111.3 550.5L113.4 551.7Z"/>
<path filter="url(#fe1)" fill="#b6bfe4" fill-opacity="0.80" d="M142.4 551.0L143.5 552.5L143.6 554.0L142.5 555.3L140.3 556.1L137.8 556.4L135.6 556.4L134.1 556.7L133.3 557.5L132.6 559.0L131.7 560.9L130.1 562.6L128.0 563.6L125.7 563.4L123.8 562.2L122.5 560.5L121.7 558.8L120.9 557.6L119.6 557.0L117.6 556.7L115.2 556.3L112.9 555.5L111.6 554.1L111.6 552.5L112.8 551.0L114.7 549.7L116.6 548.8L117.8 548.0L118.3 547.0L118.3 545.7L118.5 544.2L119.2 542.8L120.5 541.8L122.4 541.3L124.4 541.4L126.3 541.7L128.0 541.8L129.7 541.6L131.7 541.2L133.9 540.8L136.1 540.9L138.0 541.7L139.2 543.0L139.5 544.7L139.4 546.3L139.4 547.6L139.9 548.7L141.0 549.8Z"/>
<path filter="url(#fe1)" fill="#2a55ad" fill-opacity="0.90" d="M174.2 516.0L173.1 518.6L171.5 520.9L170.3 523.0L169.7 525.3L169.4 528.1L168.7 530.9L167.2 533.1L164.9 534.1L162.3 533.9L159.9 533.2L157.9 533.2L156.0 534.3L153.7 536.2L151.0 537.7L148.3 537.9L146.1 536.2L144.8 533.2L144.4 529.7L144.1 526.7L143.4 524.5L142.0 522.8L140.3 521.0L139.0 518.6L138.6 516.0L139.2 513.4L140.1 511.0L140.8 508.6L141.1 505.9L141.4 502.8L142.2 499.8L144.0 497.7L146.7 497.1L149.6 497.9L152.2 499.2L154.2 499.9L156.0 499.4L158.0 497.7L160.5 496.0L163.2 495.5L165.5 496.6L167.1 499.1L167.9 502.0L168.6 504.6L169.8 506.6L171.5 508.5L173.2 510.6L174.3 513.2Z"/>
<path filter="url(#fe1)" fill="#58c058" fill-opacity="0.80" d="M136.5 514.0L137.8 515.5L138.3 517.2L137.9 518.9L136.8 520.3L135.5 521.4L134.1 522.6L132.7 523.6L131.1 524.5L129.3 524.7L127.3 524.3L125.4 523.3L124.0 522.3L122.8 521.9L121.4 522.2L119.5 523.1L117.2 524.0L114.9 524.1L113.1 523.3L112.1 521.7L111.8 520.0L111.6 518.3L111.2 516.9L110.3 515.5L109.6 514.0L109.6 512.4L110.8 511.0L112.9 510.1L115.1 509.7L116.8 509.3L117.5 508.5L117.6 506.9L117.6 504.7L118.4 502.5L119.9 501.0L121.9 500.6L124.0 501.2L125.8 502.1L127.5 503.0L129.1 503.7L130.7 504.2L132.2 505.0L133.2 506.2L133.6 507.8L133.5 509.4L133.4 510.7L133.8 511.8L135.0 512.8Z"/>
<path filter="url(#fe1)" fill="#a8d8a8" fill-opacity="0.60" d="M103.4 571.0L102.9 571.7L102.3 572.2L101.6 572.7L101.0 573.1L100.5 573.5L100.1 573.9L99.7 574.4L99.3 575.1L98.8 575.8L98.0 576.4L97.1 576.9L96.0 577.1L94.9 577.1L93.9 576.7L93.0 576.1L92.5 575.4L92.1 574.6L91.9 573.9L91.7 573.4L91.3 572.9L90.8 572.5L90.1 572.1L89.4 571.6L88.7 571.0L88.2 570.3L88.1 569.5L88.3 568.7L88.9 568.1L89.7 567.5L90.7 567.2L91.7 567.0L92.7 566.9L93.6 566.8L94.4 566.8L95.2 566.7L96.0 566.6L96.8 566.6L97.7 566.5L98.6 566.6L99.5 566.7L100.4 566.9L101.3 567.2L102.1 567.6L102.8 568.2L103.3 568.8L103.6 569.5L103.6 570.3Z"/>
<path filter="url(#fe1)" fill="#f0d0b8" fill-opacity="0.50" d="M38.9 513.0L39.5 513.6L40.2 514.4L40.6 515.3L40.4 516.1L39.5 516.5L38.4 516.6L37.3 516.6L36.6 516.7L36.1 517.2L35.6 517.9L34.9 518.5L34.0 518.6L33.2 518.2L32.6 517.4L32.2 516.7L31.7 516.3L30.9 516.4L29.7 516.6L28.5 516.5L27.5 516.1L27.2 515.3L27.6 514.4L28.3 513.6L28.8 513.0L28.8 512.4L28.6 511.8L28.3 511.0L28.4 510.3L29.0 509.8L29.9 509.6L30.8 509.5L31.5 509.3L31.9 508.9L32.4 508.1L33.1 507.5L34.0 507.1L34.9 507.3L35.7 507.8L36.2 508.5L36.8 509.0L37.5 509.2L38.3 509.4L39.0 509.8L39.5 510.4L39.4 511.1L39.1 511.9L38.8 512.5Z"/>
<path d="M44.0 487.9 45.3 487.1 47.3 487.5 49.2 488.0 50.5 487.3 52.5 487.8M42.3 542.9 44.3 543.3 46.2 543.7 48.2 544.1 50.1 544.6 52.1 545.1 54.0 545.6 55.9 546.1 57.8 546.6M67.7 563.8 69.7 563.5 71.7 563.2 73.6 562.9 75.6 562.7 77.6 562.5 79.6 562.2 81.6 562.0M85.2 552.2 87.1 552.6 89.1 552.9 91.1 553.2 93.1 553.4 95.1 553.5 97.1 553.6 99.1 553.6 101.1 553.5 103.1 553.5 105.1 553.4M40.7 536.1 42.6 536.4 44.6 536.7 46.6 537.1 48.5 537.5 50.5 538.0 52.4 538.5 54.3 539.1 56.2 539.7 58.1 540.4 60.0 541.1M35.8 541.7 37.8 542.1 39.7 542.4 41.7 542.8 43.7 543.2 45.6 543.6 47.6 544.0 49.5 544.5 51.5 545.0 53.4 545.4M62.8 510.3 63.5 508.4 64.2 506.5 64.8 504.6 65.5 502.7 66.1 500.8 66.8 498.9M59.8 506.3 60.4 504.4 61.1 502.5 61.7 500.6 62.4 498.7 63.1 496.8 63.7 494.9 64.4 493.0 65.1 491.2 65.7 489.3 66.4 487.4 68.2 488.2M62.3 560.0 64.3 559.8 66.3 559.6 68.3 559.5 70.3 559.4 72.3 559.3 74.3 559.3 76.3 559.3 78.3 559.2M80.1 544.8 81.9 545.6 83.7 546.3 85.6 547.1 87.5 547.7 89.4 548.3 91.3 548.9 93.3 549.4M87.4 478.1 89.3 478.8 91.2 479.4 93.0 480.1 94.9 480.7 96.9 481.3 98.8 481.9 100.7 482.4M40.0 531.7 42.0 531.8 44.0 531.9 46.0 532.1 48.0 532.3 50.0 532.5 52.0 532.8 53.9 533.1M104.3 490.1 106.3 490.4 108.3 490.7 110.3 490.9 112.3 491.1 114.2 491.3 116.2 491.5 118.2 491.7 120.2 491.9 122.2 492.1 124.2 492.3M74.8 514.3 76.8 513.9 78.8 513.5 80.7 513.1 82.7 512.7 84.6 512.3 86.6 511.8 88.5 511.3 90.4 510.7M83.5 505.4 85.4 505.1 87.4 504.8 89.4 504.5 91.4 504.2 93.3 503.8 95.3 503.5 97.3 503.0 99.2 502.6 101.2 502.2M84.5 485.0 86.3 485.9 88.2 486.7 90.0 487.4 91.9 488.1 93.8 488.7 95.7 489.3 97.7 489.8M46.9 499.6 47.5 497.7 48.2 495.8 48.8 493.9 49.5 492.0 50.2 490.2M94.7 558.0 96.7 557.8 98.7 557.5 100.6 557.2 102.6 556.8 104.6 556.5 106.5 556.1M85.9 554.6 87.8 554.8 89.8 554.9 91.8 555.0 93.8 555.1M55.3 537.8 57.2 538.5 59.1 539.1 61.0 539.8 62.8 540.6 64.7 541.4 66.5 542.2 68.3 543.0 70.1 543.9M86.7 552.2 88.6 552.6 90.6 552.9 92.6 553.1 94.6 553.3 96.6 553.4 98.6 553.4 100.6 553.4M87.0 523.4 89.0 523.4 91.0 523.2 92.9 523.0 94.9 522.8 96.9 522.5M94.6 542.2 96.5 542.8 98.4 543.4 100.4 543.9 102.3 544.4 104.2 544.8 106.2 545.2 108.2 545.6M52.0 546.4 53.9 546.8 55.9 547.3 57.8 547.8 59.7 548.3 61.7 548.8 63.6 549.4 65.5 549.9 67.4 550.5 69.4 551.0M47.5 499.6 48.1 497.7 48.8 495.9 49.5 494.0 50.1 492.1 50.8 490.2 51.4 488.3 52.7 487.6 54.7 488.2 56.0 487.5 57.9 488.1M91.8 512.1 93.7 511.5 95.6 510.8 97.4 510.2 99.3 509.4 101.2 508.7 103.0 508.0 104.9 507.2 106.7 506.4 108.6 505.7 110.4 505.0 112.3 504.3M85.2 523.3 87.2 523.3 89.2 523.2 91.2 523.0 93.2 522.8 95.1 522.6 97.1 522.2 99.1 521.8 101.0 521.3 102.9 520.8 104.8 520.2 106.7 519.5M60.2 499.1 60.8 497.2 61.5 495.3 62.1 493.4 62.8 491.5 63.5 489.6 64.1 487.8 65.4 487.2 67.2 488.0 68.5 487.4M41.2 507.9 42.4 506.5 43.1 504.7 43.7 502.8 44.4 500.9 45.0 499.0 45.7 497.1 46.4 495.2 47.0 493.3 47.7 491.4M99.1 536.7 101.0 537.2 103.0 537.6 104.9 538.1 106.9 538.5 108.9 538.9 110.8 539.3 112.8 539.7M77.8 489.8 79.7 490.5 81.5 491.3 83.4 492.0 85.3 492.6M76.0 544.3 77.8 545.1 79.6 546.0 81.5 546.8 83.3 547.5 85.2 548.2 87.1 548.8 89.0 549.4 91.0 549.9 92.9 550.3 94.9 550.6M58.6 556.2 60.6 556.1 62.6 556.1 64.6 556.2 66.6 556.3 68.6 556.4 70.6 556.5 72.6 556.7 74.6 556.8 76.6 557.0M37.9 523.2 39.8 522.6 41.7 522.1 43.6 521.5 45.5 520.9M65.8 550.6 67.7 551.1 69.6 551.6 71.6 552.1 73.5 552.6 75.5 553.0 77.4 553.4 79.4 553.8 81.4 554.2 83.3 554.5 85.3 554.7 87.3 554.9M67.2 532.0 69.1 532.6 71.0 533.3 72.8 534.0 74.7 534.7 76.5 535.5 78.3 536.3 80.2 537.2 82.0 538.0 83.8 538.9M72.4 498.8 74.4 499.0 76.4 499.2 78.4 499.5 80.4 499.6 82.4 499.8 84.4 499.9 86.4 500.0 88.4 500.0 90.4 500.0M44.9 500.8 45.6 498.9 46.3 497.0 46.9 495.1 47.6 493.2 48.2 491.3 48.9 489.4 49.6 487.5 51.5 488.0M38.3 500.0 40.2 499.6 42.2 499.2 42.9 497.3 43.5 495.4 44.2 493.5 44.8 491.6 45.5 489.7 46.2 487.9M79.8 527.5 81.7 527.8 83.7 528.2 85.7 528.5 87.6 528.9 89.6 529.2M99.4 549.4 101.4 549.6 103.4 549.8 105.4 550.0 107.4 550.1 109.4 550.2 111.4 550.2 113.4 550.3M48.5 502.9 49.2 501.0 49.9 499.1 50.5 497.2 51.2 495.4 51.8 493.5 52.5 491.6 53.2 489.7 53.8 487.8 55.1 487.1 57.0 487.7 58.3 487.1M93.4 555.0 95.4 555.0 97.4 555.0 99.4 554.9 101.4 554.7 103.4 554.6 105.4 554.4 107.4 554.2 109.4 553.9 111.4 553.7M69.3 541.5 71.1 542.4 72.9 543.2 74.7 544.1 76.5 545.0 78.4 545.8 80.2 546.6M68.8 527.3 70.8 527.6 72.8 528.0 74.7 528.4 76.7 528.8 78.6 529.3 80.6 529.7 82.5 530.2 84.5 530.8 86.4 531.3 88.3 531.8 90.3 532.3M70.1 532.6 72.0 533.3 73.8 534.0 75.7 534.7 77.5 535.5 79.4 536.4 81.2 537.2 83.0 538.0 84.8 538.8 86.6 539.7 88.5 540.4 90.3 541.2M100.2 503.6 102.1 503.1 104.0 502.5 106.0 502.0 107.9 501.5 109.8 501.0 111.8 500.5 113.7 500.1 115.7 499.7 117.6 499.3M75.3 496.2 77.3 496.6 79.2 497.0 81.2 497.4 83.2 497.7 85.1 498.0M62.7 545.6 64.5 546.3 66.4 547.0 68.3 547.7 70.1 548.4 72.0 549.0M56.8 518.5 58.7 517.9 60.6 517.5 62.6 517.0 64.5 516.5 66.5 516.1 68.4 515.7M81.9 526.0 83.8 526.2 85.8 526.4 87.8 526.5 89.8 526.7 91.8 526.8M42.2 505.4 42.8 503.5 43.5 501.6 44.1 499.7 44.8 497.8 45.5 495.9 46.1 494.0 46.8 492.2 47.4 490.3 48.1 488.4 49.4 487.7M82.0 481.4 83.9 482.2 85.7 483.0 87.5 483.8 89.3 484.6 91.2 485.4M75.3 486.7 77.1 487.5 78.9 488.4 80.7 489.2 82.5 490.0 84.4 490.7 86.3 491.4 88.2 492.0 90.1 492.6 92.0 493.0 94.0 493.5M46.2 530.8 48.2 530.9 50.2 531.1 52.2 531.3 54.2 531.5 56.1 531.9 58.1 532.2 60.1 532.7 62.0 533.2M60.5 500.7 61.2 498.9 61.9 497.0 62.5 495.1 63.2 493.2 63.8 491.3 64.5 489.4 65.2 487.5 67.0 488.3 68.2 487.8M30.9 507.7 32.7 506.9 34.6 506.1 36.4 505.4 38.3 504.6 40.1 503.9 42.0 503.3 42.7 501.4 43.4 499.5 44.0 497.6M81.3 530.2 83.2 530.8 85.2 531.3 87.1 531.8 89.0 532.4 90.9 532.9 92.9 533.4 94.8 533.9 96.8 534.4 98.7 534.9 100.7 535.3 102.6 535.7M84.2 507.3 86.1 506.9 88.1 506.6 90.1 506.2 92.0 505.7 94.0 505.3 95.9 504.8M109.0 499.0 110.9 498.7 112.9 498.4 114.9 498.1 116.9 497.8 118.8 497.6 120.8 497.4 122.8 497.2M35.1 505.4 36.9 504.6 38.8 503.9 40.7 503.3 42.6 502.7 43.2 500.8 43.9 498.9 44.6 497.0 45.2 495.1M89.3 536.4 91.1 537.1 93.0 537.8 94.9 538.4 96.8 539.0 98.7 539.6 100.6 540.2 102.6 540.7 104.5 541.2 106.5 541.6 108.4 542.1M68.4 539.4 70.2 540.2 72.0 541.1 73.8 542.0 75.5 542.9M95.7 543.9 97.6 544.5 99.6 545.0 101.5 545.5 103.5 545.9 105.4 546.2 107.4 546.5 109.4 546.8M93.1 492.8 95.0 493.2 97.0 493.5 99.0 493.8 101.0 494.0 103.0 494.1 105.0 494.2 107.0 494.3 109.0 494.3M165.4 532.9 163.7 534.0 161.9 534.8 160.0 535.4 158.0 535.8M47.8 528.0 49.8 527.9 51.8 527.8 53.8 527.8 55.8 527.9 57.8 528.0 59.8 528.1 61.8 528.4M99.4 514.6 101.3 513.9 103.1 513.1 104.9 512.2 106.7 511.4 108.5 510.5M53.9 483.2 55.8 483.8 57.7 484.5 59.6 485.2 61.4 485.9 63.3 486.6 65.1 487.4 67.0 488.2 68.2 487.7 69.4 487.1 71.3 488.0 73.1 488.8M55.9 486.0 57.8 486.6 59.6 487.3 61.5 488.0 62.8 487.4 64.6 488.2 65.9 487.6 67.7 488.4 69.0 487.9 70.2 487.3M44.1 550.1 46.1 550.2 48.1 550.3 50.1 550.4 52.1 550.6 54.1 550.8M92.8 487.2 94.7 487.9 96.6 488.5 98.6 489.0 100.5 489.5 102.5 489.9 104.4 490.2 106.4 490.5 108.4 490.8 110.4 491.0M122.5 537.2 124.5 537.7 126.4 538.1 128.3 538.7 130.2 539.3 132.1 539.9 134.0 540.6 135.9 541.3 137.7 542.0M89.5 477.7 91.4 478.3 93.4 478.9 95.3 479.5 97.2 480.1 99.1 480.6M78.1 512.1 80.1 511.7 82.0 511.3 84.0 510.8 85.9 510.4 87.9 509.9 89.8 509.4 91.7 508.9 93.6 508.3M46.9 502.4 47.6 500.5 48.2 498.6 48.9 496.7 49.6 494.9 50.2 493.0 50.9 491.1 51.5 489.2 52.2 487.3M56.9 549.3 58.8 549.8 60.8 550.2 62.7 550.6 64.7 551.1M60.6 501.5 61.2 499.6 61.9 497.7 62.6 495.9 63.2 494.0 63.9 492.1 64.5 490.2 65.2 488.3 66.4 487.8 67.7 487.2 69.5 488.0 70.8 487.5M71.6 496.8 73.5 497.2 75.5 497.6 77.5 497.9 79.5 498.2 81.4 498.5 83.4 498.7 85.4 498.9 87.4 499.1 89.4 499.1 91.4 499.2 93.4 499.2M30.7 523.0 32.6 522.5 34.6 522.0 36.5 521.3 38.4 520.7 40.2 520.0M38.0 504.5 39.9 503.8 41.8 503.1 43.0 501.9 43.7 500.0 44.4 498.1M67.2 489.8 67.8 487.9 69.1 487.4 70.9 488.2 72.7 489.0M88.4 508.0 90.4 507.5 92.3 507.0 94.3 506.5 96.2 505.9 98.1 505.4 100.0 504.8M92.3 494.5 94.3 494.8 96.2 495.1 98.2 495.2 100.2 495.4 102.2 495.4M118.1 546.1 120.1 546.4 122.1 546.7 124.1 547.0 126.0 547.4M60.4 535.7 62.3 536.4 64.1 537.1 66.0 537.9 67.8 538.7M98.1 507.0 100.0 506.3 101.9 505.7 103.8 505.0 105.7 504.4 107.5 503.7 109.4 503.1 111.4 502.5M56.3 525.9 58.3 525.9 60.3 525.9 62.3 525.9 64.3 526.0 66.3 526.2 68.3 526.4 70.3 526.6 72.3 526.9 74.2 527.2M64.6 563.0 66.5 562.7 68.5 562.4 70.5 562.1 72.5 561.9 74.5 561.7M118.2 497.1 120.2 496.9 122.2 496.8 124.2 496.7 126.2 496.7 128.2 496.6 130.2 496.7M47.0 514.2 48.8 513.4 50.7 512.6 52.5 511.8 53.2 510.0 53.8 508.1 54.5 506.2 55.2 504.3M72.1 496.2 74.1 496.6 76.0 497.0 78.0 497.4 80.0 497.8 82.0 498.1 83.9 498.3 85.9 498.5 87.9 498.7 89.9 498.8 91.9 498.8M81.6 498.2 83.6 498.5 85.6 498.7 87.6 498.8 89.6 498.9 91.6 499.0 93.6 499.0 95.6 498.9 97.6 498.8 99.6 498.7 101.6 498.5M86.5 514.2 88.4 513.7 90.4 513.1 92.3 512.5 94.2 511.9 96.0 511.2 97.9 510.5 99.8 509.8 101.6 509.0 103.5 508.3 105.3 507.5M67.4 557.2 69.4 557.2 71.4 557.3 73.4 557.4 75.4 557.5M57.9 490.8 58.5 489.0 59.2 487.1 61.1 487.8 62.4 487.2 64.2 487.9 65.5 487.3 67.3 488.1 68.5 487.6M61.8 519.0 63.7 518.6 65.7 518.3 67.7 517.9 69.6 517.6 71.6 517.3 73.6 517.0 75.6 516.7 77.5 516.3M32.8 526.3 34.8 526.0 36.8 525.7 38.7 525.3 40.7 524.9 42.6 524.5 44.6 524.1 46.6 523.6 48.5 523.2 50.5 522.8M88.2 512.3 90.1 511.8 92.1 511.2 94.0 510.6 95.9 509.9 97.7 509.3 99.6 508.6 101.5 507.8 103.3 507.1 105.2 506.4M45.3 536.8 47.2 537.2 49.2 537.6 51.1 538.1 53.0 538.6M99.9 540.6 101.8 541.1 103.7 541.6 105.7 542.1 107.6 542.5M56.2 511.9 56.9 510.0 57.6 508.1 58.2 506.2 58.9 504.3 59.5 502.4 60.2 500.5 60.9 498.6 61.5 496.8 62.2 494.9M68.2 522.6 70.2 522.6 72.2 522.6 74.2 522.6 76.2 522.6 78.2 522.6 80.2 522.6M80.9 545.3 82.7 546.1 84.6 546.8 86.5 547.5 88.4 548.2 90.3 548.7 92.2 549.2 94.2 549.7 96.1 550.0 98.1 550.3M85.5 558.8 87.5 558.7 89.5 558.6 91.5 558.4 93.5 558.2 95.5 558.0 97.5 557.7 99.5 557.4 101.4 557.1M89.2 556.2 91.2 556.2 93.2 556.1 95.2 556.1 97.2 555.9 99.2 555.8 101.2 555.6 103.2 555.3 105.2 555.1M93.6 520.0 95.5 519.6 97.5 519.0 99.4 518.4 101.3 517.8 103.1 517.1 105.0 516.3 106.8 515.5 108.6 514.7 110.4 513.8M70.2 489.0 72.1 489.8 73.9 490.6 75.7 491.4 77.6 492.1 79.5 492.8 81.4 493.4 83.3 494.0 85.2 494.5M101.4 531.4 103.3 531.5 105.3 531.7 107.3 531.8 109.3 532.0 111.3 532.1 113.3 532.2 115.3 532.3 117.3 532.4M45.9 513.5 47.7 512.7 49.5 511.8 50.2 510.0 50.8 508.1 51.5 506.2M53.6 548.5 55.6 548.9 57.6 549.3 59.5 549.7 61.5 550.2 63.4 550.6 65.4 551.1 67.3 551.6M35.8 512.2 37.6 511.3 39.3 510.4 41.1 509.6 42.4 508.2 43.0 506.3 43.7 504.4 44.4 502.5M84.4 499.9 86.4 500.0 88.4 500.0 90.4 500.0 92.4 499.9M66.6 501.1 67.3 499.2 67.9 497.3 68.6 495.4 69.3 493.5 69.9 491.6 71.2 491.0 73.0 491.8 74.9 492.5 76.8 493.1 78.7 493.8M74.9 478.9 76.7 479.7 78.5 480.6 80.3 481.4 82.1 482.3M65.3 514.3 67.2 513.8 69.2 513.4 71.1 513.0 73.1 512.6 75.0 512.2 77.0 511.8M73.2 491.8 75.0 492.5 76.9 493.2 78.8 493.8 80.7 494.4 82.7 494.9M76.2 561.3 78.2 561.1 80.1 560.9 82.1 560.8 84.1 560.6 86.1 560.4 88.1 560.2 90.1 559.9 92.1 559.6 94.1 559.3M89.6 551.1 91.5 551.5 93.5 551.8 95.5 552.0 97.5 552.2 99.5 552.3 101.5 552.3 103.5 552.3 105.5 552.3 107.5 552.3M59.7 517.6 61.7 517.1 63.6 516.7 65.6 516.2 67.5 515.8 69.5 515.4M69.0 542.8 70.8 543.7 72.6 544.5 74.5 545.4 76.3 546.2 78.1 547.0 80.0 547.8 81.8 548.5 83.7 549.1 85.6 549.7 87.6 550.3M40.7 513.6 42.5 512.7 44.3 511.9 45.0 510.0 45.6 508.1M96.9 525.8 98.8 525.7 100.8 525.5 102.8 525.2 104.8 524.9 106.8 524.5 108.7 524.1 110.7 523.7 112.6 523.2 114.5 522.6 116.4 522.0M68.7 539.3 70.6 540.2 72.4 541.0 74.1 541.9 75.9 542.8 77.7 543.7 79.5 544.6 81.4 545.4 83.2 546.2 85.1 546.9 86.9 547.6M80.9 499.6 82.9 499.7 84.9 499.8 86.9 499.9 88.9 500.0 90.9 499.9 92.9 499.9 94.9 499.8 96.8 499.6 98.8 499.5M59.7 533.6 61.6 534.1 63.5 534.8 65.3 535.5 67.2 536.2M43.1 509.1 43.8 507.2 44.5 505.3 45.1 503.4 45.8 501.5 46.4 499.7 47.1 497.8 47.8 495.9 48.4 494.0 49.1 492.1 49.7 490.2M56.6 529.2 58.6 529.4 60.5 529.7 62.5 530.1 64.5 530.5 66.4 531.0 68.3 531.5 70.2 532.1 72.1 532.8 74.0 533.5 75.8 534.2M94.3 506.8 96.3 506.2 98.2 505.6 100.1 505.1 102.0 504.5 103.9 503.9 105.8 503.3M71.6 530.4 73.5 531.0 75.4 531.6 77.3 532.3 79.1 532.9 81.0 533.6 82.9 534.4M31.9 520.8 33.8 520.1 35.7 519.4 37.5 518.7 39.4 517.9 41.2 517.1 43.0 516.3M88.4 525.2 90.4 525.3 92.4 525.3 94.4 525.2 96.4 525.1 98.4 524.9 100.4 524.6M32.1 519.2 33.9 518.5 35.8 517.7 37.6 516.9 39.4 516.0 41.2 515.2 43.0 514.3 44.8 513.5M65.0 500.2 65.6 498.3 66.3 496.4 67.0 494.5 67.6 492.6 68.3 490.7 68.9 488.8 70.2 488.3 72.0 489.1 73.8 489.9 75.7 490.7M32.6 515.4 34.5 514.5 36.3 513.6 38.0 512.8 39.8 511.9 41.6 511.0 42.9 509.6 43.5 507.7 44.2 505.8 44.8 503.9 45.5 502.0M94.9 505.5 96.8 505.0 98.8 504.5 100.7 504.0 102.6 503.4 104.5 502.9 106.5 502.3 108.4 501.8 110.3 501.3 112.2 500.8M104.5 515.8 106.3 515.0 108.1 514.2 109.9 513.3 111.7 512.4 113.5 511.5 115.3 510.6 117.1 509.7 118.9 508.9 120.7 508.1M169.9 513.1 170.6 515.0 171.0 517.0 171.1 519.0 171.0 521.0 170.6 522.9 169.9 524.8 169.0 526.6 167.9 528.3 166.6 529.8 165.1 531.1 163.5 532.2M87.1 500.2 89.1 500.2 91.1 500.1 93.1 500.1 95.1 499.9 97.1 499.8 99.1 499.6 101.1 499.4 103.1 499.1 105.1 498.8M65.4 509.3 66.0 507.5 66.7 505.6 67.4 503.7 68.0 501.8 68.7 499.9 69.3 498.0M64.9 483.6 66.7 484.4 68.5 485.3 70.3 486.1 72.1 487.0 73.9 487.9 75.7 488.7 77.6 489.5 79.4 490.3M76.8 552.3 78.8 552.8 80.7 553.2 82.7 553.6 84.7 553.9 86.6 554.2 88.6 554.4 90.6 554.6 92.6 554.7M102.8 517.9 104.6 517.1 106.5 516.3 108.3 515.5 110.1 514.7M31.2 522.9 33.2 522.3 35.1 521.7 37.0 521.1 38.9 520.4 40.7 519.7M75.7 505.8 77.7 505.6 79.7 505.4 81.7 505.2 83.7 505.0 85.6 504.7M56.2 486.6 58.1 487.2 60.0 487.9 61.3 487.3 63.1 488.0 64.4 487.5M62.5 543.6 64.4 544.3 66.2 545.1 68.1 545.9 69.9 546.6 71.8 547.4 73.6 548.1 75.5 548.8M81.2 487.7 83.0 488.6 84.9 489.3 86.7 490.1 88.6 490.7 90.5 491.3 92.5 491.9 94.4 492.3 96.4 492.7M117.6 520.3 119.5 519.7 121.4 519.0 123.2 518.2 125.1 517.5 127.0 516.8 128.9 516.1 130.8 515.5 132.6 514.8M46.7 538.8 48.7 539.2 50.6 539.7 52.5 540.3 54.4 540.9 56.3 541.5 58.2 542.1M67.2 502.8 67.9 501.0 68.6 499.1 69.2 497.2 69.9 495.3 71.2 494.6M85.6 508.7 87.6 508.2 89.5 507.8 91.5 507.3 93.4 506.8 95.3 506.2M97.2 493.0 99.1 493.3 101.1 493.5 103.1 493.7 105.1 493.8M99.5 512.9 101.3 512.1 103.2 511.3 105.0 510.5 106.8 509.6 108.6 508.8 110.4 508.0 112.2 507.1 114.1 506.3 115.9 505.6 117.8 504.8M52.3 543.7 54.3 544.2 56.2 544.8 58.1 545.4 60.0 546.0 61.9 546.6M40.0 526.9 42.0 526.6 44.0 526.3 46.0 526.1 48.0 525.8 49.9 525.5 51.9 525.3 53.9 525.1 55.9 524.9 57.9 524.8M61.8 521.9 63.8 521.7 65.8 521.5 67.8 521.3 69.8 521.2 71.8 521.1 73.8 520.9 75.8 520.8 77.8 520.7M67.5 531.5 69.4 532.1 71.3 532.7 73.2 533.4 75.0 534.1 76.9 534.9 78.7 535.7 80.6 536.5 82.4 537.3 84.2 538.1 86.0 539.0M43.5 504.5 44.2 502.7 44.8 500.8 45.5 498.9 46.1 497.0M92.2 501.4 94.2 501.2 96.2 501.0 98.2 500.7 100.1 500.5M44.9 545.3 46.9 545.7 48.9 546.1 50.8 546.5 52.8 546.9 54.7 547.3M63.3 552.9 65.3 553.2 67.3 553.5 69.3 553.8 71.2 554.2 73.2 554.5 75.2 554.8M53.6 499.2 54.3 497.3 55.0 495.5 55.6 493.6 56.3 491.7 56.9 489.8 57.6 487.9 58.9 487.3 60.8 488.0 62.0 487.4M95.5 491.3 97.5 491.8 99.4 492.1 101.4 492.4 103.4 492.7 105.4 492.9 107.4 493.0 109.4 493.1 111.4 493.2 113.4 493.3 115.4 493.3M85.8 547.2 87.7 547.8 89.6 548.4 91.5 549.0 93.5 549.4 95.4 549.8 97.4 550.1 99.4 550.4 101.4 550.6 103.4 550.7 105.4 550.8M43.0 537.6 45.0 538.0 46.9 538.5 48.9 538.9 50.8 539.4 52.8 540.0 54.7 540.6M85.1 518.0 87.1 517.6 89.0 517.2 91.0 516.7 92.9 516.2 94.8 515.6 96.7 515.0 98.6 514.3M34.1 523.6 36.0 523.1 37.9 522.5 39.8 522.0 41.7 521.3M94.8 507.3 96.7 506.7 98.6 506.1 100.5 505.5 102.4 504.9 104.3 504.3 106.2 503.6 108.1 503.0 110.1 502.4 112.0 501.9 113.9 501.3 115.8 500.8M30.2 507.3 32.1 506.5 33.9 505.7 35.8 505.0 37.7 504.3 39.6 503.6 41.4 503.0" fill="none" stroke="#111" stroke-width="0.95"/>
<path d="M55.6 488.6L52.1 488.7L52.6 486.8ZM60.0 547.2L56.5 547.3L57.1 545.4ZM84.8 561.6L81.6 563.0L81.4 561.0ZM108.3 553.2L105.0 554.4L104.9 552.4ZM63.0 542.2L59.5 542.0L60.2 540.1ZM55.5 546.0L52.1 546.1L52.6 544.2ZM67.5 496.9L67.4 500.3L65.5 499.6ZM70.2 489.1L66.8 488.7L67.6 486.8ZM81.5 559.2L78.2 560.2L78.2 558.2ZM96.4 550.0L92.9 550.3L93.4 548.3ZM102.8 483.0L99.4 483.1L99.9 481.1ZM56.1 533.5L52.6 533.9L53.0 531.9ZM126.4 492.6L123.0 493.2L123.2 491.2ZM92.5 510.1L89.6 512.0L89.1 510.1ZM104.3 501.5L101.3 503.2L100.8 501.2ZM99.8 490.4L96.3 490.5L96.8 488.6ZM50.9 488.1L50.8 491.5L48.8 490.9ZM109.7 555.6L106.6 557.2L106.3 555.2ZM97.0 555.0L93.7 556.1L93.7 554.0ZM72.1 544.8L68.7 544.3L69.5 542.5ZM102.8 553.4L99.5 554.4L99.5 552.4ZM99.1 522.1L96.0 523.7L95.6 521.7ZM110.3 545.9L106.9 546.4L107.3 544.4ZM72.5 551.9L69.0 552.0L69.5 550.0ZM59.9 488.8L56.5 488.8L57.1 486.8ZM114.4 503.5L111.6 505.6L110.9 503.7ZM108.8 518.8L106.0 520.9L105.3 519.0ZM69.2 485.4L69.1 488.8L67.1 488.2ZM48.4 489.4L48.3 492.8L46.4 492.1ZM115.9 540.3L112.5 540.7L112.9 538.7ZM87.4 493.3L83.9 493.2L84.6 491.3ZM98.1 551.1L94.6 551.6L94.9 549.6ZM78.7 557.1L75.4 557.9L75.5 555.9ZM47.6 520.2L44.8 522.2L44.2 520.2ZM89.5 555.1L86.1 555.8L86.3 553.8ZM85.8 539.8L82.4 539.3L83.2 537.5ZM93.6 500.0L90.3 501.1L90.2 499.0ZM52.6 485.0L52.4 488.4L50.5 487.8ZM46.9 485.8L46.8 489.2L44.8 488.6ZM92.8 529.7L89.4 530.2L89.7 528.2ZM115.6 550.3L112.3 551.2L112.3 549.2ZM59.0 485.0L58.9 488.5L57.0 487.8ZM114.5 553.4L111.4 554.7L111.1 552.7ZM83.2 547.8L79.7 547.5L80.5 545.6ZM92.4 532.8L88.9 533.0L89.4 531.0ZM92.4 542.0L88.9 541.7L89.7 539.9ZM120.8 498.7L117.7 500.3L117.4 498.3ZM87.3 498.2L83.9 498.8L84.2 496.8ZM74.1 549.8L70.6 549.6L71.3 547.7ZM70.6 515.3L67.6 516.9L67.1 514.9ZM95.0 526.9L91.7 527.8L91.8 525.8ZM52.5 488.4L49.1 488.6L49.5 486.7ZM93.2 486.2L89.8 485.9L90.5 484.0ZM97.1 494.0L93.7 494.4L94.1 492.4ZM65.0 534.2L61.6 534.2L62.2 532.2ZM71.2 489.1L67.7 488.7L68.6 486.8ZM44.7 495.5L44.6 499.0L42.7 498.3ZM104.8 536.1L101.3 536.5L101.7 534.5ZM99.0 504.0L96.1 505.8L95.6 503.8ZM126.0 497.0L122.8 498.2L122.7 496.2ZM46.3 492.1L46.2 495.6L44.2 494.9ZM110.6 542.5L107.1 542.8L107.6 540.8ZM77.5 543.8L74.1 543.3L75.0 541.5ZM111.6 547.1L108.2 547.7L108.4 545.7ZM111.2 494.4L107.9 495.3L107.9 493.3ZM155.8 536.2L158.9 534.6L159.3 536.6ZM64.0 528.6L60.6 529.2L60.8 527.2ZM110.5 509.6L108.0 511.9L107.1 510.1ZM75.1 489.7L71.7 489.3L72.5 487.4ZM73.1 488.7L69.7 488.2L70.5 486.4ZM56.3 551.1L52.9 551.7L53.1 549.7ZM112.6 491.3L109.2 491.9L109.4 489.9ZM139.8 542.9L136.3 542.5L137.1 540.7ZM102.2 481.4L98.8 481.5L99.3 479.6ZM95.7 507.7L92.9 509.6L92.3 507.6ZM55.3 488.2L51.8 488.3L52.4 486.3ZM66.8 551.6L63.4 551.8L63.8 549.8ZM72.8 488.4L69.3 488.0L70.2 486.1ZM95.6 499.1L92.3 500.2L92.3 498.2ZM43.2 518.9L40.5 521.0L39.8 519.1ZM45.1 496.0L45.0 499.5L43.0 498.8ZM74.7 489.9L71.3 489.5L72.1 487.7ZM103.1 503.9L100.2 505.8L99.6 503.9ZM104.4 495.5L101.1 496.4L101.2 494.4ZM129.2 547.9L125.7 548.3L126.1 546.3ZM70.7 540.1L67.3 539.6L68.1 537.8ZM113.4 501.8L110.6 503.8L110.0 501.9ZM76.4 527.6L73.0 528.1L73.3 526.1ZM77.7 561.4L74.5 562.7L74.3 560.7ZM132.4 496.8L129.0 497.7L129.1 495.6ZM56.2 501.3L56.1 504.7L54.2 504.1ZM94.1 498.9L90.8 499.8L90.8 497.8ZM103.8 498.3L100.6 499.6L100.4 497.6ZM107.4 506.7L104.7 508.9L103.9 507.0ZM78.6 557.6L75.3 558.5L75.4 556.5ZM71.5 488.9L68.0 488.5L68.9 486.6ZM80.7 515.8L77.6 517.4L77.3 515.4ZM52.6 522.3L49.6 524.0L49.2 522.0ZM107.2 505.6L104.5 507.7L103.8 505.8ZM56.1 539.5L52.7 539.6L53.2 537.6ZM110.8 543.1L107.3 543.5L107.7 541.5ZM62.9 492.8L62.8 496.3L60.9 495.6ZM82.4 522.5L79.1 523.6L79.1 521.6ZM101.3 550.7L97.9 551.3L98.1 549.3ZM104.6 556.5L101.5 558.1L101.2 556.1ZM107.4 554.8L104.2 556.2L103.9 554.2ZM112.4 512.8L109.9 515.2L109.0 513.4ZM87.4 495.1L83.9 495.2L84.4 493.2ZM120.5 532.6L117.1 533.4L117.3 531.4ZM52.2 504.1L52.1 507.6L50.2 506.9ZM69.4 552.1L66.0 552.3L66.5 550.3ZM45.1 500.4L45.0 503.9L43.0 503.2ZM95.6 499.8L92.3 501.0L92.2 498.9ZM81.7 494.7L78.3 494.7L78.9 492.8ZM85.0 483.6L81.6 483.1L82.5 481.3ZM79.2 511.3L76.1 513.0L75.7 511.0ZM84.8 495.5L81.3 495.6L81.9 493.7ZM96.2 559.0L93.1 560.5L92.8 558.5ZM109.7 552.2L106.4 553.3L106.3 551.3ZM71.6 515.0L68.6 516.6L68.2 514.6ZM90.7 551.0L87.2 551.2L87.7 549.2ZM46.7 505.1L46.5 508.5L44.6 507.8ZM119.5 521.1L116.6 523.0L116.0 521.1ZM89.0 548.3L85.6 548.2L86.2 546.3ZM101.0 499.3L97.8 500.6L97.6 498.6ZM69.2 537.0L65.8 536.7L66.6 534.8ZM50.8 487.2L50.7 490.7L48.7 490.0ZM78.8 535.4L75.4 535.1L76.1 533.2ZM108.9 502.3L106.0 504.3L105.4 502.3ZM84.9 535.2L81.5 534.9L82.2 533.0ZM45.0 515.4L42.4 517.6L41.6 515.8ZM102.6 524.3L99.4 525.8L99.1 523.8ZM47.7 512.1L45.2 514.4L44.3 512.6ZM77.7 491.5L74.3 491.2L75.1 489.3ZM46.2 500.0L46.1 503.4L44.2 502.7ZM115.4 500.0L112.4 501.8L111.9 499.8ZM122.8 507.2L120.1 509.4L119.3 507.6ZM161.6 533.4L163.9 530.8L164.9 532.5ZM107.2 498.5L104.1 500.0L103.8 498.0ZM70.4 495.0L70.3 498.5L68.4 497.8ZM82.4 491.5L78.9 491.2L79.7 489.3ZM94.8 554.7L91.5 555.6L91.6 553.6ZM113.0 513.3L110.4 515.6L109.6 513.8ZM43.7 518.6L41.0 520.7L40.3 518.8ZM87.8 504.4L84.7 505.9L84.4 503.9ZM66.4 488.3L63.0 488.0L63.8 486.1ZM78.5 549.9L75.1 549.8L75.7 547.9ZM99.5 493.3L96.1 493.7L96.4 491.7ZM134.7 514.1L131.9 516.1L131.3 514.2ZM61.2 543.2L57.8 543.1L58.5 541.2ZM74.3 495.5L70.8 495.6L71.3 493.6ZM98.4 505.4L95.5 507.2L95.0 505.3ZM108.3 494.0L105.0 494.8L105.0 492.8ZM120.8 503.7L118.0 505.8L117.3 503.9ZM64.0 547.3L60.5 547.2L61.2 545.3ZM61.1 524.7L57.9 525.8L57.8 523.8ZM81.0 520.5L77.7 521.7L77.6 519.7ZM88.0 539.8L84.6 539.4L85.4 537.6ZM46.9 494.9L46.7 498.4L44.8 497.7ZM102.3 500.1L99.2 501.6L98.9 499.6ZM56.9 547.8L53.4 548.1L53.9 546.1ZM78.3 555.3L74.9 555.8L75.2 553.8ZM62.8 485.3L62.6 488.7L60.7 488.1ZM118.6 493.5L115.2 494.4L115.3 492.3ZM108.6 550.9L105.2 551.8L105.3 549.8ZM57.7 541.6L54.3 541.5L54.9 539.6ZM101.5 513.1L98.8 515.2L98.1 513.4ZM44.8 520.3L42.0 522.3L41.3 520.4ZM118.0 500.3L115.0 502.1L114.5 500.1ZM44.5 502.0L41.7 504.0L41.0 502.0Z" fill="#111"/>
<path d="M62.8 546.5l2.2 -1.1M70.5 551.5l1.9 -0.2M76.2 542.2l1.1 0.8M62.7 515.8l1.8 -1.7M103.1 510.6l1.7 -0.5M75.5 556.8l2.3 1.7M62.8 546.5l1.6 -1.5M84.0 553.4l1.1 -1.3M123.9 499.2l2.0 -1.3M152.8 499.2l1.3 0.9M71.7 542.7l1.2 0.6M60.6 521.2l1.8 -1.0M127.5 499.7l2.3 1.7M81.4 559.8l2.0 -2.2M130.4 495.8l1.1 0.7M144.4 494.4l2.4 0.9M132.4 496.5l1.7 -1.0M67.6 521.3l1.5 -0.9M154.1 505.8l1.9 0.4M76.5 523.4l1.6 1.1M145.1 520.9l1.5 -1.4M137.3 497.0l1.8 1.2M84.5 560.0l1.5 -0.4M75.8 503.0l2.3 -1.6M157.5 524.2l2.6 -0.8M84.0 553.4l2.6 -0.4M62.7 515.8l1.3 -0.3M67.6 551.4l2.3 1.9M80.9 560.1l1.1 1.3M98.2 511.7l2.3 -0.2M93.6 558.4l1.9 -1.1M118.2 511.9l2.7 1.0M78.0 494.8l1.7 1.2M65.0 516.2l1.9 -0.9M152.8 522.4l2.1 -1.3M101.9 549.4l2.1 0.5M78.7 499.3l1.4 -1.2M153.5 527.7l1.8 2.1M106.7 506.3l1.5 -0.5M58.9 493.8l2.5 -1.1M47.4 523.7l1.8 -1.1M78.7 499.3l1.9 1.1M84.7 538.1l2.0 -1.8M71.8 487.4l1.4 0.4M67.5 508.4l1.8 0.1M131.9 495.9l0.9 -1.0M72.4 503.4l1.7 1.1M164.3 526.1l1.8 2.0M101.8 512.8l1.3 0.9M147.5 525.8l1.4 1.1M89.8 519.8l1.9 2.2M155.2 522.4l1.9 2.0M158.2 509.6l2.9 0.0M93.6 514.7l1.8 0.2M108.9 522.1l2.0 1.6M75.5 556.8l2.7 -0.4M114.7 518.2l1.7 -1.3M152.3 497.0l2.0 -1.8M78.4 518.3l1.8 0.7M147.2 528.0l1.7 -0.4" stroke="#111" stroke-width="0.45" fill="none"/>
<path transform="scale(.5)" d="M304 1038h0M153 1026h0M210 1029h0M203 1026h0M109 1005h0M163 1028h0M153 1113h0M209 1098h0M321 1050h0M341 1048h0M132 1043h0M287 989h0M302 1034h0M145 1086h0M287 1046h0M193 1109h0M175 1090h0M325 1058h0M205 1113h0M252 1003h0M273 992h0M295 1050h0M142 1124h0M187 1092h0M190 1078h0M186 1032h0M175 1092h0M265 993h0M95 977h0M327 1058h0" stroke="#111" stroke-width="3" stroke-linecap="round"/>
<path filter="url(#fe2)" fill="#c24010" fill-opacity="0.95" d="M339.7 398.0L334.0 402.9L327.5 406.7L322.8 410.0L320.8 413.9L320.5 419.0L319.6 424.8L316.4 429.9L310.2 432.8L302.5 433.2L294.7 431.8L288.0 430.3L282.0 430.1L275.8 431.5L268.6 433.5L260.7 434.5L253.2 433.6L247.1 430.4L242.9 425.8L240.1 420.9L237.5 416.3L234.6 412.0L231.5 407.6L229.1 403.0L228.3 398.0L229.3 393.1L231.6 388.4L234.4 384.0L237.5 379.7L241.1 375.7L245.6 372.1L251.2 369.4L257.5 367.8L263.8 366.8L269.8 365.7L275.7 363.8L282.0 361.4L289.2 359.3L296.8 358.8L303.7 360.7L309.1 364.6L312.8 369.5L315.9 373.9L320.2 377.2L326.3 379.8L333.4 382.8L339.4 387.0L341.8 392.4Z"/>
<path filter="url(#fe2)" fill="#d05810" fill-opacity="0.85" d="M315.5 395.0L311.1 398.4L306.8 401.1L304.6 403.7L304.8 407.3L306.1 412.0L306.0 417.1L303.2 421.1L297.6 422.6L290.9 421.6L284.9 419.4L280.1 418.1L276.0 419.2L271.1 422.2L265.0 425.3L258.4 426.3L253.3 424.0L251.0 419.0L251.3 413.2L252.1 408.5L251.0 405.7L246.6 404.0L240.1 402.1L234.0 399.1L231.1 395.0L232.4 390.8L236.9 387.3L242.2 384.7L246.2 382.3L248.4 379.4L249.7 375.6L251.8 371.7L255.5 368.8L260.6 367.6L266.1 367.9L271.3 368.8L276.0 369.3L280.6 369.1L285.6 368.6L290.8 368.7L295.5 370.2L299.3 372.6L302.4 375.5L305.7 378.2L309.6 380.7L313.8 383.5L317.0 386.9L317.8 390.9Z"/>
<path filter="url(#fe2)" fill="#b41c30" fill-opacity="0.92" d="M336.2 350.0L332.5 352.5L328.7 354.6L325.9 356.6L324.3 358.8L323.0 361.3L320.7 363.7L317.1 365.8L312.1 367.3L306.4 368.1L300.5 368.6L294.7 368.8L289.0 368.9L283.3 368.6L277.9 367.9L272.8 366.9L267.9 365.8L262.8 364.7L257.5 363.6L252.1 362.2L247.8 360.3L245.5 357.8L245.6 355.0L247.6 352.4L249.7 350.0L250.4 347.8L249.3 345.4L247.5 342.6L246.9 339.5L249.0 336.8L254.4 335.0L261.6 334.6L268.8 334.9L274.7 335.1L279.3 334.3L283.7 332.5L289.0 330.2L295.5 328.7L302.2 328.7L307.7 330.5L311.2 333.4L313.3 336.3L315.5 338.5L319.5 339.9L325.2 341.0L331.5 342.4L336.3 344.5L337.9 347.2Z"/>
<path filter="url(#fe2)" fill="#aa1c38" fill-opacity="0.90" d="M270.0 333.0L269.3 334.2L268.6 335.3L267.9 336.4L267.4 337.5L266.7 338.6L266.0 339.7L264.9 340.8L263.6 341.6L262.0 342.1L260.3 342.2L258.6 342.0L257.0 341.6L255.6 341.1L254.3 340.5L253.1 340.1L251.8 339.7L250.5 339.3L249.2 338.9L247.9 338.2L246.8 337.4L246.0 336.4L245.5 335.3L245.2 334.2L245.1 333.0L245.0 331.8L245.0 330.6L245.0 329.3L245.2 327.9L245.7 326.5L246.6 325.2L248.0 324.2L249.8 323.7L251.8 323.7L253.8 324.1L255.6 324.9L257.0 325.7L258.2 326.4L259.2 326.9L260.3 327.1L261.6 327.0L263.3 326.9L265.1 326.9L267.0 327.2L268.7 328.0L269.8 329.0L270.4 330.3L270.4 331.7Z"/>
<path filter="url(#fe2)" fill="#b02040" fill-opacity="0.90" d="M336.1 339.0L336.5 340.6L336.0 342.2L334.7 343.4L332.9 344.2L331.1 344.7L329.6 345.0L328.6 345.6L327.8 346.5L327.0 347.8L326.0 349.0L324.6 350.0L323.0 350.3L321.4 349.9L320.1 349.0L319.0 347.8L318.1 346.7L317.2 345.9L316.1 345.3L314.7 344.8L313.4 344.0L312.3 343.0L311.7 341.8L311.6 340.4L311.9 339.0L312.5 337.7L313.0 336.6L313.4 335.4L313.7 334.1L314.0 332.8L314.6 331.4L315.6 330.2L316.9 329.4L318.4 329.0L320.0 328.8L321.5 328.8L323.0 329.0L324.4 329.2L325.8 329.5L327.1 330.1L328.1 330.9L329.0 331.9L329.6 333.0L330.2 334.0L331.0 334.8L332.1 335.6L333.5 336.4L335.0 337.6Z"/>
<path filter="url(#fe2)" fill="#c84a12" fill-opacity="0.95" d="M230.6 374.0L229.1 375.7L227.3 377.3L225.9 378.7L225.2 380.3L225.3 382.4L225.3 385.0L224.5 387.7L222.2 389.8L218.6 390.8L214.4 390.5L210.3 389.2L207.0 387.7L204.2 386.6L201.5 386.3L198.3 386.5L194.8 386.7L191.2 386.3L188.3 385.2L186.1 383.6L184.7 381.7L183.7 379.8L182.8 377.9L182.2 376.0L182.1 374.0L182.8 372.1L184.0 370.3L185.5 368.6L186.5 366.9L187.3 364.9L188.1 362.6L189.7 360.4L192.5 358.9L196.2 358.4L200.4 359.1L204.0 360.5L207.0 361.8L209.5 362.5L212.3 362.2L215.7 361.3L219.9 360.6L224.1 360.6L227.7 361.6L230.1 363.3L231.5 365.5L232.0 367.8L232.1 370.0L231.6 372.1Z"/>
<path filter="url(#fe2)" fill="#b83a20" fill-opacity="0.90" d="M236.5 355.6L239.1 356.6L241.2 358.0L241.7 359.5L240.3 361.0L237.8 362.1L234.9 362.9L232.4 363.6L230.1 364.3L228.0 365.1L225.7 365.7L223.3 366.2L220.8 366.6L218.3 366.9L215.6 367.2L212.8 367.5L209.9 367.4L207.5 366.8L206.0 365.6L205.4 364.1L205.0 362.8L204.1 361.8L202.3 361.0L199.8 360.1L197.7 358.9L197.3 357.5L198.8 356.0L201.7 354.9L204.8 354.0L206.7 353.2L207.3 352.0L207.2 350.1L207.6 348.0L209.5 346.4L212.7 345.9L216.3 346.7L219.2 348.2L221.3 349.5L223.1 349.8L225.6 348.9L229.4 347.3L233.8 346.2L237.4 346.3L239.1 347.7L238.6 349.8L236.6 352.0L234.9 353.7L234.8 354.7Z"/>
<path filter="url(#fe2)" fill="#c84010" fill-opacity="0.95" d="M332.7 420.0L332.2 420.9L331.5 421.8L330.8 422.5L330.5 423.4L330.2 424.3L329.8 425.3L328.9 426.0L327.6 426.2L326.3 426.1L325.1 426.0L324.0 426.2L323.0 426.8L321.7 427.5L320.3 427.8L319.0 427.5L318.2 426.4L317.9 425.1L317.8 424.0L317.3 423.4L316.0 423.1L314.3 422.8L312.6 422.2L312.0 421.1L312.6 420.0L314.2 419.1L315.8 418.5L316.7 418.0L316.7 417.2L316.1 415.9L315.8 414.4L316.2 413.2L317.6 412.7L319.3 413.0L320.9 413.8L322.1 414.4L323.0 414.4L324.1 413.8L325.4 413.0L327.0 412.6L328.3 412.9L329.0 413.9L329.3 415.1L329.4 416.2L329.8 416.9L330.7 417.5L331.7 418.2L332.6 419.0Z"/>
<ellipse filter="url(#fe3)" cx="329" cy="386" rx="5" ry="12" fill="#9b2ee6" fill-opacity="0.6"/>
<path filter="url(#fe3)" fill="#9b2ee6" fill-rule="evenodd" fill-opacity="0.31" d="M340.7 398.0L334.0 403.1L326.5 407.0L321.3 410.3L319.4 414.4L319.6 419.9L319.2 426.3L316.1 432.0L309.7 435.1L301.4 435.2L293.1 433.3L286.1 431.4L280.0 431.1L273.7 432.8L266.1 435.4L257.7 436.9L249.6 436.0L243.3 432.6L239.1 427.5L236.4 422.2L233.9 417.2L230.9 412.7L227.5 408.2L224.8 403.2L224.0 398.0L225.1 392.8L227.6 387.9L230.7 383.2L233.9 378.8L237.6 374.5L242.2 370.7L248.1 368.0L254.8 366.4L261.4 365.6L267.5 364.4L273.5 362.3L280.0 359.4L287.5 356.9L295.5 356.1L302.8 358.2L308.3 362.6L311.8 368.1L314.8 372.9L319.2 376.3L325.9 378.9L333.9 381.9L340.7 386.3L343.4 392.0ZM330.7 393.2L328.6 388.6L323.1 385.1L316.7 382.7L311.3 380.6L307.9 377.9L305.5 374.0L302.6 369.7L298.3 366.1L292.4 364.5L286.0 365.1L280.0 367.2L274.8 369.5L270.0 371.1L265.1 372.0L259.8 372.7L254.5 374.0L249.8 376.2L246.0 379.2L243.1 382.6L240.5 386.2L238.1 389.9L236.1 393.8L235.2 398.0L235.9 402.2L238.0 406.1L240.7 409.8L243.1 413.4L245.1 417.3L247.3 421.6L250.6 425.7L255.7 428.4L262.2 429.1L268.9 427.9L274.9 425.9L280.0 424.5L284.9 424.7L290.5 426.3L297.1 427.8L303.7 427.7L308.9 425.2L311.4 420.7L311.7 415.5L311.5 411.1L313.0 407.9L317.2 405.2L323.2 402.1L328.6 398.0Z"/>
<path filter="url(#fe3)" fill="#9b2ee6" fill-rule="evenodd" fill-opacity="0.22" d="M337.4 345.0L333.1 347.3L328.8 349.3L326.2 351.2L325.9 353.6L326.4 356.5L325.6 359.7L321.9 362.2L315.6 363.3L308.0 362.9L301.0 361.9L295.2 361.3L290.0 361.9L284.1 363.5L277.0 365.1L269.5 365.5L263.4 364.0L260.2 361.0L259.5 357.6L259.5 354.7L257.8 352.7L253.1 351.3L246.4 349.8L240.2 347.7L237.3 345.0L238.7 342.2L243.3 339.8L248.8 338.0L253.2 336.2L256.0 334.2L258.0 331.8L260.9 329.4L265.5 327.5L271.5 326.6L278.1 326.6L284.3 327.0L290.0 327.3L295.7 327.2L301.7 327.0L307.8 327.2L313.5 328.2L318.2 329.8L322.1 331.7L326.0 333.6L330.5 335.4L335.1 337.3L338.6 339.6L339.6 342.3ZM329.7 342.8L328.9 340.7L326.1 338.8L322.4 337.3L318.8 335.9L315.7 334.4L312.5 332.9L308.8 331.6L304.3 330.8L299.3 330.6L294.6 330.7L290.0 330.8L285.4 330.6L280.5 330.3L275.2 330.3L270.4 331.0L266.7 332.5L264.4 334.4L262.8 336.4L260.6 338.0L257.0 339.4L252.6 340.9L249.0 342.8L247.9 345.0L250.2 347.2L255.1 348.9L260.5 350.1L264.2 351.1L265.6 352.7L265.6 355.1L266.2 357.8L268.7 360.2L273.6 361.4L279.6 361.1L285.3 359.8L290.0 358.5L294.2 358.1L298.8 358.5L304.4 359.3L310.4 359.6L315.5 358.8L318.5 356.8L319.1 354.2L318.7 351.8L319.0 350.0L321.0 348.4L324.5 346.9L327.9 345.0Z"/>
<path filter="url(#fe3)" fill="#9b2ee6" fill-rule="evenodd" fill-opacity="0.44" d="M233.5 373.0L231.7 375.3L229.8 377.4L228.3 379.4L227.2 381.5L226.2 383.7L224.7 385.9L222.4 387.8L219.5 389.2L216.2 390.1L212.8 390.6L209.4 390.8L206.0 390.9L202.6 390.6L199.4 390.0L196.4 389.1L193.4 388.1L190.5 387.0L187.4 385.9L184.4 384.5L182.0 382.6L180.6 380.3L180.5 377.7L181.3 375.3L182.2 373.0L182.6 370.9L182.2 368.6L181.6 366.0L181.6 363.2L183.0 360.8L186.0 359.1L189.9 358.5L193.9 358.4L197.2 358.4L200.1 357.7L202.8 356.2L206.0 354.4L209.8 353.3L213.6 353.4L216.8 354.9L219.1 357.3L220.6 359.8L222.2 361.8L224.5 363.2L227.6 364.4L230.9 365.9L233.4 367.9L234.3 370.4ZM228.6 370.9L227.9 368.9L225.9 367.3L223.3 366.1L220.8 365.1L219.0 364.0L217.7 362.4L216.5 360.5L214.7 358.5L212.1 357.3L209.0 357.2L206.0 358.1L203.4 359.5L201.2 360.7L199.0 361.3L196.3 361.3L193.1 361.4L190.0 361.9L187.6 363.2L186.5 365.2L186.5 367.4L187.0 369.5L187.3 371.3L187.0 373.0L186.2 374.8L185.6 376.8L185.7 378.8L186.8 380.7L188.8 382.2L191.1 383.3L193.6 384.2L195.9 385.1L198.3 385.9L200.7 386.6L203.3 387.1L206.0 387.3L208.7 387.3L211.4 387.1L214.2 386.7L216.8 386.0L219.1 384.9L220.9 383.3L222.1 381.6L223.0 379.8L223.8 378.1L225.0 376.5L226.6 374.9L228.0 373.0Z"/>
<ellipse filter="url(#fe3)" cx="209.5" cy="415" rx="1.8" ry="5.5" fill="#f4e010"/>
<ellipse filter="url(#fe3)" cx="216" cy="383" rx="2.5" ry="3" fill="#f4e010"/>
<path filter="url(#fe2)" fill="#c8401a" fill-opacity="0.95" d="M290.4 522.0L285.1 524.6L281.2 526.7L279.6 528.9L280.2 531.8L281.4 535.6L281.6 539.8L279.5 543.5L274.9 545.8L268.9 546.4L262.5 545.5L256.8 544.0L252.0 542.9L247.4 542.9L242.3 543.8L236.1 545.0L229.4 545.5L223.0 544.6L218.4 542.2L215.9 538.6L215.5 534.6L216.1 530.9L216.5 527.7L216.0 524.8L214.7 522.0L213.4 519.0L213.3 515.8L215.0 512.8L218.5 510.4L222.8 508.6L227.1 507.1L230.7 505.4L233.9 503.1L237.1 500.4L241.1 497.5L246.2 495.5L252.0 494.8L257.7 495.8L262.7 498.0L266.7 500.7L270.4 502.9L274.6 504.4L279.9 505.3L286.2 506.3L292.2 508.1L296.5 510.9L297.6 514.7L295.2 518.6Z"/>
<path filter="url(#fe2)" fill="#e07a10" fill-opacity="0.85" d="M275.2 520.0L276.2 522.0L276.8 524.1L276.8 526.4L276.1 528.6L274.4 530.7L271.8 532.5L268.6 533.8L264.8 534.6L260.8 534.8L256.9 534.6L253.3 534.2L250.0 533.8L246.8 533.7L243.4 534.0L239.5 534.5L235.0 534.8L230.5 534.6L226.5 533.4L224.0 531.4L223.3 528.8L224.2 526.1L226.0 523.7L227.6 521.7L228.0 520.0L227.0 518.3L225.0 516.2L222.9 513.6L222.0 510.7L223.0 508.1L226.0 506.3L230.6 505.5L235.6 505.8L240.2 506.5L244.0 507.3L247.1 507.4L250.0 506.8L253.3 505.6L257.3 504.4L261.8 503.7L266.2 503.9L269.9 505.2L272.3 507.2L273.5 509.7L273.8 512.1L273.7 514.4L273.8 516.3L274.4 518.2Z"/>
<path filter="url(#fe2)" fill="#b42020" fill-opacity="0.95" d="M294.5 524.0L294.1 525.5L293.1 526.7L292.1 527.8L291.2 528.8L290.7 529.9L290.1 531.1L289.4 532.3L288.3 533.1L287.0 533.6L285.6 533.6L284.3 533.5L283.0 533.3L281.8 533.2L280.6 533.0L279.4 532.7L278.2 532.3L277.0 531.8L275.8 531.2L274.4 530.6L273.2 529.6L272.4 528.4L272.2 526.9L272.7 525.4L273.6 524.0L274.5 522.9L275.1 521.9L275.0 520.7L274.7 519.2L274.6 517.5L275.1 516.1L276.3 515.2L277.8 515.1L279.4 515.4L280.7 515.6L281.8 515.2L283.0 514.2L284.4 513.1L286.1 512.5L287.6 512.8L288.6 514.2L289.0 516.2L289.0 518.0L289.1 519.3L289.8 520.1L291.1 520.6L292.7 521.4L294.0 522.6Z"/>
<path filter="url(#fe2)" fill="#b42828" fill-opacity="0.95" d="M278.9 553.0L281.6 554.4L283.3 556.1L283.0 557.7L280.4 559.0L276.4 560.0L272.3 560.7L268.9 561.5L266.1 562.6L263.1 563.9L259.3 565.0L254.7 565.3L250.0 564.6L246.1 563.2L243.3 561.7L240.7 560.7L237.4 560.5L232.5 560.8L226.5 561.1L220.8 560.7L217.0 559.6L215.8 557.9L216.7 556.1L218.3 554.4L219.3 553.0L219.2 551.6L218.7 550.1L219.1 548.6L221.2 547.3L224.8 546.4L229.1 545.8L233.1 545.4L236.3 544.8L239.1 543.9L242.0 542.8L245.7 541.7L250.0 541.1L254.6 541.0L259.1 541.4L263.3 542.0L267.2 542.8L270.8 543.7L273.8 544.8L275.7 546.2L276.2 547.8L275.9 549.3L275.7 550.6L276.7 551.8Z"/>
<path filter="url(#fe2)" fill="#9a30d0" fill-opacity="0.90" d="M308.3 552.0L309.5 553.5L309.5 555.0L308.4 556.3L306.8 557.3L305.2 558.2L304.0 559.1L302.9 560.3L301.8 561.6L300.3 562.8L298.3 563.5L296.1 563.6L294.0 563.2L292.0 562.7L290.2 562.1L288.6 561.4L287.1 560.5L286.1 559.4L285.6 558.0L285.6 556.6L285.5 555.5L284.9 554.7L283.6 554.0L281.6 553.2L279.7 552.0L278.5 550.5L278.5 549.0L279.6 547.7L281.2 546.7L282.8 545.8L284.0 544.9L285.1 543.7L286.2 542.4L287.7 541.2L289.7 540.5L291.9 540.4L294.0 540.8L296.0 541.3L297.8 541.9L299.4 542.6L300.9 543.5L301.9 544.6L302.4 546.0L302.4 547.4L302.5 548.5L303.1 549.3L304.4 550.0L306.4 550.8Z"/>
<path filter="url(#fe2)" fill="#9a30d8" fill-opacity="0.80" d="M273.6 505.0L273.9 506.2L274.4 507.5L274.7 509.0L274.5 510.5L273.6 511.5L272.2 512.0L270.7 511.8L269.3 511.5L268.4 511.5L267.7 512.2L267.0 513.3L266.0 514.4L264.8 515.0L263.7 514.5L262.9 513.3L262.5 511.8L262.2 510.6L261.6 509.9L260.5 509.7L259.0 509.5L257.5 508.9L256.5 507.8L256.4 506.4L256.9 505.0L257.8 503.8L258.6 502.8L259.1 501.8L259.3 500.6L259.4 499.3L259.8 498.0L260.6 497.0L261.6 496.5L262.9 496.5L264.0 496.7L265.1 497.0L266.0 497.2L266.9 497.4L267.8 497.4L268.8 497.5L269.8 497.7L270.8 497.9L271.9 498.4L272.8 499.1L273.4 500.2L273.7 501.4L273.7 502.7L273.6 503.9Z"/>
<path filter="url(#fe2)" fill="#f0a010" fill-opacity="0.95" d="M310.4 498.0L311.8 500.5L311.6 502.7L309.9 504.5L306.9 505.6L303.2 506.1L299.3 506.2L295.5 506.0L292.1 505.8L288.9 505.7L285.8 505.9L282.6 506.0L279.0 506.0L275.3 505.5L271.9 504.3L269.2 502.5L267.5 500.3L266.5 498.3L265.6 496.5L263.9 495.1L261.1 493.7L257.5 492.1L254.1 490.0L251.9 487.7L251.6 485.5L253.1 483.8L255.6 482.4L258.1 481.3L260.1 480.0L261.8 478.6L263.8 477.0L266.5 476.0L270.1 475.7L274.2 476.4L278.1 477.7L281.5 479.0L284.5 480.1L287.6 480.6L291.0 481.0L294.6 481.6L298.0 482.8L300.4 484.5L301.7 486.6L302.2 488.5L302.6 490.3L303.6 492.0L305.6 493.7L308.1 495.7Z"/>
<path filter="url(#fe2)" fill="#f6cc22" fill-opacity="0.92" d="M338.4 505.0L337.9 508.3L337.3 511.2L337.3 513.8L338.2 516.7L339.6 520.1L340.5 523.8L340.4 527.3L339.1 529.8L336.9 531.3L334.4 531.9L332.1 532.3L330.0 533.0L328.0 533.9L325.9 534.7L323.5 534.8L321.1 534.1L318.7 532.7L316.5 530.9L314.5 529.0L312.6 526.8L310.8 524.5L309.4 521.8L308.4 519.0L307.5 516.3L306.6 513.6L305.4 510.8L304.0 507.7L302.9 504.3L302.5 500.9L303.3 498.1L305.1 496.0L307.3 494.8L309.2 493.6L310.7 491.9L311.8 489.4L313.1 486.5L315.0 484.3L317.6 483.9L320.4 485.5L322.9 488.6L324.9 492.0L326.6 494.4L328.5 495.5L330.9 496.0L333.8 496.8L336.4 498.6L338.1 501.5Z"/>
<path filter="url(#fe2)" fill="#f4b418" fill-opacity="0.90" d="M317.0 496.1L316.1 497.1L315.3 498.0L314.8 499.1L314.5 500.3L313.9 501.5L312.9 502.4L311.4 502.9L309.6 502.9L307.9 502.6L306.4 502.3L305.0 502.2L303.5 502.3L302.0 502.4L300.3 502.3L298.6 501.9L297.2 501.1L296.0 500.2L295.0 499.0L294.4 497.8L294.1 496.6L294.2 495.4L294.3 494.3L294.5 493.2L294.3 492.1L293.9 490.9L293.4 489.5L293.3 488.0L293.9 486.7L295.3 485.9L297.4 485.8L299.5 486.3L301.2 486.8L302.5 486.8L303.7 486.3L305.0 485.3L306.7 484.4L308.6 484.0L310.4 484.6L311.6 485.8L312.3 487.4L312.6 488.8L313.2 489.8L314.2 490.7L315.6 491.5L317.0 492.5L317.7 493.7L317.7 495.0Z"/>
<path filter="url(#fe2)" fill="#a040c0" fill-opacity="0.50" d="M303.7 508.0L303.0 508.9L302.6 509.8L302.5 510.8L302.4 511.9L302.1 513.0L301.3 513.9L300.2 514.4L298.9 514.7L297.6 514.9L296.4 515.2L295.3 515.7L294.0 516.2L292.6 516.7L291.1 516.8L289.7 516.3L288.6 515.5L287.9 514.4L287.4 513.3L286.9 512.4L286.3 511.6L285.5 510.8L284.8 510.0L284.3 509.0L284.0 508.0L283.9 506.9L284.0 505.9L284.4 504.8L284.9 503.8L285.7 502.9L286.6 502.1L287.8 501.5L289.0 501.0L290.2 500.6L291.4 500.3L292.7 500.1L294.0 500.1L295.3 500.3L296.4 500.7L297.5 501.3L298.5 501.8L299.6 502.1L301.0 502.4L302.4 502.8L303.8 503.5L304.7 504.5L304.9 505.7L304.5 506.9Z"/>
<path filter="url(#fe2)" fill="#9a30e0" fill-opacity="0.90" d="M283.4 476.0L283.8 476.9L283.6 477.7L282.9 478.5L281.9 479.0L280.8 479.3L279.9 479.7L279.3 480.2L278.8 480.9L278.2 481.7L277.3 482.5L276.2 482.9L275.0 482.9L273.9 482.4L272.9 481.7L272.2 481.0L271.6 480.4L270.8 480.1L269.9 479.8L268.8 479.6L267.8 479.1L267.1 478.5L266.7 477.7L266.7 476.8L266.9 476.0L267.2 475.2L267.4 474.5L267.5 473.7L267.7 472.8L268.1 472.1L268.9 471.5L270.0 471.1L271.2 471.0L272.3 471.1L273.3 471.2L274.1 471.0L275.0 470.6L276.1 470.0L277.3 469.6L278.6 469.5L279.8 469.8L280.5 470.6L280.9 471.6L280.9 472.6L281.0 473.4L281.2 474.1L281.8 474.6L282.6 475.2Z"/>
<path filter="url(#fe2)" fill="#9a28e8" fill-opacity="0.90" d="M247.2 485.0L249.0 486.0L250.1 487.3L249.9 488.5L247.8 489.3L244.6 489.5L241.2 489.3L238.6 489.0L237.2 489.2L236.4 490.0L235.6 491.2L234.1 492.4L232.0 493.0L229.8 492.8L227.9 492.1L226.5 491.2L225.0 490.7L223.1 490.4L220.6 490.3L218.1 490.0L216.3 489.2L215.9 488.1L216.9 486.9L218.6 485.8L220.2 485.0L220.8 484.3L220.5 483.6L219.8 482.6L219.3 481.6L219.5 480.5L220.5 479.6L221.9 478.9L223.6 478.2L225.5 477.7L227.6 477.4L229.8 477.3L232.0 477.6L233.9 478.2L235.5 478.9L237.0 479.4L238.5 479.7L240.4 479.9L242.3 480.2L243.9 480.7L244.8 481.5L245.1 482.5L245.2 483.3L245.9 484.1Z"/>
<path filter="url(#fe2)" fill="#a02ee8" fill-opacity="0.90" d="M269.6 572.0L269.9 572.7L270.0 573.5L270.1 574.3L269.9 575.1L269.4 575.9L268.7 576.5L267.8 576.9L266.8 577.2L265.8 577.3L264.8 577.3L263.9 577.3L263.0 577.3L262.1 577.2L261.3 577.1L260.4 576.9L259.7 576.5L259.1 576.0L258.6 575.5L258.2 574.9L257.9 574.3L257.5 573.8L257.1 573.2L256.6 572.7L256.0 572.0L255.5 571.2L255.2 570.4L255.1 569.4L255.4 568.6L256.1 567.8L257.1 567.3L258.2 567.1L259.4 567.1L260.4 567.2L261.4 567.3L262.2 567.4L263.0 567.4L263.8 567.3L264.6 567.2L265.6 567.1L266.5 567.3L267.3 567.6L268.0 568.1L268.5 568.7L268.8 569.4L269.0 570.0L269.2 570.7L269.4 571.3Z"/>
<path filter="url(#fe2)" fill="#9a30d0" fill-opacity="0.90" d="M208.5 515.0L208.4 515.8L208.0 516.6L207.6 517.3L207.1 517.9L206.6 518.5L206.1 519.1L205.6 519.6L204.9 520.1L204.2 520.4L203.5 520.7L202.8 521.0L202.0 521.2L201.2 521.2L200.4 521.0L199.7 520.6L199.0 520.1L198.5 519.6L197.9 519.1L197.3 518.6L196.7 518.0L196.3 517.4L196.0 516.6L196.0 515.8L196.2 515.0L196.4 514.3L196.5 513.5L196.5 512.7L196.5 511.8L196.8 511.0L197.3 510.3L198.2 510.0L199.1 510.0L200.0 510.1L200.7 510.1L201.3 509.7L202.0 509.2L202.8 508.6L203.8 508.4L204.7 508.6L205.3 509.3L205.7 510.2L205.9 511.1L206.1 511.8L206.6 512.4L207.2 512.9L207.8 513.4L208.3 514.2Z"/>
<path filter="url(#fe2)" fill="#b02a60" fill-opacity="0.90" d="M220.5 538.0L221.3 538.8L221.9 539.8L221.6 540.7L220.5 541.3L218.9 541.5L217.3 541.6L216.3 541.7L215.7 542.3L215.3 543.2L214.6 544.4L213.4 545.2L212.0 545.3L210.7 544.8L209.6 543.9L208.9 543.0L208.2 542.4L207.3 542.0L206.3 541.8L205.1 541.5L204.1 541.0L203.3 540.4L202.8 539.6L202.4 538.8L202.2 538.0L202.2 537.1L202.6 536.3L203.6 535.7L204.8 535.2L206.0 534.9L206.9 534.6L207.3 533.9L207.6 532.9L208.2 531.8L209.2 531.0L210.6 530.8L212.0 531.3L213.2 532.2L214.0 533.0L214.8 533.5L215.9 533.5L217.3 533.4L218.8 533.4L220.0 533.9L220.5 534.7L220.3 535.7L220.0 536.6L220.0 537.3Z"/>
<path filter="url(#fe3)" fill="#9b2ee6" fill-rule="evenodd" fill-opacity="0.3" d="M290.4 522.0L285.1 524.5L281.2 526.5L279.6 528.6L280.2 531.4L281.4 535.0L281.6 539.0L279.5 542.6L274.9 544.9L268.9 545.4L262.5 544.5L256.8 543.1L252.0 542.0L247.4 542.0L242.3 542.9L236.1 544.0L229.4 544.5L223.0 543.7L218.4 541.3L215.9 537.9L215.5 534.1L216.1 530.6L216.5 527.5L216.0 524.7L214.7 522.0L213.4 519.1L213.3 516.0L215.0 513.2L218.5 510.9L222.8 509.1L227.1 507.7L230.7 506.1L233.9 503.9L237.1 501.3L241.1 498.6L246.2 496.6L252.0 496.0L257.7 496.9L262.7 499.0L266.7 501.5L270.4 503.7L274.6 505.1L279.9 506.0L286.2 506.9L292.2 508.6L296.5 511.4L297.6 515.0L295.2 518.7ZM286.6 519.4L288.4 516.4L287.6 513.5L284.2 511.3L279.3 509.9L274.3 509.2L270.0 508.5L266.7 507.4L263.8 505.6L260.6 503.6L256.6 501.9L252.0 501.2L247.3 501.7L243.3 503.2L240.0 505.4L237.5 507.5L235.0 509.3L232.1 510.5L228.6 511.7L225.2 513.1L222.4 515.0L221.1 517.2L221.1 519.7L222.1 522.0L223.2 524.2L223.6 526.4L223.3 528.8L222.8 531.7L223.1 534.7L225.1 537.5L228.8 539.4L233.9 540.0L239.3 539.6L244.2 538.7L248.3 538.0L252.0 538.0L255.9 538.9L260.4 540.0L265.5 540.7L270.4 540.3L274.0 538.5L275.7 535.6L275.5 532.4L274.6 529.5L274.1 527.3L275.3 525.6L278.5 524.0L282.7 522.0Z"/>
<path filter="url(#fe3)" fill="#9b2ee6" fill-rule="evenodd" fill-opacity="0.3" d="M310.6 491.0L311.4 492.7L311.8 494.6L311.6 496.5L310.5 498.4L308.7 500.2L306.0 501.7L302.6 502.9L298.6 503.6L294.5 504.0L290.4 503.9L286.6 503.7L283.0 503.5L279.5 503.4L275.8 503.5L271.7 503.8L267.2 503.8L262.6 503.4L258.7 502.4L256.0 500.7L254.9 498.6L255.4 496.3L256.6 494.3L257.8 492.5L258.2 491.0L257.3 489.4L255.7 487.6L254.2 485.4L253.8 483.1L255.1 481.0L258.2 479.4L262.7 478.6L267.7 478.6L272.3 479.0L276.3 479.4L279.7 479.4L283.0 479.0L286.6 478.2L290.8 477.4L295.4 477.0L299.9 477.3L303.7 478.4L306.4 480.1L307.9 482.1L308.6 484.1L308.9 486.0L309.2 487.7L309.8 489.4ZM304.5 489.7L304.0 488.4L303.7 487.0L303.5 485.5L302.9 483.9L301.7 482.3L299.6 480.9L296.5 480.1L292.9 479.8L289.3 480.1L285.9 480.7L283.0 481.4L280.4 481.7L277.7 481.7L274.5 481.4L270.7 481.1L266.8 481.1L263.2 481.7L260.7 483.0L259.6 484.7L260.0 486.5L261.2 488.3L262.5 489.7L263.1 491.0L262.9 492.2L261.9 493.6L260.9 495.3L260.5 497.1L261.4 498.7L263.5 500.1L266.7 500.9L270.3 501.2L273.9 501.2L277.2 501.0L280.2 500.9L283.0 501.0L285.9 501.2L288.9 501.3L292.2 501.4L295.5 501.1L298.6 500.5L301.4 499.6L303.5 498.3L305.0 496.9L305.8 495.4L306.0 493.9L305.7 492.4L305.1 491.0Z"/>
<text x="321.0" y="443.5" font-size="8.3" fill="#111" stroke="#111" stroke-width="0.18">Latent time</text>
<rect x="325.8" y="450.5" width="4.0" height="36.8" fill="url(#lt)" stroke="#111" stroke-width="0.5"/>
<text x="331.5" y="453.5" font-size="4" fill="#111" stroke="#111" stroke-width="0.12">1</text>
<text x="331.5" y="488.0" font-size="4" fill="#111" stroke="#111" stroke-width="0.12">0</text>
<g clip-path="url(#c1)"><ellipse filter="url(#fs1)" cx="440" cy="385" rx="34" ry="45" transform="rotate(0 440 385)" fill="url(#g0)" fill-opacity="0.45" opacity="0.5"/></g>
<g clip-path="url(#c1)"><ellipse filter="url(#fs1)" cx="437" cy="391" rx="26" ry="15" transform="rotate(-58 437 391)" fill="url(#g1)" fill-opacity="1.0" opacity="0.9"/></g>
<g clip-path="url(#c1)"><ellipse filter="url(#fs1)" cx="417" cy="419" rx="14" ry="8" transform="rotate(-40 417 419)" fill="url(#g1)" fill-opacity="1.0" opacity="0.85"/></g>
<path d="M408.4 426.6C411 417 418 406 426 400S436 391 439.4 392.5C442 400 438 410 430 418S416 426 408.4 426.6Z M408.4 426.6L439 393" fill="none" stroke="#8a1a9a" stroke-width="1.1"/>
<line x1="409.0" y1="426.8" x2="505.0" y2="426.8" stroke="#e0b0c0" stroke-width="0.5"/>
<rect x="403.2" y="325.9" width="109.8" height="106.1" fill="none" stroke="#222" stroke-width="1.0"/>
<text x="455.8" y="322.1" font-size="9.2" fill="#111" text-anchor="middle" font-style="italic" stroke="#111" stroke-width="0.18">CCND2</text>
<line x1="401.2" y1="341.0" x2="403.2" y2="341.0" stroke="#333" stroke-width="0.6"/>
<text x="400.6" y="343.0" font-size="6.3" fill="#333" text-anchor="end" stroke="#333" stroke-width="0.12">1</text>
<line x1="401.2" y1="426.8" x2="403.2" y2="426.8" stroke="#333" stroke-width="0.6"/>
<text x="400.6" y="428.8" font-size="6.3" fill="#333" text-anchor="end" stroke="#333" stroke-width="0.12">0</text>
<line x1="408.4" y1="432.0" x2="408.4" y2="434.0" stroke="#333" stroke-width="0.6"/>
<text x="408.4" y="440.0" font-size="6.3" fill="#333" text-anchor="middle" stroke="#333" stroke-width="0.12">0</text>
<line x1="465.8" y1="432.0" x2="465.8" y2="434.0" stroke="#333" stroke-width="0.6"/>
<text x="465.8" y="440.0" font-size="6.3" fill="#333" text-anchor="middle" stroke="#333" stroke-width="0.12">1</text>
<g clip-path="url(#c2)"><ellipse filter="url(#fs1)" cx="572" cy="368" rx="36" ry="32" transform="rotate(0 572 368)" fill="url(#g2)" fill-opacity="0.4" opacity="0.5"/></g>
<g clip-path="url(#c2)"><ellipse filter="url(#fs1)" cx="565" cy="370" rx="22" ry="20" transform="rotate(-20 565 370)" fill="url(#g3)" fill-opacity="1.0" opacity="0.85"/></g>
<g clip-path="url(#c2)"><ellipse filter="url(#fs1)" cx="546" cy="410" rx="11" ry="11" transform="rotate(-30 546 410)" fill="url(#g1)" fill-opacity="1.0" opacity="1"/></g>
<g clip-path="url(#c2)"><ellipse filter="url(#fs1)" cx="541" cy="420" rx="8" ry="9" transform="rotate(0 541 420)" fill="url(#g4)" fill-opacity="1.0" opacity="0.8"/></g>
<path d="M535.4 427C536 414 539 402 544.8 389.4S556 376 562.2 372S574 366.5 578.3 366.1C576 371 575 374 574.6 377S570 385 564.6 391.9S556 402 552.2 406.8S546 414 542.3 419.2S537 424 535.4 427Z" fill="none" stroke="#8a1a9a" stroke-width="1"/>
<path d="M535.4 427C536 414 539 402 544.8 389.4S556 376 562.2 372S574 366.5 578.3 366.1" fill="none" stroke="#8a1a9a" stroke-width="1.6"/>
<rect x="529.9" y="325.4" width="108.5" height="106.7" fill="none" stroke="#222" stroke-width="1.0"/>
<text x="584.0" y="322.4" font-size="9.2" fill="#111" text-anchor="middle" font-style="italic" stroke="#111" stroke-width="0.18">LRP1B</text>
<line x1="527.9" y1="334.3" x2="529.9" y2="334.3" stroke="#333" stroke-width="0.6"/>
<text x="527.3" y="336.3" font-size="6.3" fill="#333" text-anchor="end" stroke="#333" stroke-width="0.12">80</text>
<line x1="527.9" y1="380.2" x2="529.9" y2="380.2" stroke="#333" stroke-width="0.6"/>
<text x="527.3" y="382.2" font-size="6.3" fill="#333" text-anchor="end" stroke="#333" stroke-width="0.12">40</text>
<line x1="527.9" y1="427.4" x2="529.9" y2="427.4" stroke="#333" stroke-width="0.6"/>
<text x="527.3" y="429.4" font-size="6.3" fill="#333" text-anchor="end" stroke="#333" stroke-width="0.12">0</text>
<line x1="535.4" y1="432.1" x2="535.4" y2="434.1" stroke="#333" stroke-width="0.6"/>
<text x="535.4" y="440.1" font-size="6.3" fill="#333" text-anchor="middle" stroke="#333" stroke-width="0.12">0</text>
<line x1="573.3" y1="432.1" x2="573.3" y2="434.1" stroke="#333" stroke-width="0.6"/>
<text x="573.3" y="440.1" font-size="6.3" fill="#333" text-anchor="middle" stroke="#333" stroke-width="0.12">1</text>
<line x1="611.8" y1="432.1" x2="611.8" y2="434.1" stroke="#333" stroke-width="0.6"/>
<text x="611.8" y="440.1" font-size="6.3" fill="#333" text-anchor="middle" stroke="#333" stroke-width="0.12">2</text>
<g clip-path="url(#c3)"><ellipse filter="url(#fs1)" cx="432" cy="512" rx="50" ry="60" transform="rotate(0 432 512)" fill="url(#g5)" fill-opacity="0.35" opacity="0.45"/></g>
<g clip-path="url(#c3)"><ellipse filter="url(#fs1)" cx="420" cy="551" rx="18" ry="8" transform="rotate(-10 420 551)" fill="url(#g6)" fill-opacity="1.0" opacity="0.75"/></g>
<g clip-path="url(#c3)"><ellipse filter="url(#fs1)" cx="450" cy="555" rx="45" ry="5" transform="rotate(0 450 555)" fill="url(#g7)" fill-opacity="1.0" opacity="0.45"/></g>
<path d="M408.4 556.8C409 548 412 540 416.1 535.8S423 530.5 427.7 530S442 527 447.6 527.6C450 532 450.5 540 448.8 547.5S447 552 444.1 553.3S438 555.5 434.7 555.6Z M408.4 556.8L449.9 538" fill="none" stroke="#8a1a9a" stroke-width="1.1"/>
<rect x="403.2" y="455.9" width="108.6" height="106.0" fill="none" stroke="#222" stroke-width="1.0"/>
<text x="453.4" y="452.0" font-size="9.2" fill="#111" text-anchor="middle" font-style="italic" stroke="#111" stroke-width="0.18">B2M</text>
<line x1="401.2" y1="475.5" x2="403.2" y2="475.5" stroke="#333" stroke-width="0.6"/>
<text x="400.6" y="477.5" font-size="6.3" fill="#333" text-anchor="end" stroke="#333" stroke-width="0.12">30</text>
<line x1="401.2" y1="516.6" x2="403.2" y2="516.6" stroke="#333" stroke-width="0.6"/>
<text x="400.6" y="518.6" font-size="6.3" fill="#333" text-anchor="end" stroke="#333" stroke-width="0.12">15</text>
<line x1="401.2" y1="557.3" x2="403.2" y2="557.3" stroke="#333" stroke-width="0.6"/>
<text x="400.6" y="559.3" font-size="6.3" fill="#333" text-anchor="end" stroke="#333" stroke-width="0.12">0</text>
<line x1="408.6" y1="561.9" x2="408.6" y2="563.9" stroke="#333" stroke-width="0.6"/>
<text x="408.6" y="569.9" font-size="6.3" fill="#333" text-anchor="middle" stroke="#333" stroke-width="0.12">0.0</text>
<line x1="445.3" y1="561.9" x2="445.3" y2="563.9" stroke="#333" stroke-width="0.6"/>
<text x="445.3" y="569.9" font-size="6.3" fill="#333" text-anchor="middle" stroke="#333" stroke-width="0.12">0.2</text>
<line x1="480.8" y1="561.9" x2="480.8" y2="563.9" stroke="#333" stroke-width="0.6"/>
<text x="480.8" y="569.9" font-size="6.3" fill="#333" text-anchor="middle" stroke="#333" stroke-width="0.12">0.4</text>
<g clip-path="url(#c4)"><ellipse filter="url(#fs1)" cx="576" cy="505" rx="38" ry="32" transform="rotate(0 576 505)" fill="url(#g8)" fill-opacity="0.45" opacity="0.5"/></g>
<g clip-path="url(#c4)"><ellipse filter="url(#fs1)" cx="569" cy="508" rx="26" ry="19" transform="rotate(-35 569 508)" fill="url(#g1)" fill-opacity="1.0" opacity="0.9"/></g>
<g clip-path="url(#c4)"><ellipse filter="url(#fs1)" cx="538" cy="552" rx="6" ry="7" transform="rotate(0 538 552)" fill="url(#g9)" fill-opacity="1.0" opacity="1"/></g>
<path d="M534.9 556.7C535.5 548 537 538 539.8 531.8S544 522 547.3 519.4S554 512.5 557.2 510.7S566 506 569.6 505S578 502.5 582 502S590 501 594.4 500.8" fill="none" stroke="#8a1a9a" stroke-width="1.4"/>
<line x1="534.9" y1="556.7" x2="594.4" y2="510.7" stroke="#8a1a9a" stroke-width="0.8"/>
<rect x="529.9" y="455.4" width="107.5" height="106.7" fill="none" stroke="#222" stroke-width="1.0"/>
<text x="582.5" y="452.4" font-size="9.2" fill="#111" text-anchor="middle" font-style="italic" stroke="#111" stroke-width="0.18">COL6A3</text>
<line x1="527.9" y1="464.8" x2="529.9" y2="464.8" stroke="#333" stroke-width="0.6"/>
<text x="527.3" y="466.8" font-size="6.3" fill="#333" text-anchor="end" stroke="#333" stroke-width="0.12">8</text>
<line x1="527.9" y1="511.2" x2="529.9" y2="511.2" stroke="#333" stroke-width="0.6"/>
<text x="527.3" y="513.2" font-size="6.3" fill="#333" text-anchor="end" stroke="#333" stroke-width="0.12">4</text>
<line x1="527.9" y1="557.4" x2="529.9" y2="557.4" stroke="#333" stroke-width="0.6"/>
<text x="527.3" y="559.4" font-size="6.3" fill="#333" text-anchor="end" stroke="#333" stroke-width="0.12">0</text>
<line x1="534.4" y1="562.1" x2="534.4" y2="564.1" stroke="#333" stroke-width="0.6"/>
<text x="534.4" y="570.1" font-size="6.3" fill="#333" text-anchor="middle" stroke="#333" stroke-width="0.12">0</text>
<line x1="571.6" y1="562.1" x2="571.6" y2="564.1" stroke="#333" stroke-width="0.6"/>
<text x="571.6" y="570.1" font-size="6.3" fill="#333" text-anchor="middle" stroke="#333" stroke-width="0.12">2</text>
<line x1="608.6" y1="562.1" x2="608.6" y2="564.1" stroke="#333" stroke-width="0.6"/>
<text x="608.6" y="570.1" font-size="6.3" fill="#333" text-anchor="middle" stroke="#333" stroke-width="0.12">4</text>
<text x="390.8" y="380.0" font-size="10" fill="#f5b325" text-anchor="middle" transform="rotate(-90 390.8 380.0)" stroke="#f5b325" stroke-width="0.18">Primary</text>
<text x="390.8" y="512.4" font-size="10" fill="#2a8a4a" text-anchor="middle" transform="rotate(-90 390.8 512.4)" stroke="#2a8a4a" stroke-width="0.18">Recurrent</text>
<text x="384.5" y="445.0" font-size="10" fill="#111" text-anchor="middle" transform="rotate(-90 384.5 445.0)" stroke="#111" stroke-width="0.18">unspliced</text>
<text x="510.0" y="577.8" font-size="10" fill="#111" text-anchor="middle" stroke="#111" stroke-width="0.18">spliced</text>
<text x="7.5" y="600.5" font-size="13.5" fill="#000" font-weight="bold">f</text>
<text x="27.5" y="605.6" font-size="7.25" fill="#222" stroke="#222" stroke-width="0.12">Subtype</text>
<rect x="62.0" y="594.7" width="8.2" height="7.1" fill="#e0262b"/>
<text x="71.7" y="601.0" font-size="7" fill="#222" stroke="#222" stroke-width="0.12">MG1</text>
<rect x="62.0" y="603.3" width="8.2" height="7.6" fill="#2a6db5"/>
<text x="71.7" y="609.8" font-size="7" fill="#222" stroke="#222" stroke-width="0.12">MG2</text>
<rect x="93.0" y="594.7" width="8.5" height="7.1" fill="#3cb44a"/>
<text x="103.4" y="601.0" font-size="7" fill="#222" stroke="#222" stroke-width="0.12">MG3</text>
<rect x="93.0" y="603.3" width="8.5" height="7.6" fill="#f7931e"/>
<text x="103.4" y="609.8" font-size="7" fill="#222" stroke="#222" stroke-width="0.12">MG4</text>
<line x1="36.4" y1="614.7" x2="36.4" y2="776.4" stroke="#444" stroke-width="0.8"/>
<line x1="36.0" y1="776.4" x2="119.6" y2="776.4" stroke="#444" stroke-width="0.8"/>
<line x1="34.5" y1="768.2" x2="36.4" y2="768.2" stroke="#444" stroke-width="0.6"/>
<text x="33.8" y="770.3" font-size="6" fill="#444" text-anchor="end" stroke="#444" stroke-width="0.12">0</text>
<line x1="34.5" y1="731.6" x2="36.4" y2="731.6" stroke="#444" stroke-width="0.6"/>
<text x="33.8" y="733.7" font-size="6" fill="#444" text-anchor="end" stroke="#444" stroke-width="0.12">25</text>
<line x1="34.5" y1="695.0" x2="36.4" y2="695.0" stroke="#444" stroke-width="0.6"/>
<text x="33.8" y="697.1" font-size="6" fill="#444" text-anchor="end" stroke="#444" stroke-width="0.12">50</text>
<line x1="34.5" y1="658.3" x2="36.4" y2="658.3" stroke="#444" stroke-width="0.6"/>
<text x="33.8" y="660.4" font-size="6" fill="#444" text-anchor="end" stroke="#444" stroke-width="0.12">75</text>
<line x1="34.5" y1="621.7" x2="36.4" y2="621.7" stroke="#444" stroke-width="0.6"/>
<text x="33.8" y="623.8" font-size="6" fill="#444" text-anchor="end" stroke="#444" stroke-width="0.12">100</text>
<text x="13.8" y="695.0" font-size="7" fill="#222" text-anchor="middle" transform="rotate(-90 13.8 695.0)" stroke="#222" stroke-width="0.12">Cell proportion (%)</text>
<rect x="45.0" y="621.7" width="32.8" height="37.2" fill="#e0262b"/>
<text x="61.4" y="643.1" font-size="8" fill="#111" text-anchor="middle" stroke="#111" stroke-width="0.18">25.4</text>
<rect x="45.0" y="658.9" width="32.8" height="35.2" fill="#2a6db5"/>
<text x="61.4" y="679.3" font-size="8" fill="#111" text-anchor="middle" stroke="#111" stroke-width="0.18">24.0</text>
<rect x="45.0" y="694.1" width="32.8" height="66.8" fill="#3cb44a"/>
<text x="61.4" y="730.3" font-size="8" fill="#111" text-anchor="middle" stroke="#111" stroke-width="0.18">45.6</text>
<rect x="45.0" y="760.9" width="32.8" height="7.3" fill="#f7931e"/>
<text x="61.4" y="767.3" font-size="8" fill="#111" text-anchor="middle" stroke="#111" stroke-width="0.18">5.0</text>
<rect x="81.6" y="621.7" width="33.2" height="25.3" fill="#e0262b"/>
<text x="98.2" y="637.2" font-size="8" fill="#111" text-anchor="middle" stroke="#111" stroke-width="0.18">17.3</text>
<rect x="81.6" y="647.0" width="33.2" height="50.5" fill="#2a6db5"/>
<text x="98.2" y="675.1" font-size="8" fill="#111" text-anchor="middle" stroke="#111" stroke-width="0.18">34.5</text>
<rect x="81.6" y="697.6" width="33.2" height="59.8" fill="#3cb44a"/>
<text x="98.2" y="730.3" font-size="8" fill="#111" text-anchor="middle" stroke="#111" stroke-width="0.18">40.8</text>
<rect x="81.6" y="757.4" width="33.2" height="10.8" fill="#f7931e"/>
<text x="98.2" y="765.6" font-size="8" fill="#111" text-anchor="middle" stroke="#111" stroke-width="0.18">7.4</text>
<text x="58.5" y="784.5" font-size="8.3" fill="#222" text-anchor="middle" stroke="#222" stroke-width="0.18">Primary</text>
<text x="100.0" y="784.5" font-size="8.3" fill="#222" text-anchor="middle" stroke="#222" stroke-width="0.18">Recurrent</text>
<text x="146.5" y="600.7" font-size="13.5" fill="#000" font-weight="bold">g</text>
<text x="181.3" y="596.7" font-size="7" fill="#222" stroke="#222" stroke-width="0.12">Phase</text>
<rect x="212.6" y="587.5" width="13.2" height="11.3" fill="#e07b1f"/>
<text x="228.8" y="596.7" font-size="7" fill="#222" stroke="#222" stroke-width="0.12">G1</text>
<rect x="242.0" y="587.5" width="12.9" height="11.3" fill="#f3c528"/>
<text x="259.5" y="596.7" font-size="7" fill="#222" stroke="#222" stroke-width="0.12">S</text>
<rect x="266.5" y="587.5" width="12.3" height="11.3" fill="#2b8fd9"/>
<text x="282.5" y="596.7" font-size="7" fill="#222" stroke="#222" stroke-width="0.12">G2M</text>
<text x="239.6" y="610.8" font-size="7.5" fill="#222" text-anchor="middle" stroke="#222" stroke-width="0.12">Cell proportion (%)</text>
<text x="127.7" y="622.8" font-size="8.2" fill="#111" stroke="#111" stroke-width="0.18">Primary</text>
<line x1="164.5" y1="623.0" x2="164.5" y2="624.6" stroke="#444" stroke-width="0.6"/>
<text x="164.5" y="620.1" font-size="5.2" fill="#444" text-anchor="middle" stroke="#444" stroke-width="0.12">0</text>
<line x1="202.3" y1="623.0" x2="202.3" y2="624.6" stroke="#444" stroke-width="0.6"/>
<text x="202.3" y="620.1" font-size="5.2" fill="#444" text-anchor="middle" stroke="#444" stroke-width="0.12">25</text>
<line x1="240.1" y1="623.0" x2="240.1" y2="624.6" stroke="#444" stroke-width="0.6"/>
<text x="240.1" y="620.1" font-size="5.2" fill="#444" text-anchor="middle" stroke="#444" stroke-width="0.12">50</text>
<line x1="277.8" y1="623.0" x2="277.8" y2="624.6" stroke="#444" stroke-width="0.6"/>
<text x="277.8" y="620.1" font-size="5.2" fill="#444" text-anchor="middle" stroke="#444" stroke-width="0.12">75</text>
<line x1="315.6" y1="623.0" x2="315.6" y2="624.6" stroke="#444" stroke-width="0.6"/>
<text x="315.6" y="620.1" font-size="5.2" fill="#444" text-anchor="middle" stroke="#444" stroke-width="0.12">100</text>
<rect x="159.2" y="624.6" width="162.2" height="74.4" fill="none" stroke="#222" stroke-width="0.9"/>
<rect x="164.5" y="627.4" width="72.6" height="15.3" fill="#e07b1f"/>
<rect x="237.1" y="627.4" width="46.9" height="15.3" fill="#f3c528"/>
<rect x="284.0" y="627.4" width="33.7" height="15.3" fill="#2b8fd9"/>
<text x="144.5" y="637.3" font-size="6.4" fill="#222" text-anchor="middle" stroke="#222" stroke-width="0.12">MG1</text>
<rect x="164.5" y="645.2" width="81.8" height="15.9" fill="#e07b1f"/>
<rect x="246.3" y="645.2" width="41.7" height="15.9" fill="#f3c528"/>
<rect x="288.0" y="645.2" width="29.7" height="15.9" fill="#2b8fd9"/>
<text x="144.5" y="655.5" font-size="6.4" fill="#222" text-anchor="middle" stroke="#222" stroke-width="0.12">MG2</text>
<rect x="164.5" y="663.6" width="80.5" height="15.3" fill="#e07b1f"/>
<rect x="245.0" y="663.6" width="43.0" height="15.3" fill="#f3c528"/>
<rect x="288.0" y="663.6" width="29.7" height="15.3" fill="#2b8fd9"/>
<text x="144.5" y="673.5" font-size="6.4" fill="#222" text-anchor="middle" stroke="#222" stroke-width="0.12">MG3</text>
<rect x="164.5" y="681.4" width="66.8" height="15.9" fill="#e07b1f"/>
<rect x="231.3" y="681.4" width="53.0" height="15.9" fill="#f3c528"/>
<rect x="284.3" y="681.4" width="33.4" height="15.9" fill="#2b8fd9"/>
<text x="144.5" y="691.6" font-size="6.4" fill="#222" text-anchor="middle" stroke="#222" stroke-width="0.12">MG4</text>
<text x="121.5" y="710.7" font-size="8.2" fill="#111" stroke="#111" stroke-width="0.18">Recurrent</text>
<line x1="164.5" y1="709.3" x2="164.5" y2="710.9" stroke="#444" stroke-width="0.6"/>
<text x="164.5" y="706.4" font-size="5.2" fill="#444" text-anchor="middle" stroke="#444" stroke-width="0.12">0</text>
<line x1="202.3" y1="709.3" x2="202.3" y2="710.9" stroke="#444" stroke-width="0.6"/>
<text x="202.3" y="706.4" font-size="5.2" fill="#444" text-anchor="middle" stroke="#444" stroke-width="0.12">25</text>
<line x1="240.1" y1="709.3" x2="240.1" y2="710.9" stroke="#444" stroke-width="0.6"/>
<text x="240.1" y="706.4" font-size="5.2" fill="#444" text-anchor="middle" stroke="#444" stroke-width="0.12">50</text>
<line x1="277.8" y1="709.3" x2="277.8" y2="710.9" stroke="#444" stroke-width="0.6"/>
<text x="277.8" y="706.4" font-size="5.2" fill="#444" text-anchor="middle" stroke="#444" stroke-width="0.12">75</text>
<line x1="315.6" y1="709.3" x2="315.6" y2="710.9" stroke="#444" stroke-width="0.6"/>
<text x="315.6" y="706.4" font-size="5.2" fill="#444" text-anchor="middle" stroke="#444" stroke-width="0.12">100</text>
<rect x="159.2" y="710.9" width="162.2" height="74.9" fill="none" stroke="#222" stroke-width="0.9"/>
<rect x="164.5" y="713.1" width="59.7" height="15.3" fill="#e07b1f"/>
<rect x="224.2" y="713.1" width="50.6" height="15.3" fill="#f3c528"/>
<rect x="274.8" y="713.1" width="42.9" height="15.3" fill="#2b8fd9"/>
<text x="144.5" y="723.0" font-size="6.4" fill="#222" text-anchor="middle" stroke="#222" stroke-width="0.12">MG1</text>
<rect x="164.5" y="731.5" width="55.7" height="15.0" fill="#e07b1f"/>
<rect x="220.2" y="731.5" width="53.1" height="15.0" fill="#f3c528"/>
<rect x="273.3" y="731.5" width="44.4" height="15.0" fill="#2b8fd9"/>
<text x="144.5" y="741.3" font-size="6.4" fill="#222" text-anchor="middle" stroke="#222" stroke-width="0.12">MG2</text>
<rect x="164.5" y="749.3" width="59.1" height="15.3" fill="#e07b1f"/>
<rect x="223.6" y="749.3" width="50.3" height="15.3" fill="#f3c528"/>
<rect x="273.9" y="749.3" width="43.8" height="15.3" fill="#2b8fd9"/>
<text x="144.5" y="759.2" font-size="6.4" fill="#222" text-anchor="middle" stroke="#222" stroke-width="0.12">MG3</text>
<rect x="164.5" y="767.7" width="38.3" height="15.3" fill="#e07b1f"/>
<rect x="202.8" y="767.7" width="58.8" height="15.3" fill="#f3c528"/>
<rect x="261.6" y="767.7" width="56.1" height="15.3" fill="#2b8fd9"/>
<text x="144.5" y="777.6" font-size="6.4" fill="#222" text-anchor="middle" stroke="#222" stroke-width="0.12">MG4</text>
<text x="337.5" y="600.3" font-size="13.5" fill="#000" font-weight="bold">h</text>
<rect x="386.3" y="591.1" width="76.0" height="4.4" fill="#d9322e"/>
<rect x="462.3" y="591.1" width="56.1" height="4.4" fill="#2f6fb0"/>
<rect x="518.4" y="591.1" width="55.9" height="4.4" fill="#45ac4a"/>
<rect x="574.3" y="591.1" width="37.2" height="4.4" fill="#ee8e2d"/>
<line x1="391.9" y1="600.3" x2="391.9" y2="657.1" stroke="#e6e6e6" stroke-width="0.5"/>
<line x1="401.2" y1="600.3" x2="401.2" y2="657.1" stroke="#e6e6e6" stroke-width="0.5"/>
<line x1="410.5" y1="600.3" x2="410.5" y2="657.1" stroke="#e6e6e6" stroke-width="0.5"/>
<line x1="419.8" y1="600.3" x2="419.8" y2="657.1" stroke="#e6e6e6" stroke-width="0.5"/>
<line x1="429.1" y1="600.3" x2="429.1" y2="657.1" stroke="#e6e6e6" stroke-width="0.5"/>
<line x1="438.4" y1="600.3" x2="438.4" y2="657.1" stroke="#e6e6e6" stroke-width="0.5"/>
<line x1="447.8" y1="600.3" x2="447.8" y2="657.1" stroke="#e6e6e6" stroke-width="0.5"/>
<line x1="457.1" y1="600.3" x2="457.1" y2="657.1" stroke="#e6e6e6" stroke-width="0.5"/>
<line x1="466.4" y1="600.3" x2="466.4" y2="657.1" stroke="#e6e6e6" stroke-width="0.5"/>
<line x1="475.7" y1="600.3" x2="475.7" y2="657.1" stroke="#e6e6e6" stroke-width="0.5"/>
<line x1="485.0" y1="600.3" x2="485.0" y2="657.1" stroke="#e6e6e6" stroke-width="0.5"/>
<line x1="494.3" y1="600.3" x2="494.3" y2="657.1" stroke="#e6e6e6" stroke-width="0.5"/>
<line x1="503.6" y1="600.3" x2="503.6" y2="657.1" stroke="#e6e6e6" stroke-width="0.5"/>
<line x1="512.9" y1="600.3" x2="512.9" y2="657.1" stroke="#e6e6e6" stroke-width="0.5"/>
<line x1="522.2" y1="600.3" x2="522.2" y2="657.1" stroke="#e6e6e6" stroke-width="0.5"/>
<line x1="531.5" y1="600.3" x2="531.5" y2="657.1" stroke="#e6e6e6" stroke-width="0.5"/>
<line x1="540.9" y1="600.3" x2="540.9" y2="657.1" stroke="#e6e6e6" stroke-width="0.5"/>
<line x1="550.2" y1="600.3" x2="550.2" y2="657.1" stroke="#e6e6e6" stroke-width="0.5"/>
<line x1="559.5" y1="600.3" x2="559.5" y2="657.1" stroke="#e6e6e6" stroke-width="0.5"/>
<line x1="568.8" y1="600.3" x2="568.8" y2="657.1" stroke="#e6e6e6" stroke-width="0.5"/>
<line x1="578.1" y1="600.3" x2="578.1" y2="657.1" stroke="#e6e6e6" stroke-width="0.5"/>
<line x1="587.4" y1="600.3" x2="587.4" y2="657.1" stroke="#e6e6e6" stroke-width="0.5"/>
<line x1="596.7" y1="600.3" x2="596.7" y2="657.1" stroke="#e6e6e6" stroke-width="0.5"/>
<line x1="606.0" y1="600.3" x2="606.0" y2="657.1" stroke="#e6e6e6" stroke-width="0.5"/>
<line x1="386.3" y1="608.3" x2="611.5" y2="608.3" stroke="#e6e6e6" stroke-width="0.5"/>
<line x1="386.3" y1="621.9" x2="611.5" y2="621.9" stroke="#e6e6e6" stroke-width="0.5"/>
<line x1="386.3" y1="635.5" x2="611.5" y2="635.5" stroke="#e6e6e6" stroke-width="0.5"/>
<line x1="386.3" y1="649.3" x2="611.5" y2="649.3" stroke="#e6e6e6" stroke-width="0.5"/>
<rect x="386.3" y="600.3" width="225.2" height="56.8" fill="none" stroke="#222" stroke-width="0.9"/>
<line x1="391.9" y1="662.3" x2="391.9" y2="718.9" stroke="#e6e6e6" stroke-width="0.5"/>
<line x1="401.2" y1="662.3" x2="401.2" y2="718.9" stroke="#e6e6e6" stroke-width="0.5"/>
<line x1="410.5" y1="662.3" x2="410.5" y2="718.9" stroke="#e6e6e6" stroke-width="0.5"/>
<line x1="419.8" y1="662.3" x2="419.8" y2="718.9" stroke="#e6e6e6" stroke-width="0.5"/>
<line x1="429.1" y1="662.3" x2="429.1" y2="718.9" stroke="#e6e6e6" stroke-width="0.5"/>
<line x1="438.4" y1="662.3" x2="438.4" y2="718.9" stroke="#e6e6e6" stroke-width="0.5"/>
<line x1="447.8" y1="662.3" x2="447.8" y2="718.9" stroke="#e6e6e6" stroke-width="0.5"/>
<line x1="457.1" y1="662.3" x2="457.1" y2="718.9" stroke="#e6e6e6" stroke-width="0.5"/>
<line x1="466.4" y1="662.3" x2="466.4" y2="718.9" stroke="#e6e6e6" stroke-width="0.5"/>
<line x1="475.7" y1="662.3" x2="475.7" y2="718.9" stroke="#e6e6e6" stroke-width="0.5"/>
<line x1="485.0" y1="662.3" x2="485.0" y2="718.9" stroke="#e6e6e6" stroke-width="0.5"/>
<line x1="494.3" y1="662.3" x2="494.3" y2="718.9" stroke="#e6e6e6" stroke-width="0.5"/>
<line x1="503.6" y1="662.3" x2="503.6" y2="718.9" stroke="#e6e6e6" stroke-width="0.5"/>
<line x1="512.9" y1="662.3" x2="512.9" y2="718.9" stroke="#e6e6e6" stroke-width="0.5"/>
<line x1="522.2" y1="662.3" x2="522.2" y2="718.9" stroke="#e6e6e6" stroke-width="0.5"/>
<line x1="531.5" y1="662.3" x2="531.5" y2="718.9" stroke="#e6e6e6" stroke-width="0.5"/>
<line x1="540.9" y1="662.3" x2="540.9" y2="718.9" stroke="#e6e6e6" stroke-width="0.5"/>
<line x1="550.2" y1="662.3" x2="550.2" y2="718.9" stroke="#e6e6e6" stroke-width="0.5"/>
<line x1="559.5" y1="662.3" x2="559.5" y2="718.9" stroke="#e6e6e6" stroke-width="0.5"/>
<line x1="568.8" y1="662.3" x2="568.8" y2="718.9" stroke="#e6e6e6" stroke-width="0.5"/>
<line x1="578.1" y1="662.3" x2="578.1" y2="718.9" stroke="#e6e6e6" stroke-width="0.5"/>
<line x1="587.4" y1="662.3" x2="587.4" y2="718.9" stroke="#e6e6e6" stroke-width="0.5"/>
<line x1="596.7" y1="662.3" x2="596.7" y2="718.9" stroke="#e6e6e6" stroke-width="0.5"/>
<line x1="606.0" y1="662.3" x2="606.0" y2="718.9" stroke="#e6e6e6" stroke-width="0.5"/>
<line x1="386.3" y1="670.3" x2="611.5" y2="670.3" stroke="#e6e6e6" stroke-width="0.5"/>
<line x1="386.3" y1="683.8" x2="611.5" y2="683.8" stroke="#e6e6e6" stroke-width="0.5"/>
<line x1="386.3" y1="697.5" x2="611.5" y2="697.5" stroke="#e6e6e6" stroke-width="0.5"/>
<line x1="386.3" y1="711.3" x2="611.5" y2="711.3" stroke="#e6e6e6" stroke-width="0.5"/>
<rect x="386.3" y="662.3" width="225.2" height="56.6" fill="none" stroke="#222" stroke-width="0.9"/>
<text x="381.6" y="610.9" font-size="7.4" fill="#d9322e" text-anchor="end" stroke="#d9322e" stroke-width="0.12">MG1</text>
<text x="381.6" y="624.5" font-size="7.4" fill="#2f6fb0" text-anchor="end" stroke="#2f6fb0" stroke-width="0.12">MG2</text>
<text x="381.6" y="638.1" font-size="7.4" fill="#45ac4a" text-anchor="end" stroke="#45ac4a" stroke-width="0.12">MG3</text>
<text x="381.6" y="651.9" font-size="7.4" fill="#ee8e2d" text-anchor="end" stroke="#ee8e2d" stroke-width="0.12">MG4</text>
<text x="381.6" y="672.9" font-size="7.4" fill="#d9322e" text-anchor="end" stroke="#d9322e" stroke-width="0.12">MG1</text>
<text x="381.6" y="686.4" font-size="7.4" fill="#2f6fb0" text-anchor="end" stroke="#2f6fb0" stroke-width="0.12">MG2</text>
<text x="381.6" y="700.1" font-size="7.4" fill="#45ac4a" text-anchor="end" stroke="#45ac4a" stroke-width="0.12">MG3</text>
<text x="381.6" y="713.9" font-size="7.4" fill="#ee8e2d" text-anchor="end" stroke="#ee8e2d" stroke-width="0.12">MG4</text>
<circle cx="391.9" cy="608.3" r="2.8" fill="#328341" stroke="#333" stroke-width="0.4"/>
<circle cx="401.2" cy="608.3" r="3.4" fill="#3b8849" stroke="#333" stroke-width="0.4"/>
<circle cx="410.5" cy="608.3" r="2.5" fill="#6ba175" stroke="#333" stroke-width="0.4"/>
<circle cx="419.8" cy="608.3" r="1.9" fill="#9abaa0" stroke="#333" stroke-width="0.4"/>
<circle cx="429.1" cy="608.3" r="2.1" fill="#91b597" stroke="#333" stroke-width="0.4"/>
<circle cx="438.4" cy="608.3" r="2.1" fill="#9abaa0" stroke="#333" stroke-width="0.4"/>
<circle cx="447.8" cy="608.3" r="1.7" fill="#a4bfa9" stroke="#333" stroke-width="0.4"/>
<circle cx="457.1" cy="608.3" r="1.7" fill="#a4bfa9" stroke="#333" stroke-width="0.4"/>
<circle cx="466.4" cy="608.3" r="0.8" fill="#555"/>
<circle cx="568.8" cy="608.3" r="0.8" fill="#555"/>
<circle cx="596.7" cy="608.3" r="0.8" fill="#555"/>
<circle cx="401.2" cy="621.9" r="0.8" fill="#555"/>
<circle cx="466.4" cy="621.9" r="1.8" fill="#74a67d" stroke="#333" stroke-width="0.4"/>
<circle cx="475.7" cy="621.9" r="1.7" fill="#74a67d" stroke="#333" stroke-width="0.4"/>
<circle cx="485.0" cy="621.9" r="1.7" fill="#74a67d" stroke="#333" stroke-width="0.4"/>
<circle cx="494.3" cy="621.9" r="1.7" fill="#7eab86" stroke="#333" stroke-width="0.4"/>
<circle cx="503.6" cy="621.9" r="0.8" fill="#555"/>
<circle cx="512.9" cy="621.9" r="0.8" fill="#555"/>
<circle cx="522.2" cy="635.5" r="2.0" fill="#589763" stroke="#333" stroke-width="0.4"/>
<circle cx="531.5" cy="635.5" r="1.9" fill="#619c6c" stroke="#333" stroke-width="0.4"/>
<circle cx="540.9" cy="635.5" r="1.8" fill="#6ba175" stroke="#333" stroke-width="0.4"/>
<circle cx="550.2" cy="635.5" r="1.8" fill="#7eab86" stroke="#333" stroke-width="0.4"/>
<circle cx="559.5" cy="635.5" r="1.8" fill="#87b08f" stroke="#333" stroke-width="0.4"/>
<circle cx="568.8" cy="635.5" r="1.5" fill="#a4bfa9" stroke="#333" stroke-width="0.4"/>
<circle cx="401.2" cy="649.3" r="2.0" fill="#dddddd" stroke="#333" stroke-width="0.4"/>
<circle cx="410.5" cy="649.3" r="0.8" fill="#555"/>
<circle cx="466.4" cy="649.3" r="0.8" fill="#555"/>
<circle cx="578.1" cy="649.3" r="3.2" fill="#287e38" stroke="#333" stroke-width="0.4"/>
<circle cx="587.4" cy="649.3" r="3.4" fill="#287e38" stroke="#333" stroke-width="0.4"/>
<circle cx="596.7" cy="649.3" r="2.5" fill="#3b8849" stroke="#333" stroke-width="0.4"/>
<circle cx="606.0" cy="649.3" r="2.3" fill="#4e925b" stroke="#333" stroke-width="0.4"/>
<circle cx="391.9" cy="670.3" r="2.8" fill="#f4b93d" stroke="#333" stroke-width="0.4"/>
<circle cx="401.2" cy="670.3" r="3.4" fill="#f3bb46" stroke="#333" stroke-width="0.4"/>
<circle cx="410.5" cy="670.3" r="2.5" fill="#ecc572" stroke="#333" stroke-width="0.4"/>
<circle cx="419.8" cy="670.3" r="1.9" fill="#e6cf9f" stroke="#333" stroke-width="0.4"/>
<circle cx="429.1" cy="670.3" r="2.1" fill="#e7cd96" stroke="#333" stroke-width="0.4"/>
<circle cx="438.4" cy="670.3" r="2.1" fill="#e6cf9f" stroke="#333" stroke-width="0.4"/>
<circle cx="447.8" cy="670.3" r="1.7" fill="#e4d1a7" stroke="#333" stroke-width="0.4"/>
<circle cx="457.1" cy="670.3" r="1.7" fill="#e4d1a7" stroke="#333" stroke-width="0.4"/>
<circle cx="466.4" cy="670.3" r="0.8" fill="#555"/>
<circle cx="568.8" cy="670.3" r="0.8" fill="#555"/>
<circle cx="596.7" cy="670.3" r="0.8" fill="#555"/>
<circle cx="401.2" cy="683.8" r="0.8" fill="#555"/>
<circle cx="466.4" cy="683.8" r="1.8" fill="#ebc77b" stroke="#333" stroke-width="0.4"/>
<circle cx="475.7" cy="683.8" r="1.7" fill="#ebc77b" stroke="#333" stroke-width="0.4"/>
<circle cx="485.0" cy="683.8" r="1.7" fill="#ebc77b" stroke="#333" stroke-width="0.4"/>
<circle cx="494.3" cy="683.8" r="1.7" fill="#eac984" stroke="#333" stroke-width="0.4"/>
<circle cx="503.6" cy="683.8" r="0.8" fill="#555"/>
<circle cx="512.9" cy="683.8" r="0.8" fill="#555"/>
<circle cx="522.2" cy="697.5" r="2.0" fill="#efc161" stroke="#333" stroke-width="0.4"/>
<circle cx="531.5" cy="697.5" r="1.9" fill="#edc369" stroke="#333" stroke-width="0.4"/>
<circle cx="540.9" cy="697.5" r="1.8" fill="#ecc572" stroke="#333" stroke-width="0.4"/>
<circle cx="550.2" cy="697.5" r="1.8" fill="#eac984" stroke="#333" stroke-width="0.4"/>
<circle cx="559.5" cy="697.5" r="1.8" fill="#e8cb8d" stroke="#333" stroke-width="0.4"/>
<circle cx="568.8" cy="697.5" r="1.5" fill="#e4d1a7" stroke="#333" stroke-width="0.4"/>
<circle cx="401.2" cy="711.3" r="2.0" fill="#dddddd" stroke="#333" stroke-width="0.4"/>
<circle cx="410.5" cy="711.3" r="0.8" fill="#555"/>
<circle cx="466.4" cy="711.3" r="0.8" fill="#555"/>
<circle cx="578.1" cy="711.3" r="3.2" fill="#f5b734" stroke="#333" stroke-width="0.4"/>
<circle cx="587.4" cy="711.3" r="3.4" fill="#f5b734" stroke="#333" stroke-width="0.4"/>
<circle cx="596.7" cy="711.3" r="2.5" fill="#f3bb46" stroke="#333" stroke-width="0.4"/>
<circle cx="606.0" cy="711.3" r="2.3" fill="#f0bf58" stroke="#333" stroke-width="0.4"/>
<line x1="391.9" y1="718.9" x2="391.9" y2="720.6" stroke="#444" stroke-width="0.5"/>
<text x="393.1" y="722.8" font-size="6.0" fill="#444" text-anchor="end" transform="rotate(-45 393.1 722.8)" stroke="#444" stroke-width="0.12">BCR signaling</text>
<line x1="401.2" y1="718.9" x2="401.2" y2="720.6" stroke="#444" stroke-width="0.5"/>
<text x="402.4" y="722.8" font-size="6.0" fill="#444" text-anchor="end" transform="rotate(-45 402.4 722.8)" stroke="#444" stroke-width="0.12">Signaling by interleukins</text>
<line x1="410.5" y1="718.9" x2="410.5" y2="720.6" stroke="#444" stroke-width="0.5"/>
<text x="411.7" y="722.8" font-size="6.0" fill="#444" text-anchor="end" transform="rotate(-45 411.7 722.8)" stroke="#444" stroke-width="0.12">TCR pathway</text>
<line x1="419.8" y1="718.9" x2="419.8" y2="720.6" stroke="#444" stroke-width="0.5"/>
<text x="421.0" y="722.8" font-size="6.0" fill="#444" text-anchor="end" transform="rotate(-45 421.0 722.8)" stroke="#444" stroke-width="0.12">Interleukin 2 family signaling</text>
<line x1="429.1" y1="718.9" x2="429.1" y2="720.6" stroke="#444" stroke-width="0.5"/>
<text x="430.3" y="722.8" font-size="6.0" fill="#444" text-anchor="end" transform="rotate(-45 430.3 722.8)" stroke="#444" stroke-width="0.12">NK cell mediated cytotoxicity</text>
<line x1="438.4" y1="718.9" x2="438.4" y2="720.6" stroke="#444" stroke-width="0.5"/>
<text x="439.6" y="722.8" font-size="6.0" fill="#444" text-anchor="end" transform="rotate(-45 439.6 722.8)" stroke="#444" stroke-width="0.12">Antigen processing</text>
<line x1="447.8" y1="718.9" x2="447.8" y2="720.6" stroke="#444" stroke-width="0.5"/>
<text x="449.0" y="722.8" font-size="6.0" fill="#444" text-anchor="end" transform="rotate(-45 449.0 722.8)" stroke="#444" stroke-width="0.12">CTLA4 pathway</text>
<line x1="457.1" y1="718.9" x2="457.1" y2="720.6" stroke="#444" stroke-width="0.5"/>
<text x="458.3" y="722.8" font-size="6.0" fill="#444" text-anchor="end" transform="rotate(-45 458.3 722.8)" stroke="#444" stroke-width="0.12">Inflammatory pathway</text>
<line x1="466.4" y1="718.9" x2="466.4" y2="720.6" stroke="#444" stroke-width="0.5"/>
<text x="467.6" y="722.8" font-size="6.0" fill="#444" text-anchor="end" transform="rotate(-45 467.6 722.8)" stroke="#444" stroke-width="0.12">NFKB targets fibroblast</text>
<line x1="475.7" y1="718.9" x2="475.7" y2="720.6" stroke="#444" stroke-width="0.5"/>
<text x="476.9" y="722.8" font-size="6.0" fill="#444" text-anchor="end" transform="rotate(-45 476.9 722.8)" stroke="#444" stroke-width="0.12">HIF2 pathway</text>
<line x1="485.0" y1="718.9" x2="485.0" y2="720.6" stroke="#444" stroke-width="0.5"/>
<text x="486.2" y="722.8" font-size="6.0" fill="#444" text-anchor="end" transform="rotate(-45 486.2 722.8)" stroke="#444" stroke-width="0.12">Hypoxia</text>
<line x1="494.3" y1="718.9" x2="494.3" y2="720.6" stroke="#444" stroke-width="0.5"/>
<text x="495.5" y="722.8" font-size="6.0" fill="#444" text-anchor="end" transform="rotate(-45 495.5 722.8)" stroke="#444" stroke-width="0.12">TGFB1 targets</text>
<line x1="503.6" y1="718.9" x2="503.6" y2="720.6" stroke="#444" stroke-width="0.5"/>
<text x="504.8" y="722.8" font-size="6.0" fill="#444" text-anchor="end" transform="rotate(-45 504.8 722.8)" stroke="#444" stroke-width="0.12">VEGFR2 mediated cell proliferation</text>
<line x1="512.9" y1="718.9" x2="512.9" y2="720.6" stroke="#444" stroke-width="0.5"/>
<text x="514.1" y="722.8" font-size="6.0" fill="#444" text-anchor="end" transform="rotate(-45 514.1 722.8)" stroke="#444" stroke-width="0.12">Response to TGFB1</text>
<line x1="522.2" y1="718.9" x2="522.2" y2="720.6" stroke="#444" stroke-width="0.5"/>
<text x="523.4" y="722.8" font-size="6.0" fill="#444" text-anchor="end" transform="rotate(-45 523.4 722.8)" stroke="#444" stroke-width="0.12">Citrate cycle TCA Cycle</text>
<line x1="531.5" y1="718.9" x2="531.5" y2="720.6" stroke="#444" stroke-width="0.5"/>
<text x="532.8" y="722.8" font-size="6.0" fill="#444" text-anchor="end" transform="rotate(-45 532.8 722.8)" stroke="#444" stroke-width="0.12">Pyruvate metabolism</text>
<line x1="540.9" y1="718.9" x2="540.9" y2="720.6" stroke="#444" stroke-width="0.5"/>
<text x="542.1" y="722.8" font-size="6.0" fill="#444" text-anchor="end" transform="rotate(-45 542.1 722.8)" stroke="#444" stroke-width="0.12">Glyoxylate metabolism</text>
<line x1="550.2" y1="718.9" x2="550.2" y2="720.6" stroke="#444" stroke-width="0.5"/>
<text x="551.4" y="722.8" font-size="6.0" fill="#444" text-anchor="end" transform="rotate(-45 551.4 722.8)" stroke="#444" stroke-width="0.12">Adipogenesis</text>
<line x1="559.5" y1="718.9" x2="559.5" y2="720.6" stroke="#444" stroke-width="0.5"/>
<text x="560.7" y="722.8" font-size="6.0" fill="#444" text-anchor="end" transform="rotate(-45 560.7 722.8)" stroke="#444" stroke-width="0.12">FFA oxidation</text>
<line x1="568.8" y1="718.9" x2="568.8" y2="720.6" stroke="#444" stroke-width="0.5"/>
<text x="570.0" y="722.8" font-size="6.0" fill="#444" text-anchor="end" transform="rotate(-45 570.0 722.8)" stroke="#444" stroke-width="0.12">Fatty acid beta oxidation</text>
<line x1="578.1" y1="718.9" x2="578.1" y2="720.6" stroke="#444" stroke-width="0.5"/>
<text x="579.3" y="722.8" font-size="6.0" fill="#444" text-anchor="end" transform="rotate(-45 579.3 722.8)" stroke="#444" stroke-width="0.12">Cell cycle</text>
<line x1="587.4" y1="718.9" x2="587.4" y2="720.6" stroke="#444" stroke-width="0.5"/>
<text x="588.6" y="722.8" font-size="6.0" fill="#444" text-anchor="end" transform="rotate(-45 588.6 722.8)" stroke="#444" stroke-width="0.12">DNA repair genes</text>
<line x1="596.7" y1="718.9" x2="596.7" y2="720.6" stroke="#444" stroke-width="0.5"/>
<text x="597.9" y="722.8" font-size="6.0" fill="#444" text-anchor="end" transform="rotate(-45 597.9 722.8)" stroke="#444" stroke-width="0.12">FOXM1 pathway</text>
<line x1="606.0" y1="718.9" x2="606.0" y2="720.6" stroke="#444" stroke-width="0.5"/>
<text x="607.2" y="722.8" font-size="6.0" fill="#444" text-anchor="end" transform="rotate(-45 607.2 722.8)" stroke="#444" stroke-width="0.12">Aurora A pathway</text>
<text x="621.5" y="596.3" font-size="6.6" fill="#111" stroke="#111" stroke-width="0.12">-log<tspan font-size="4.6" dy="1.4">10</tspan><tspan dy="-1.4" font-style="italic">pvalue</tspan></text>
<text x="622.0" y="608.8" font-size="6.6" fill="#111" stroke="#111" stroke-width="0.12">Primary</text>
<rect x="629.0" y="614.2" width="9.3" height="54.0" fill="url(#hg)"/>
<text x="639.8" y="617.5" font-size="4.6" fill="#111" stroke="#111" stroke-width="0.12">10.0</text>
<text x="639.8" y="622.7" font-size="4.6" fill="#111" stroke="#111" stroke-width="0.12">7.5</text>
<text x="639.8" y="628.6" font-size="4.6" fill="#111" stroke="#111" stroke-width="0.12">5.0</text>
<text x="639.8" y="634.6" font-size="4.6" fill="#111" stroke="#111" stroke-width="0.12">2.5</text>
<text x="639.8" y="647.7" font-size="4.6" fill="#111" stroke="#111" stroke-width="0.12">2.5</text>
<text x="639.8" y="653.2" font-size="4.6" fill="#111" stroke="#111" stroke-width="0.12">5.0</text>
<text x="639.8" y="659.2" font-size="4.6" fill="#111" stroke="#111" stroke-width="0.12">7.5</text>
<text x="639.8" y="666.7" font-size="4.6" fill="#111" stroke="#111" stroke-width="0.12">10.0</text>
<text x="619.6" y="676.8" font-size="6.6" fill="#111" stroke="#111" stroke-width="0.12">Recurrent</text>
<text x="627.0" y="691.7" font-size="6.6" fill="#111" stroke="#111" stroke-width="0.12">Gene (n)</text>
<circle cx="633.1" cy="701.4" r="1.8" fill="#111"/>
<text x="640.4" y="703.4" font-size="6" fill="#111" stroke="#111" stroke-width="0.12">5</text>
<circle cx="633.1" cy="710.9" r="2.9" fill="#111"/>
<text x="640.4" y="712.9" font-size="6" fill="#111" stroke="#111" stroke-width="0.12">10</text>
<text x="8.0" y="806.2" font-size="13.5" fill="#000" font-weight="bold">i</text>
<g opacity="0.95">
<ellipse filter="url(#fi2)" cx="74" cy="918" rx="48" ry="30" transform="rotate(-45 74 918)" fill="#f6b840" fill-opacity="0.55"/>
<ellipse filter="url(#fi2)" cx="66" cy="870" rx="32" ry="16" transform="rotate(45 66 870)" fill="#f6b840" fill-opacity="0.55" clip-path="url(#ulc)"/>
<ellipse filter="url(#fi2)" cx="152" cy="862" rx="15" ry="26" transform="rotate(20 152 862)" fill="#f6b840" fill-opacity="0.45"/>
<ellipse filter="url(#fi2)" cx="130" cy="915" rx="26" ry="12" transform="rotate(45 130 915)" fill="#f6b840" fill-opacity="0.3"/>
<ellipse filter="url(#fi1)" cx="78" cy="917" rx="44" ry="28" transform="rotate(-45 78 917)" fill="#2f6e38" fill-opacity="0.85"/>
<ellipse filter="url(#fi1)" cx="67" cy="871" rx="28" ry="14" transform="rotate(45 67 871)" fill="#2f6e38" fill-opacity="0.65" clip-path="url(#ulc)"/>
<ellipse filter="url(#fi1)" cx="150" cy="866" rx="13" ry="23" transform="rotate(18 150 866)" fill="#2f6e38" fill-opacity="0.8"/>
<ellipse filter="url(#fi1)" cx="128" cy="914" rx="26" ry="11" transform="rotate(45 128 914)" fill="#2f6e38" fill-opacity="0.5"/>
<ellipse filter="url(#fi1)" cx="118" cy="880" rx="14" ry="12" transform="rotate(0 118 880)" fill="#2f6e38" fill-opacity="0.5"/>
</g>
<ellipse filter="url(#fi4)" cx="83" cy="914" rx="37" ry="23" transform="rotate(-45 83 914)" fill="#0d5c1e" fill-opacity="0.85"/>
<ellipse filter="url(#fi4)" cx="150" cy="866" rx="11" ry="20" transform="rotate(18 150 866)" fill="#0d5c1e" fill-opacity="0.7"/>
<ellipse filter="url(#fi4)" cx="76" cy="876" rx="20" ry="9" transform="rotate(45 76 876)" fill="#0d5c1e" fill-opacity="0.55" clip-path="url(#ulc)"/>
<path d="M74 855L110.8 892.5L75 893L80 868Z M75 892L110.8 892L109 904.5L104 917L92 929L82 937L64 937L59 929L63 917L69 904.5Z M110.5 867.3H139.4V894.1H110.5Z M110 891L112 891L138.5 919.5L136.5 921.5L110 894Z" fill="#0d5c1e" filter="url(#fi3)" fill-opacity="0.95"/>
<g fill-opacity="0.5"><circle cx="162.4" cy="918.8" r="1.4" fill="#f6b840"/><circle cx="139.8" cy="862.8" r="1.4" fill="#f6b840"/><circle cx="141.2" cy="926.8" r="1.4" fill="#f6b840"/><circle cx="117.1" cy="932.8" r="1.4" fill="#f6b840"/><circle cx="126.5" cy="924.3" r="1.4" fill="#2f6e38"/><circle cx="127.1" cy="845.8" r="1.4" fill="#2f6e38"/><circle cx="83.0" cy="912.5" r="1.4" fill="#2f6e38"/><circle cx="97.0" cy="862.0" r="1.4" fill="#2f6e38"/><circle cx="152.3" cy="914.8" r="1.4" fill="#2f6e38"/><circle cx="72.0" cy="869.8" r="1.4" fill="#2f6e38"/><circle cx="80.8" cy="927.3" r="1.4" fill="#2f6e38"/><circle cx="148.3" cy="920.9" r="1.4" fill="#2f6e38"/><circle cx="53.4" cy="882.0" r="1.4" fill="#2f6e38"/><circle cx="76.7" cy="866.7" r="1.4" fill="#2f6e38"/><circle cx="140.3" cy="856.2" r="1.4" fill="#f6b840"/><circle cx="79.9" cy="847.4" r="1.4" fill="#f6b840"/><circle cx="49.1" cy="899.7" r="1.4" fill="#f6b840"/><circle cx="155.9" cy="866.2" r="1.4" fill="#2f6e38"/><circle cx="101.3" cy="849.8" r="1.4" fill="#f6b840"/><circle cx="145.7" cy="873.8" r="1.4" fill="#f6b840"/><circle cx="77.6" cy="855.5" r="1.4" fill="#2f6e38"/><circle cx="53.8" cy="903.5" r="1.4" fill="#2f6e38"/><circle cx="74.5" cy="851.0" r="1.4" fill="#2f6e38"/><circle cx="88.8" cy="935.1" r="1.4" fill="#2f6e38"/><circle cx="105.8" cy="939.2" r="1.4" fill="#2f6e38"/><circle cx="137.5" cy="862.9" r="1.4" fill="#f6b840"/><circle cx="61.7" cy="896.7" r="1.4" fill="#2f6e38"/><circle cx="138.8" cy="931.7" r="1.4" fill="#f6b840"/><circle cx="80.5" cy="880.9" r="1.4" fill="#f6b840"/><circle cx="142.5" cy="894.6" r="1.4" fill="#2f6e38"/><circle cx="136.0" cy="855.7" r="1.4" fill="#f6b840"/><circle cx="69.4" cy="859.5" r="1.4" fill="#2f6e38"/><circle cx="141.7" cy="907.1" r="1.4" fill="#2f6e38"/><circle cx="158.1" cy="912.9" r="1.4" fill="#f6b840"/><circle cx="80.4" cy="866.2" r="1.4" fill="#f6b840"/><circle cx="154.4" cy="855.6" r="1.4" fill="#2f6e38"/><circle cx="133.2" cy="857.0" r="1.4" fill="#f6b840"/><circle cx="98.5" cy="922.9" r="1.4" fill="#2f6e38"/><circle cx="54.5" cy="865.2" r="1.4" fill="#2f6e38"/><circle cx="80.2" cy="870.6" r="1.4" fill="#2f6e38"/><circle cx="152.6" cy="921.4" r="1.4" fill="#2f6e38"/><circle cx="149.4" cy="874.5" r="1.4" fill="#2f6e38"/><circle cx="150.6" cy="928.7" r="1.4" fill="#2f6e38"/><circle cx="112.6" cy="857.1" r="1.4" fill="#f6b840"/><circle cx="71.9" cy="936.6" r="1.4" fill="#2f6e38"/><circle cx="65.2" cy="866.8" r="1.4" fill="#2f6e38"/><circle cx="80.1" cy="931.3" r="1.4" fill="#f6b840"/><circle cx="73.6" cy="865.3" r="1.4" fill="#2f6e38"/><circle cx="165.1" cy="889.1" r="1.4" fill="#f6b840"/><circle cx="87.1" cy="837.5" r="1.4" fill="#2f6e38"/><circle cx="157.5" cy="909.9" r="1.4" fill="#f6b840"/><circle cx="83.8" cy="847.1" r="1.4" fill="#2f6e38"/><circle cx="135.1" cy="868.8" r="1.4" fill="#2f6e38"/><circle cx="155.4" cy="913.5" r="1.4" fill="#f6b840"/><circle cx="60.5" cy="854.2" r="1.4" fill="#f6b840"/><circle cx="133.5" cy="947.8" r="1.4" fill="#f6b840"/><circle cx="135.6" cy="839.6" r="1.4" fill="#2f6e38"/><circle cx="58.6" cy="870.6" r="1.4" fill="#f6b840"/><circle cx="140.7" cy="879.7" r="1.4" fill="#2f6e38"/><circle cx="97.1" cy="834.1" r="1.4" fill="#2f6e38"/><circle cx="81.2" cy="910.5" r="1.4" fill="#f6b840"/><circle cx="124.1" cy="853.6" r="1.4" fill="#2f6e38"/><circle cx="139.7" cy="838.6" r="1.4" fill="#2f6e38"/><circle cx="141.6" cy="913.2" r="1.4" fill="#2f6e38"/><circle cx="141.6" cy="914.0" r="1.4" fill="#2f6e38"/><circle cx="83.0" cy="877.9" r="1.4" fill="#2f6e38"/><circle cx="140.7" cy="878.0" r="1.4" fill="#2f6e38"/><circle cx="78.1" cy="915.8" r="1.4" fill="#2f6e38"/><circle cx="76.0" cy="854.6" r="1.4" fill="#2f6e38"/><circle cx="153.3" cy="912.3" r="1.4" fill="#2f6e38"/><circle cx="48.0" cy="905.1" r="1.4" fill="#f6b840"/><circle cx="91.5" cy="850.8" r="1.4" fill="#2f6e38"/><circle cx="89.6" cy="843.0" r="1.4" fill="#2f6e38"/><circle cx="88.5" cy="924.4" r="1.4" fill="#2f6e38"/><circle cx="155.4" cy="913.1" r="1.4" fill="#f6b840"/><circle cx="82.4" cy="869.2" r="1.4" fill="#2f6e38"/><circle cx="71.2" cy="938.9" r="1.4" fill="#2f6e38"/><circle cx="97.1" cy="944.6" r="1.4" fill="#2f6e38"/><circle cx="118.0" cy="862.6" r="1.4" fill="#2f6e38"/><circle cx="139.6" cy="938.3" r="1.4" fill="#f6b840"/><circle cx="158.7" cy="913.9" r="1.4" fill="#2f6e38"/><circle cx="133.7" cy="922.0" r="1.4" fill="#2f6e38"/><circle cx="60.8" cy="865.6" r="1.4" fill="#f6b840"/><circle cx="122.8" cy="930.2" r="1.4" fill="#f6b840"/><circle cx="149.4" cy="903.5" r="1.4" fill="#f6b840"/><circle cx="132.0" cy="843.9" r="1.4" fill="#f6b840"/><circle cx="136.9" cy="862.7" r="1.4" fill="#f6b840"/><circle cx="84.8" cy="839.1" r="1.4" fill="#f6b840"/><circle cx="134.5" cy="930.1" r="1.4" fill="#2f6e38"/><circle cx="143.0" cy="907.9" r="1.4" fill="#f6b840"/><circle cx="80.4" cy="878.1" r="1.4" fill="#2f6e38"/><circle cx="83.3" cy="944.8" r="1.4" fill="#f6b840"/><circle cx="78.8" cy="898.2" r="1.4" fill="#f6b840"/><circle cx="137.9" cy="843.0" r="1.4" fill="#2f6e38"/><circle cx="128.1" cy="928.5" r="1.4" fill="#2f6e38"/><circle cx="82.4" cy="868.4" r="1.4" fill="#2f6e38"/><circle cx="118.3" cy="858.9" r="1.4" fill="#2f6e38"/><circle cx="135.8" cy="871.3" r="1.4" fill="#2f6e38"/><circle cx="82.3" cy="859.5" r="1.4" fill="#2f6e38"/><circle cx="83.9" cy="909.4" r="1.4" fill="#2f6e38"/><circle cx="98.9" cy="860.5" r="1.4" fill="#2f6e38"/><circle cx="65.7" cy="863.4" r="1.4" fill="#2f6e38"/><circle cx="50.7" cy="892.0" r="1.4" fill="#f6b840"/><circle cx="68.2" cy="845.4" r="1.4" fill="#2f6e38"/><circle cx="85.1" cy="860.1" r="1.4" fill="#f6b840"/><circle cx="98.3" cy="951.6" r="1.4" fill="#f6b840"/><circle cx="146.5" cy="878.7" r="1.4" fill="#f6b840"/><circle cx="153.2" cy="856.4" r="1.4" fill="#2f6e38"/><circle cx="67.9" cy="855.2" r="1.4" fill="#2f6e38"/><circle cx="88.0" cy="916.1" r="1.4" fill="#2f6e38"/><circle cx="146.2" cy="850.0" r="1.4" fill="#2f6e38"/><circle cx="145.9" cy="883.1" r="1.4" fill="#f6b840"/><circle cx="83.3" cy="908.2" r="1.4" fill="#2f6e38"/><circle cx="146.6" cy="871.8" r="1.4" fill="#f6b840"/><circle cx="92.0" cy="930.5" r="1.4" fill="#2f6e38"/><circle cx="153.6" cy="932.6" r="1.4" fill="#f6b840"/></g>
<line x1="110.8" y1="807.4" x2="110.8" y2="977.7" stroke="#cfcfcf" stroke-width="0.6" stroke-dasharray="1 1.2"/>
<line x1="27.5" y1="893.1" x2="194.3" y2="893.1" stroke="#cfcfcf" stroke-width="0.6" stroke-dasharray="1 1.2"/>
<rect x="27.5" y="807.4" width="166.8" height="170.3" fill="none" stroke="#333" stroke-width="0.9"/>
<line x1="25.7" y1="816.5" x2="27.5" y2="816.5" stroke="#444" stroke-width="0.5"/>
<text x="25.1" y="818.4" font-size="5.4" fill="#444" text-anchor="end" stroke="#444" stroke-width="0.12">1.0</text>
<line x1="185.6" y1="977.7" x2="185.6" y2="979.5" stroke="#444" stroke-width="0.5"/>
<text x="185.6" y="985.1" font-size="5.4" fill="#444" text-anchor="middle" stroke="#444" stroke-width="0.12">1.0</text>
<line x1="25.7" y1="854.8" x2="27.5" y2="854.8" stroke="#444" stroke-width="0.5"/>
<text x="25.1" y="856.7" font-size="5.4" fill="#444" text-anchor="end" stroke="#444" stroke-width="0.12">0.5</text>
<line x1="148.2" y1="977.7" x2="148.2" y2="979.5" stroke="#444" stroke-width="0.5"/>
<text x="148.2" y="985.1" font-size="5.4" fill="#444" text-anchor="middle" stroke="#444" stroke-width="0.12">0.5</text>
<line x1="25.7" y1="893.1" x2="27.5" y2="893.1" stroke="#444" stroke-width="0.5"/>
<text x="25.1" y="895.0" font-size="5.4" fill="#444" text-anchor="end" stroke="#444" stroke-width="0.12">0.0</text>
<line x1="110.8" y1="977.7" x2="110.8" y2="979.5" stroke="#444" stroke-width="0.5"/>
<text x="110.8" y="985.1" font-size="5.4" fill="#444" text-anchor="middle" stroke="#444" stroke-width="0.12">0.0</text>
<line x1="25.7" y1="931.4" x2="27.5" y2="931.4" stroke="#444" stroke-width="0.5"/>
<text x="25.1" y="933.3" font-size="5.4" fill="#444" text-anchor="end" stroke="#444" stroke-width="0.12">−0.5</text>
<line x1="73.4" y1="977.7" x2="73.4" y2="979.5" stroke="#444" stroke-width="0.5"/>
<text x="73.4" y="985.1" font-size="5.4" fill="#444" text-anchor="middle" stroke="#444" stroke-width="0.12">−0.5</text>
<line x1="25.7" y1="969.7" x2="27.5" y2="969.7" stroke="#444" stroke-width="0.5"/>
<text x="25.1" y="971.6" font-size="5.4" fill="#444" text-anchor="end" stroke="#444" stroke-width="0.12">−1.0</text>
<line x1="36.0" y1="977.7" x2="36.0" y2="979.5" stroke="#444" stroke-width="0.5"/>
<text x="36.0" y="985.1" font-size="5.4" fill="#444" text-anchor="middle" stroke="#444" stroke-width="0.12">−1.0</text>
<text x="31.5" y="817.2" font-size="8.5" fill="#d9322e" stroke="#d9322e" stroke-width="0.18">MG1</text>
<text x="192.5" y="817.2" font-size="8.5" fill="#2f6fb0" text-anchor="end" stroke="#2f6fb0" stroke-width="0.18">MG2</text>
<text x="30.5" y="974.7" font-size="8.5" fill="#3aa64a" stroke="#3aa64a" stroke-width="0.18">MG3</text>
<text x="192.7" y="974.7" font-size="8.5" fill="#ee8e2d" text-anchor="end" stroke="#ee8e2d" stroke-width="0.18">MG4</text>
<line x1="60.5" y1="814.4" x2="164.5" y2="814.4" stroke="#111" stroke-width="0.9"/>
<path d="M57.5 814.4l4 -1.8v3.6z M167.5 814.4l-4 -1.8v3.6z" fill="#111"/>
<line x1="60.2" y1="972.3" x2="164.0" y2="972.3" stroke="#111" stroke-width="0.9"/>
<path d="M57.2 972.3l4 -1.8v3.6z M167.0 972.3l-4 -1.8v3.6z" fill="#111"/>
<line x1="36.8" y1="827.4" x2="36.8" y2="963.0" stroke="#111" stroke-width="0.9"/>
<path d="M36.8 824.4l-1.8 4h3.6z M36.8 966.0l-1.8 -4h3.6z" fill="#111"/>
<line x1="184.7" y1="827.4" x2="184.7" y2="963.0" stroke="#111" stroke-width="0.9"/>
<path d="M184.7 824.4l-1.8 4h3.6z M184.7 966.0l-1.8 -4h3.6z" fill="#111"/>
<text x="112.4" y="990.6" font-size="6" fill="#222" text-anchor="middle" stroke="#222" stroke-width="0.12">Relative meta−module score</text>
<text x="112.4" y="998.0" font-size="5.6" fill="#222" text-anchor="middle" stroke="#222" stroke-width="0.12">log2(|SC2 − SC1|+1)</text>
<text x="5.5" y="893.0" font-size="5.6" fill="#222" text-anchor="middle" transform="rotate(-90 5.5 893.0)" stroke="#222" stroke-width="0.12">Relative meta−module score</text>
<text x="13.5" y="893.0" font-size="5.6" fill="#222" text-anchor="middle" transform="rotate(-90 13.5 893.0)" stroke="#222" stroke-width="0.12">log2(|SC2 − SC1|+1)</text>
<text x="201.5" y="808.8" font-size="13.5" fill="#000" font-weight="bold">j</text>
<path d="M230.4 808.2L230.40 792.80A15.4 15.4 0 0 1 245.10 803.63Z" fill="#dc5328"/>
<path d="M230.4 808.2L245.10 803.63A15.4 15.4 0 1 1 215.61 812.50Z" fill="#ecd592"/>
<path d="M230.4 808.2L215.61 812.50A15.4 15.4 0 0 1 230.40 792.80Z" fill="#b7a0d8"/>
<text x="235.4" y="803.0" font-size="4.6" fill="#222" text-anchor="middle" stroke="#222" stroke-width="0.12">20.2</text>
<text x="232.6" y="817.2" font-size="4.6" fill="#222" text-anchor="middle" stroke="#222" stroke-width="0.12">50.3</text>
<text x="223.6" y="804.7" font-size="4.6" fill="#222" text-anchor="middle" stroke="#222" stroke-width="0.12">29.5</text>
<path d="M421.2 808.7L421.20 793.30A15.4 15.4 0 0 1 431.46 797.21Z" fill="#dc5328"/>
<path d="M421.2 808.7L431.46 797.21A15.4 15.4 0 1 1 408.63 799.81Z" fill="#ecd592"/>
<path d="M421.2 808.7L408.63 799.81A15.4 15.4 0 0 1 421.20 793.30Z" fill="#b7a0d8"/>
<text x="424.2" y="802.4" font-size="4.6" fill="#222" text-anchor="middle" stroke="#222" stroke-width="0.12">11.6</text>
<text x="422.1" y="818.0" font-size="4.6" fill="#222" text-anchor="middle" stroke="#222" stroke-width="0.12">73.2</text>
<text x="417.3" y="802.8" font-size="4.6" fill="#222" text-anchor="middle" stroke="#222" stroke-width="0.12">15.2</text>
<path d="M230.7 977.4L230.70 961.80A15.6 15.6 0 0 1 246.30 977.20Z" fill="#dc5328"/>
<path d="M230.7 977.4L246.30 977.20A15.6 15.6 0 1 1 216.76 970.41Z" fill="#ecd592"/>
<path d="M230.7 977.4L216.76 970.41A15.6 15.6 0 0 1 230.70 961.80Z" fill="#b7a0d8"/>
<text x="236.7" y="972.9" font-size="4.6" fill="#222" text-anchor="middle" stroke="#222" stroke-width="0.12">24.8</text>
<text x="229.0" y="986.6" font-size="4.6" fill="#222" text-anchor="middle" stroke="#222" stroke-width="0.12">57.6</text>
<text x="226.2" y="971.7" font-size="4.6" fill="#222" text-anchor="middle" stroke="#222" stroke-width="0.12">17.6</text>
<path d="M421.2 977.4L421.20 961.80A15.6 15.6 0 0 1 434.32 968.96Z" fill="#dc5328"/>
<path d="M421.2 977.4L434.32 968.96A15.6 15.6 0 1 1 407.72 969.54Z" fill="#ecd592"/>
<path d="M421.2 977.4L407.72 969.54A15.6 15.6 0 0 1 421.20 961.80Z" fill="#b7a0d8"/>
<text x="425.3" y="971.5" font-size="4.6" fill="#222" text-anchor="middle" stroke="#222" stroke-width="0.12">15.9</text>
<text x="421.4" y="986.8" font-size="4.6" fill="#222" text-anchor="middle" stroke="#222" stroke-width="0.12">67.5</text>
<text x="416.9" y="971.6" font-size="4.6" fill="#222" text-anchor="middle" stroke="#222" stroke-width="0.12">16.6</text>
<path d="M454.7 806.8L454.70 791.20A15.6 15.6 0 0 1 467.66 798.11Z" fill="#dc5328"/>
<path d="M454.7 806.8L467.66 798.11A15.6 15.6 0 1 1 440.67 813.62Z" fill="#ecd592"/>
<path d="M454.7 806.8L440.67 813.62A15.6 15.6 0 0 1 454.70 791.20Z" fill="#b7a0d8"/>
<text x="458.7" y="800.8" font-size="4.6" fill="#222" text-anchor="middle" stroke="#222" stroke-width="0.12">15.6</text>
<text x="458.6" y="815.2" font-size="4.6" fill="#222" text-anchor="middle" stroke="#222" stroke-width="0.12">52.2</text>
<text x="447.4" y="803.8" font-size="4.6" fill="#222" text-anchor="middle" stroke="#222" stroke-width="0.12">32.2</text>
<path d="M641.9 806.8L641.90 791.20A15.6 15.6 0 0 1 656.44 801.15Z" fill="#dc5328"/>
<path d="M641.9 806.8L656.44 801.15A15.6 15.6 0 1 1 628.37 799.03Z" fill="#ecd592"/>
<path d="M641.9 806.8L628.37 799.03A15.6 15.6 0 0 1 641.90 791.20Z" fill="#b7a0d8"/>
<text x="646.7" y="801.3" font-size="4.6" fill="#222" text-anchor="middle" stroke="#222" stroke-width="0.12">19.1</text>
<text x="641.3" y="816.2" font-size="4.6" fill="#222" text-anchor="middle" stroke="#222" stroke-width="0.12">64.2</text>
<text x="637.6" y="801.0" font-size="4.6" fill="#222" text-anchor="middle" stroke="#222" stroke-width="0.12">16.7</text>
<path d="M454.3 976.3L454.30 960.70A15.6 15.6 0 0 1 469.55 972.99Z" fill="#dc5328"/>
<path d="M454.3 976.3L469.55 972.99A15.6 15.6 0 1 1 440.02 970.01Z" fill="#ecd592"/>
<path d="M454.3 976.3L440.02 970.01A15.6 15.6 0 0 1 454.30 960.70Z" fill="#b7a0d8"/>
<text x="459.7" y="971.2" font-size="4.6" fill="#222" text-anchor="middle" stroke="#222" stroke-width="0.12">21.6</text>
<text x="453.5" y="985.7" font-size="4.6" fill="#222" text-anchor="middle" stroke="#222" stroke-width="0.12">60</text>
<text x="449.6" y="970.7" font-size="4.6" fill="#222" text-anchor="middle" stroke="#222" stroke-width="0.12">18.4</text>
<path d="M641.9 976.2L641.90 960.60A15.6 15.6 0 0 1 657.49 976.69Z" fill="#dc5328"/>
<path d="M641.9 976.2L657.49 976.69A15.6 15.6 0 1 1 628.94 967.51Z" fill="#ecd592"/>
<path d="M641.9 976.2L628.94 967.51A15.6 15.6 0 0 1 641.90 960.60Z" fill="#b7a0d8"/>
<text x="648.1" y="971.8" font-size="4.6" fill="#222" text-anchor="middle" stroke="#222" stroke-width="0.12">25.5</text>
<text x="639.5" y="985.2" font-size="4.6" fill="#222" text-anchor="middle" stroke="#222" stroke-width="0.12">58.9</text>
<text x="637.9" y="970.2" font-size="4.6" fill="#222" text-anchor="middle" stroke="#222" stroke-width="0.12">15.6</text>
<text x="250.3" y="814.0" font-size="9.0" fill="#222" stroke="#222" stroke-width="0.18">25.4%</text>
<text x="403.9" y="813.8" font-size="9.0" fill="#222" text-anchor="end" stroke="#222" stroke-width="0.18">24.0%</text>
<text x="249.7" y="989.2" font-size="9.0" fill="#222" stroke="#222" stroke-width="0.18">45.6%</text>
<text x="403.9" y="989.2" font-size="9.0" fill="#222" text-anchor="end" stroke="#222" stroke-width="0.18">5.0%</text>
<text x="471.4" y="813.5" font-size="9.0" fill="#222" stroke="#222" stroke-width="0.18">17.3%</text>
<text x="626.7" y="815.0" font-size="9.0" fill="#222" text-anchor="end" stroke="#222" stroke-width="0.18">34.5%</text>
<text x="474.0" y="989.2" font-size="9.0" fill="#222" stroke="#222" stroke-width="0.18">40.8%</text>
<text x="624.8" y="986.2" font-size="9.0" fill="#222" text-anchor="end" stroke="#222" stroke-width="0.18">7.4%</text>
<text x="310.0" y="808.7" font-size="10" fill="#f5b325" stroke="#f5b325" stroke-width="0.18">Primary</text>
<text x="526.8" y="808.7" font-size="10" fill="#1f7a3a" stroke="#1f7a3a" stroke-width="0.18">Recurrent</text>
<ellipse filter="url(#fj1)" cx="301.1" cy="916.5" rx="40" ry="22" transform="rotate(-43 301.1 916.5)" fill="#ecd592" fill-opacity="0.6"/>
<ellipse filter="url(#fj1)" cx="301.1" cy="867.2" rx="30" ry="20" transform="rotate(43 301.1 867.2)" fill="#ecd592" fill-opacity="0.55"/>
<ellipse filter="url(#fj1)" cx="355.9" cy="867.2" rx="28" ry="18" transform="rotate(-43 355.9 867.2)" fill="#ecd592" fill-opacity="0.6"/>
<ellipse filter="url(#fj1)" cx="350.1" cy="913.1" rx="28" ry="16" transform="rotate(43 350.1 913.1)" fill="#ecd592" fill-opacity="0.45"/>
<ellipse filter="url(#fj1)" cx="328.5" cy="892.9" rx="22" ry="18" transform="rotate(0 328.5 892.9)" fill="#ecd592" fill-opacity="0.7"/>
<g fill="#ecd592"><circle cx="313.2" cy="916.9" r="1.9"/><circle cx="290.4" cy="926.2" r="1.9"/><circle cx="278.5" cy="924.1" r="1.9"/><circle cx="287.4" cy="858.0" r="1.9"/><circle cx="307.9" cy="856.3" r="1.9"/><circle cx="288.5" cy="931.1" r="1.9"/><circle cx="360.8" cy="855.1" r="1.9"/><circle cx="348.2" cy="858.3" r="1.9"/><circle cx="304.9" cy="880.6" r="1.9"/><circle cx="301.0" cy="852.8" r="1.9"/><circle cx="345.8" cy="899.5" r="1.9"/><circle cx="342.6" cy="918.4" r="1.9"/><circle cx="274.5" cy="855.1" r="1.9"/><circle cx="305.0" cy="920.6" r="1.9"/><circle cx="297.0" cy="877.6" r="1.9"/><circle cx="344.2" cy="910.9" r="1.9"/><circle cx="366.1" cy="862.7" r="1.9"/><circle cx="310.7" cy="866.3" r="1.9"/><circle cx="286.9" cy="855.0" r="1.9"/><circle cx="373.6" cy="868.3" r="1.9"/><circle cx="275.1" cy="929.4" r="1.9"/><circle cx="355.1" cy="903.8" r="1.9"/><circle cx="281.2" cy="938.3" r="1.9"/><circle cx="301.1" cy="884.3" r="1.9"/><circle cx="292.0" cy="928.9" r="1.9"/><circle cx="361.5" cy="935.0" r="1.9"/><circle cx="286.2" cy="933.3" r="1.9"/><circle cx="309.1" cy="881.2" r="1.9"/><circle cx="285.7" cy="857.7" r="1.9"/><circle cx="306.5" cy="918.7" r="1.9"/><circle cx="309.7" cy="927.9" r="1.9"/><circle cx="345.9" cy="891.1" r="1.9"/><circle cx="296.9" cy="853.5" r="1.9"/><circle cx="311.3" cy="926.2" r="1.9"/><circle cx="339.5" cy="881.5" r="1.9"/><circle cx="367.4" cy="860.0" r="1.9"/><circle cx="334.1" cy="871.0" r="1.9"/><circle cx="312.4" cy="916.1" r="1.9"/><circle cx="291.9" cy="919.7" r="1.9"/><circle cx="354.3" cy="871.5" r="1.9"/><circle cx="360.4" cy="873.4" r="1.9"/><circle cx="281.5" cy="841.9" r="1.9"/><circle cx="303.2" cy="879.7" r="1.9"/><circle cx="373.0" cy="923.4" r="1.9"/><circle cx="380.6" cy="846.4" r="1.9"/><circle cx="311.5" cy="859.4" r="1.9"/><circle cx="317.2" cy="870.1" r="1.9"/><circle cx="352.3" cy="873.8" r="1.9"/><circle cx="284.0" cy="859.1" r="1.9"/><circle cx="281.6" cy="925.8" r="1.9"/><circle cx="273.0" cy="929.8" r="1.9"/><circle cx="295.3" cy="929.0" r="1.9"/><circle cx="271.0" cy="931.5" r="1.9"/><circle cx="307.4" cy="917.8" r="1.9"/><circle cx="342.6" cy="870.2" r="1.9"/><circle cx="367.0" cy="845.8" r="1.9"/><circle cx="357.5" cy="907.6" r="1.9"/><circle cx="335.6" cy="905.3" r="1.9"/><circle cx="366.0" cy="863.9" r="1.9"/><circle cx="341.6" cy="899.1" r="1.9"/><circle cx="380.5" cy="848.6" r="1.9"/><circle cx="284.2" cy="847.8" r="1.9"/><circle cx="378.8" cy="851.1" r="1.9"/><circle cx="357.6" cy="923.7" r="1.9"/><circle cx="341.2" cy="874.2" r="1.9"/><circle cx="378.8" cy="929.9" r="1.9"/><circle cx="347.6" cy="867.1" r="1.9"/><circle cx="281.5" cy="843.0" r="1.9"/><circle cx="372.3" cy="937.6" r="1.9"/><circle cx="299.7" cy="934.2" r="1.9"/><circle cx="292.9" cy="940.4" r="1.9"/><circle cx="308.4" cy="882.7" r="1.9"/><circle cx="281.1" cy="863.8" r="1.9"/><circle cx="327.0" cy="874.0" r="1.9"/><circle cx="309.3" cy="860.0" r="1.9"/><circle cx="349.0" cy="914.1" r="1.9"/><circle cx="310.7" cy="885.3" r="1.9"/><circle cx="305.2" cy="932.2" r="1.9"/><circle cx="340.7" cy="916.5" r="1.9"/><circle cx="342.8" cy="880.0" r="1.9"/><circle cx="342.6" cy="865.2" r="1.9"/><circle cx="355.9" cy="909.5" r="1.9"/><circle cx="314.0" cy="889.3" r="1.9"/><circle cx="353.4" cy="928.1" r="1.9"/><circle cx="343.3" cy="877.6" r="1.9"/><circle cx="293.5" cy="920.1" r="1.9"/><circle cx="374.9" cy="867.1" r="1.9"/><circle cx="275.0" cy="927.5" r="1.9"/><circle cx="354.7" cy="859.2" r="1.9"/><circle cx="372.9" cy="918.5" r="1.9"/><circle cx="343.1" cy="862.0" r="1.9"/><circle cx="289.0" cy="837.7" r="1.9"/><circle cx="355.2" cy="880.1" r="1.9"/><circle cx="293.5" cy="874.0" r="1.9"/><circle cx="369.9" cy="914.1" r="1.9"/><circle cx="343.0" cy="880.5" r="1.9"/><circle cx="307.4" cy="879.1" r="1.9"/><circle cx="362.8" cy="855.9" r="1.9"/><circle cx="308.0" cy="904.6" r="1.9"/><circle cx="284.2" cy="945.4" r="1.9"/><circle cx="352.2" cy="880.8" r="1.9"/><circle cx="358.2" cy="857.2" r="1.9"/><circle cx="346.5" cy="884.1" r="1.9"/><circle cx="302.6" cy="919.4" r="1.9"/><circle cx="293.6" cy="848.5" r="1.9"/><circle cx="370.1" cy="942.5" r="1.9"/><circle cx="359.0" cy="939.5" r="1.9"/><circle cx="307.9" cy="923.1" r="1.9"/><circle cx="305.1" cy="927.0" r="1.9"/><circle cx="319.2" cy="905.1" r="1.9"/><circle cx="359.6" cy="880.2" r="1.9"/><circle cx="301.1" cy="881.9" r="1.9"/><circle cx="344.2" cy="924.2" r="1.9"/><circle cx="375.7" cy="843.9" r="1.9"/><circle cx="374.7" cy="924.4" r="1.9"/><circle cx="289.8" cy="841.2" r="1.9"/><circle cx="285.0" cy="841.9" r="1.9"/><circle cx="293.5" cy="854.1" r="1.9"/><circle cx="304.0" cy="922.5" r="1.9"/><circle cx="348.4" cy="876.4" r="1.9"/><circle cx="285.7" cy="866.6" r="1.9"/><circle cx="348.2" cy="928.3" r="1.9"/><circle cx="335.4" cy="915.5" r="1.9"/><circle cx="386.7" cy="853.6" r="1.9"/><circle cx="309.5" cy="859.8" r="1.9"/><circle cx="364.5" cy="913.4" r="1.9"/><circle cx="292.4" cy="921.2" r="1.9"/><circle cx="293.7" cy="938.9" r="1.9"/><circle cx="308.0" cy="903.0" r="1.9"/><circle cx="362.8" cy="844.5" r="1.9"/><circle cx="294.6" cy="868.0" r="1.9"/><circle cx="276.9" cy="847.3" r="1.9"/><circle cx="345.4" cy="908.2" r="1.9"/><circle cx="310.7" cy="864.5" r="1.9"/><circle cx="307.1" cy="895.0" r="1.9"/><circle cx="354.6" cy="919.5" r="1.9"/><circle cx="351.8" cy="931.9" r="1.9"/><circle cx="308.0" cy="894.6" r="1.9"/><circle cx="283.4" cy="858.7" r="1.9"/><circle cx="291.2" cy="927.1" r="1.9"/><circle cx="276.7" cy="854.3" r="1.9"/><circle cx="302.2" cy="933.8" r="1.9"/><circle cx="361.0" cy="919.8" r="1.9"/><circle cx="312.0" cy="919.3" r="1.9"/><circle cx="333.6" cy="874.8" r="1.9"/><circle cx="341.8" cy="917.4" r="1.9"/><circle cx="341.1" cy="916.9" r="1.9"/><circle cx="315.1" cy="907.2" r="1.9"/><circle cx="381.3" cy="862.2" r="1.9"/><circle cx="368.2" cy="945.9" r="1.9"/><circle cx="315.5" cy="900.0" r="1.9"/><circle cx="283.8" cy="919.1" r="1.9"/><circle cx="317.1" cy="877.9" r="1.9"/><circle cx="304.1" cy="871.5" r="1.9"/><circle cx="343.0" cy="884.9" r="1.9"/><circle cx="358.5" cy="922.6" r="1.9"/><circle cx="311.3" cy="918.7" r="1.9"/><circle cx="292.1" cy="933.5" r="1.9"/><circle cx="306.5" cy="914.5" r="1.9"/><circle cx="303.7" cy="887.8" r="1.9"/></g>
<g fill="#b7a0d8"><circle cx="311.5" cy="871.9" r="1.8"/><circle cx="295.1" cy="873.0" r="1.8"/><circle cx="274.6" cy="851.8" r="1.8"/><circle cx="274.6" cy="853.2" r="1.8"/><circle cx="280.3" cy="861.1" r="1.8"/><circle cx="307.0" cy="855.9" r="1.8"/><circle cx="282.2" cy="859.2" r="1.8"/><circle cx="309.7" cy="860.2" r="1.8"/><circle cx="311.2" cy="854.6" r="1.8"/><circle cx="292.3" cy="863.6" r="1.8"/><circle cx="299.7" cy="869.4" r="1.8"/><circle cx="273.2" cy="851.8" r="1.8"/><circle cx="272.7" cy="867.7" r="1.8"/><circle cx="289.7" cy="859.8" r="1.8"/><circle cx="269.6" cy="868.4" r="1.8"/><circle cx="310.7" cy="846.4" r="1.8"/><circle cx="311.5" cy="859.6" r="1.8"/><circle cx="273.2" cy="846.8" r="1.8"/><circle cx="298.8" cy="868.4" r="1.8"/><circle cx="286.0" cy="870.3" r="1.8"/><circle cx="268.1" cy="870.3" r="1.8"/><circle cx="275.0" cy="851.2" r="1.8"/><circle cx="349.1" cy="913.2" r="1.8"/><circle cx="369.3" cy="918.1" r="1.8"/><circle cx="352.4" cy="926.7" r="1.8"/><circle cx="352.5" cy="912.7" r="1.8"/><circle cx="349.5" cy="920.3" r="1.8"/><circle cx="369.7" cy="929.9" r="1.8"/><circle cx="337.8" cy="914.3" r="1.8"/><circle cx="362.1" cy="917.9" r="1.8"/><circle cx="363.5" cy="930.3" r="1.8"/><circle cx="338.6" cy="923.5" r="1.8"/><circle cx="390.8" cy="847.4" r="1.8"/><circle cx="390.0" cy="839.2" r="1.8"/><circle cx="400.6" cy="847.5" r="1.8"/><circle cx="269.7" cy="944.2" r="1.8"/><circle cx="265.1" cy="939.8" r="1.8"/><circle cx="273.4" cy="948.5" r="1.8"/></g>
<ellipse filter="url(#fj1)" cx="306.9" cy="913.1" rx="34" ry="18" transform="rotate(-43 306.9 913.1)" fill="#dc5328" fill-opacity="0.55"/>
<ellipse filter="url(#fj1)" cx="350.1" cy="872.6" rx="22" ry="13" transform="rotate(-43 350.1 872.6)" fill="#dc5328" fill-opacity="0.5"/>
<ellipse filter="url(#fj1)" cx="342.9" cy="906.4" rx="18" ry="9" transform="rotate(43 342.9 906.4)" fill="#dc5328" fill-opacity="0.35"/>
<path filter="url(#fj2)" fill="#dc5328" d="M293.0 857.0L328.1 885.5L334.7 874.2L342.3 870.4L349.9 871.3L354.6 874.2L354.6 893.1L344.2 897.0L334.7 902.6L326.2 897.0L317.6 906.4L310.0 915.9L302.4 925.4L293.0 935.0L284.0 941.0L272.0 941.0L270.0 934.0L272.0 925.0L277.0 916.0L282.0 906.0L287.0 897.0L292.0 890.0L296.0 878.0Z"/>
<path fill="#dc5328" d="M293.0 857.0L328.5 889.5L316.0 890.0L294.0 866.0Z"/>
<g fill="#dc5328"><circle cx="301.1" cy="928.8" r="1.7"/><circle cx="313.0" cy="913.9" r="1.7"/><circle cx="279.0" cy="936.8" r="1.7"/><circle cx="283.0" cy="936.2" r="1.7"/><circle cx="280.7" cy="926.2" r="1.7"/><circle cx="301.4" cy="858.5" r="1.7"/><circle cx="347.8" cy="885.8" r="1.7"/><circle cx="303.8" cy="917.3" r="1.7"/><circle cx="378.0" cy="934.2" r="1.7"/><circle cx="354.2" cy="858.5" r="1.7"/><circle cx="297.9" cy="924.4" r="1.7"/><circle cx="278.6" cy="929.3" r="1.7"/><circle cx="354.8" cy="881.6" r="1.7"/><circle cx="300.5" cy="922.6" r="1.7"/><circle cx="361.0" cy="911.3" r="1.7"/><circle cx="340.6" cy="873.2" r="1.7"/><circle cx="295.1" cy="913.1" r="1.7"/><circle cx="316.2" cy="906.2" r="1.7"/><circle cx="345.5" cy="905.2" r="1.7"/><circle cx="353.7" cy="858.1" r="1.7"/><circle cx="374.7" cy="854.8" r="1.7"/><circle cx="286.3" cy="928.0" r="1.7"/><circle cx="305.8" cy="920.5" r="1.7"/><circle cx="353.8" cy="908.3" r="1.7"/><circle cx="340.4" cy="872.1" r="1.7"/><circle cx="360.6" cy="913.7" r="1.7"/><circle cx="295.1" cy="921.4" r="1.7"/><circle cx="358.9" cy="853.8" r="1.7"/><circle cx="346.2" cy="868.0" r="1.7"/><circle cx="376.0" cy="847.2" r="1.7"/><circle cx="301.4" cy="916.2" r="1.7"/><circle cx="281.9" cy="938.5" r="1.7"/><circle cx="283.8" cy="860.9" r="1.7"/><circle cx="375.8" cy="857.1" r="1.7"/><circle cx="355.2" cy="860.5" r="1.7"/><circle cx="343.5" cy="864.9" r="1.7"/><circle cx="292.2" cy="862.6" r="1.7"/><circle cx="352.6" cy="858.8" r="1.7"/><circle cx="336.3" cy="875.1" r="1.7"/><circle cx="371.7" cy="847.4" r="1.7"/><circle cx="284.6" cy="848.4" r="1.7"/><circle cx="312.2" cy="910.1" r="1.7"/><circle cx="333.2" cy="874.8" r="1.7"/><circle cx="356.5" cy="873.7" r="1.7"/><circle cx="351.8" cy="880.4" r="1.7"/><circle cx="289.9" cy="935.3" r="1.7"/><circle cx="292.0" cy="927.6" r="1.7"/><circle cx="300.5" cy="921.1" r="1.7"/><circle cx="305.0" cy="926.9" r="1.7"/><circle cx="300.5" cy="907.0" r="1.7"/><circle cx="303.3" cy="875.0" r="1.7"/><circle cx="307.0" cy="915.9" r="1.7"/><circle cx="302.1" cy="905.8" r="1.7"/><circle cx="365.6" cy="853.3" r="1.7"/><circle cx="376.5" cy="856.1" r="1.7"/><circle cx="289.4" cy="944.1" r="1.7"/><circle cx="282.3" cy="925.8" r="1.7"/><circle cx="333.1" cy="875.7" r="1.7"/><circle cx="281.7" cy="924.8" r="1.7"/><circle cx="378.5" cy="926.1" r="1.7"/><circle cx="361.0" cy="867.6" r="1.7"/><circle cx="351.9" cy="870.5" r="1.7"/><circle cx="380.0" cy="856.9" r="1.7"/><circle cx="296.9" cy="909.1" r="1.7"/><circle cx="349.6" cy="908.3" r="1.7"/><circle cx="345.4" cy="876.2" r="1.7"/><circle cx="359.2" cy="928.6" r="1.7"/><circle cx="343.7" cy="869.7" r="1.7"/><circle cx="295.1" cy="919.0" r="1.7"/><circle cx="304.9" cy="906.2" r="1.7"/><circle cx="359.2" cy="908.1" r="1.7"/><circle cx="363.6" cy="871.2" r="1.7"/><circle cx="362.0" cy="861.8" r="1.7"/><circle cx="380.3" cy="854.8" r="1.7"/><circle cx="366.2" cy="858.0" r="1.7"/><circle cx="368.1" cy="868.6" r="1.7"/><circle cx="358.3" cy="867.5" r="1.7"/><circle cx="311.8" cy="902.6" r="1.7"/><circle cx="316.5" cy="870.5" r="1.7"/><circle cx="304.3" cy="922.2" r="1.7"/><circle cx="343.5" cy="871.6" r="1.7"/><circle cx="367.1" cy="858.6" r="1.7"/><circle cx="342.6" cy="871.5" r="1.7"/><circle cx="310.3" cy="919.5" r="1.7"/><circle cx="294.1" cy="864.9" r="1.7"/><circle cx="312.6" cy="876.0" r="1.7"/><circle cx="311.7" cy="912.4" r="1.7"/><circle cx="360.8" cy="870.0" r="1.7"/><circle cx="359.7" cy="867.7" r="1.7"/><circle cx="306.7" cy="914.5" r="1.7"/><circle cx="368.1" cy="866.2" r="1.7"/><circle cx="381.9" cy="857.1" r="1.7"/><circle cx="306.4" cy="912.1" r="1.7"/><circle cx="281.3" cy="937.5" r="1.7"/><circle cx="366.1" cy="857.8" r="1.7"/><circle cx="344.0" cy="874.6" r="1.7"/><circle cx="286.9" cy="923.8" r="1.7"/><circle cx="324.6" cy="909.8" r="1.7"/><circle cx="371.7" cy="845.8" r="1.7"/><circle cx="359.8" cy="878.0" r="1.7"/><circle cx="290.0" cy="931.9" r="1.7"/><circle cx="300.5" cy="907.5" r="1.7"/><circle cx="359.5" cy="874.0" r="1.7"/><circle cx="306.8" cy="916.3" r="1.7"/><circle cx="312.8" cy="909.4" r="1.7"/><circle cx="368.0" cy="868.1" r="1.7"/><circle cx="297.7" cy="930.7" r="1.7"/><circle cx="351.0" cy="867.2" r="1.7"/><circle cx="373.8" cy="856.1" r="1.7"/><circle cx="351.1" cy="879.0" r="1.7"/></g>
<line x1="328.5" y1="818.6" x2="328.5" y2="966.8" stroke="#cfcfcf" stroke-width="0.6" stroke-dasharray="1 1.2"/>
<line x1="249.7" y1="892.9" x2="406.9" y2="892.9" stroke="#cfcfcf" stroke-width="0.6" stroke-dasharray="1 1.2"/>
<rect x="249.7" y="818.6" width="157.2" height="148.2" fill="none" stroke="#333" stroke-width="0.9"/>
<line x1="247.9" y1="825.4" x2="249.7" y2="825.4" stroke="#444" stroke-width="0.5"/>
<text x="247.3" y="827.3" font-size="5.4" fill="#444" text-anchor="end" stroke="#444" stroke-width="0.12">1.0</text>
<line x1="400.5" y1="966.8" x2="400.5" y2="968.6" stroke="#444" stroke-width="0.5"/>
<text x="400.5" y="974.2" font-size="5.4" fill="#444" text-anchor="middle" stroke="#444" stroke-width="0.12">1.0</text>
<line x1="247.9" y1="859.1" x2="249.7" y2="859.1" stroke="#444" stroke-width="0.5"/>
<text x="247.3" y="861.0" font-size="5.4" fill="#444" text-anchor="end" stroke="#444" stroke-width="0.12">0.5</text>
<line x1="364.5" y1="966.8" x2="364.5" y2="968.6" stroke="#444" stroke-width="0.5"/>
<text x="364.5" y="974.2" font-size="5.4" fill="#444" text-anchor="middle" stroke="#444" stroke-width="0.12">0.5</text>
<line x1="247.9" y1="892.9" x2="249.7" y2="892.9" stroke="#444" stroke-width="0.5"/>
<text x="247.3" y="894.8" font-size="5.4" fill="#444" text-anchor="end" stroke="#444" stroke-width="0.12">0.0</text>
<line x1="328.5" y1="966.8" x2="328.5" y2="968.6" stroke="#444" stroke-width="0.5"/>
<text x="328.5" y="974.2" font-size="5.4" fill="#444" text-anchor="middle" stroke="#444" stroke-width="0.12">0.0</text>
<line x1="247.9" y1="926.6" x2="249.7" y2="926.6" stroke="#444" stroke-width="0.5"/>
<text x="247.3" y="928.5" font-size="5.4" fill="#444" text-anchor="end" stroke="#444" stroke-width="0.12">−0.5</text>
<line x1="292.5" y1="966.8" x2="292.5" y2="968.6" stroke="#444" stroke-width="0.5"/>
<text x="292.5" y="974.2" font-size="5.4" fill="#444" text-anchor="middle" stroke="#444" stroke-width="0.12">−0.5</text>
<line x1="247.9" y1="960.4" x2="249.7" y2="960.4" stroke="#444" stroke-width="0.5"/>
<text x="247.3" y="962.3" font-size="5.4" fill="#444" text-anchor="end" stroke="#444" stroke-width="0.12">−1.0</text>
<line x1="256.5" y1="966.8" x2="256.5" y2="968.6" stroke="#444" stroke-width="0.5"/>
<text x="256.5" y="974.2" font-size="5.4" fill="#444" text-anchor="middle" stroke="#444" stroke-width="0.12">−1.0</text>
<ellipse filter="url(#fj1)" cx="521.2" cy="915.9" rx="40" ry="22" transform="rotate(-43 521.2 915.9)" fill="#ecd592" fill-opacity="0.6"/>
<ellipse filter="url(#fj1)" cx="521.2" cy="866.5" rx="30" ry="20" transform="rotate(43 521.2 866.5)" fill="#ecd592" fill-opacity="0.55"/>
<ellipse filter="url(#fj1)" cx="576.0" cy="866.5" rx="28" ry="18" transform="rotate(-43 576.0 866.5)" fill="#ecd592" fill-opacity="0.6"/>
<ellipse filter="url(#fj1)" cx="570.2" cy="912.5" rx="28" ry="16" transform="rotate(43 570.2 912.5)" fill="#ecd592" fill-opacity="0.45"/>
<ellipse filter="url(#fj1)" cx="548.6" cy="892.2" rx="22" ry="18" transform="rotate(0 548.6 892.2)" fill="#ecd592" fill-opacity="0.7"/>
<ellipse filter="url(#fj1)" cx="568" cy="912" rx="20" ry="10" transform="rotate(45 568 912)" fill="#ecd592" fill-opacity="0.6"/>
<g fill="#ecd592"><circle cx="584.7" cy="846.5" r="1.9"/><circle cx="597.0" cy="935.8" r="1.9"/><circle cx="502.0" cy="933.0" r="1.9"/><circle cx="524.8" cy="861.3" r="1.9"/><circle cx="520.9" cy="879.0" r="1.9"/><circle cx="580.1" cy="855.2" r="1.9"/><circle cx="588.2" cy="870.3" r="1.9"/><circle cx="523.2" cy="851.5" r="1.9"/><circle cx="508.1" cy="928.7" r="1.9"/><circle cx="579.9" cy="915.5" r="1.9"/><circle cx="584.3" cy="840.0" r="1.9"/><circle cx="523.2" cy="920.5" r="1.9"/><circle cx="503.4" cy="841.6" r="1.9"/><circle cx="531.4" cy="890.1" r="1.9"/><circle cx="567.9" cy="896.0" r="1.9"/><circle cx="507.4" cy="855.4" r="1.9"/><circle cx="509.2" cy="937.2" r="1.9"/><circle cx="592.5" cy="864.5" r="1.9"/><circle cx="599.4" cy="921.0" r="1.9"/><circle cx="581.7" cy="909.8" r="1.9"/><circle cx="562.9" cy="914.4" r="1.9"/><circle cx="572.7" cy="909.3" r="1.9"/><circle cx="565.2" cy="874.4" r="1.9"/><circle cx="537.0" cy="915.5" r="1.9"/><circle cx="502.0" cy="846.9" r="1.9"/><circle cx="567.8" cy="886.0" r="1.9"/><circle cx="495.0" cy="935.7" r="1.9"/><circle cx="581.3" cy="864.3" r="1.9"/><circle cx="495.3" cy="924.6" r="1.9"/><circle cx="572.8" cy="875.7" r="1.9"/><circle cx="498.3" cy="858.6" r="1.9"/><circle cx="585.0" cy="845.9" r="1.9"/><circle cx="508.0" cy="860.8" r="1.9"/><circle cx="582.1" cy="860.0" r="1.9"/><circle cx="516.3" cy="875.9" r="1.9"/><circle cx="514.8" cy="937.3" r="1.9"/><circle cx="505.7" cy="860.0" r="1.9"/><circle cx="567.7" cy="877.1" r="1.9"/><circle cx="600.2" cy="938.0" r="1.9"/><circle cx="539.3" cy="871.9" r="1.9"/><circle cx="506.6" cy="918.5" r="1.9"/><circle cx="581.2" cy="913.4" r="1.9"/><circle cx="589.0" cy="857.9" r="1.9"/><circle cx="499.2" cy="927.9" r="1.9"/><circle cx="562.3" cy="904.1" r="1.9"/><circle cx="588.8" cy="861.2" r="1.9"/><circle cx="521.8" cy="880.7" r="1.9"/><circle cx="532.7" cy="897.3" r="1.9"/><circle cx="564.6" cy="861.3" r="1.9"/><circle cx="516.8" cy="927.3" r="1.9"/><circle cx="508.9" cy="922.9" r="1.9"/><circle cx="582.4" cy="866.4" r="1.9"/><circle cx="498.8" cy="862.0" r="1.9"/><circle cx="502.7" cy="933.3" r="1.9"/><circle cx="575.9" cy="900.8" r="1.9"/><circle cx="531.8" cy="892.0" r="1.9"/><circle cx="563.5" cy="865.1" r="1.9"/><circle cx="514.3" cy="911.3" r="1.9"/><circle cx="500.1" cy="936.7" r="1.9"/><circle cx="586.1" cy="909.2" r="1.9"/><circle cx="586.8" cy="944.9" r="1.9"/><circle cx="510.2" cy="919.4" r="1.9"/><circle cx="528.9" cy="923.1" r="1.9"/><circle cx="567.8" cy="871.3" r="1.9"/><circle cx="537.4" cy="917.3" r="1.9"/><circle cx="598.0" cy="844.1" r="1.9"/><circle cx="509.1" cy="853.3" r="1.9"/><circle cx="520.9" cy="848.4" r="1.9"/><circle cx="539.9" cy="908.2" r="1.9"/><circle cx="565.3" cy="886.4" r="1.9"/><circle cx="592.6" cy="927.0" r="1.9"/><circle cx="583.6" cy="915.2" r="1.9"/><circle cx="533.4" cy="907.8" r="1.9"/><circle cx="505.3" cy="929.6" r="1.9"/><circle cx="551.9" cy="875.6" r="1.9"/><circle cx="573.6" cy="919.9" r="1.9"/><circle cx="564.5" cy="870.1" r="1.9"/><circle cx="511.1" cy="928.8" r="1.9"/><circle cx="577.8" cy="858.5" r="1.9"/><circle cx="562.0" cy="867.0" r="1.9"/><circle cx="550.8" cy="876.7" r="1.9"/><circle cx="591.9" cy="856.2" r="1.9"/><circle cx="568.3" cy="883.9" r="1.9"/><circle cx="554.5" cy="905.9" r="1.9"/><circle cx="509.7" cy="945.5" r="1.9"/><circle cx="490.3" cy="928.1" r="1.9"/><circle cx="599.6" cy="922.6" r="1.9"/><circle cx="509.5" cy="926.6" r="1.9"/><circle cx="503.6" cy="846.3" r="1.9"/><circle cx="579.1" cy="876.1" r="1.9"/><circle cx="594.3" cy="942.7" r="1.9"/><circle cx="511.8" cy="840.9" r="1.9"/><circle cx="563.7" cy="871.2" r="1.9"/><circle cx="575.6" cy="926.0" r="1.9"/><circle cx="587.5" cy="845.1" r="1.9"/><circle cx="515.8" cy="916.7" r="1.9"/><circle cx="497.8" cy="849.6" r="1.9"/><circle cx="518.4" cy="862.4" r="1.9"/><circle cx="588.9" cy="947.8" r="1.9"/><circle cx="519.9" cy="920.7" r="1.9"/><circle cx="535.4" cy="907.4" r="1.9"/><circle cx="512.1" cy="850.4" r="1.9"/><circle cx="500.8" cy="844.3" r="1.9"/><circle cx="497.2" cy="925.0" r="1.9"/><circle cx="568.6" cy="863.1" r="1.9"/><circle cx="505.5" cy="933.3" r="1.9"/><circle cx="593.0" cy="856.6" r="1.9"/><circle cx="580.2" cy="879.2" r="1.9"/><circle cx="574.9" cy="853.8" r="1.9"/><circle cx="526.2" cy="861.6" r="1.9"/><circle cx="527.9" cy="887.8" r="1.9"/><circle cx="569.0" cy="873.5" r="1.9"/><circle cx="507.2" cy="940.3" r="1.9"/><circle cx="572.8" cy="915.1" r="1.9"/><circle cx="558.8" cy="872.7" r="1.9"/><circle cx="531.7" cy="860.2" r="1.9"/><circle cx="590.5" cy="868.2" r="1.9"/><circle cx="534.4" cy="900.7" r="1.9"/><circle cx="586.6" cy="935.8" r="1.9"/><circle cx="511.3" cy="860.9" r="1.9"/><circle cx="507.1" cy="942.3" r="1.9"/><circle cx="599.2" cy="857.4" r="1.9"/><circle cx="580.5" cy="873.8" r="1.9"/><circle cx="591.9" cy="868.0" r="1.9"/><circle cx="565.4" cy="907.8" r="1.9"/><circle cx="564.3" cy="860.2" r="1.9"/><circle cx="529.8" cy="864.8" r="1.9"/><circle cx="548.9" cy="875.1" r="1.9"/><circle cx="607.5" cy="855.8" r="1.9"/><circle cx="522.4" cy="862.5" r="1.9"/><circle cx="587.5" cy="843.5" r="1.9"/><circle cx="534.0" cy="889.5" r="1.9"/><circle cx="573.3" cy="916.0" r="1.9"/><circle cx="560.7" cy="914.7" r="1.9"/><circle cx="532.0" cy="896.6" r="1.9"/><circle cx="526.3" cy="928.4" r="1.9"/><circle cx="580.3" cy="930.2" r="1.9"/><circle cx="584.9" cy="932.7" r="1.9"/><circle cx="509.5" cy="863.5" r="1.9"/><circle cx="531.7" cy="867.3" r="1.9"/><circle cx="605.7" cy="927.8" r="1.9"/><circle cx="571.6" cy="927.0" r="1.9"/><circle cx="524.6" cy="905.4" r="1.9"/><circle cx="582.9" cy="878.9" r="1.9"/><circle cx="587.2" cy="857.9" r="1.9"/><circle cx="519.3" cy="874.6" r="1.9"/><circle cx="525.1" cy="900.2" r="1.9"/><circle cx="591.8" cy="848.7" r="1.9"/><circle cx="512.7" cy="926.3" r="1.9"/><circle cx="528.0" cy="882.6" r="1.9"/><circle cx="566.1" cy="894.8" r="1.9"/><circle cx="521.9" cy="905.0" r="1.9"/><circle cx="581.6" cy="857.2" r="1.9"/><circle cx="513.7" cy="859.9" r="1.9"/><circle cx="578.2" cy="859.3" r="1.9"/><circle cx="520.3" cy="873.1" r="1.9"/><circle cx="498.0" cy="862.6" r="1.9"/><circle cx="583.7" cy="938.6" r="1.9"/><circle cx="579.5" cy="917.6" r="1.9"/><circle cx="582.7" cy="935.9" r="1.9"/></g>
<g fill="#b7a0d8"><circle cx="526.5" cy="855.6" r="1.8"/><circle cx="496.1" cy="857.2" r="1.8"/><circle cx="517.0" cy="854.4" r="1.8"/><circle cx="491.4" cy="866.1" r="1.8"/><circle cx="520.7" cy="846.8" r="1.8"/><circle cx="511.0" cy="857.1" r="1.8"/><circle cx="502.3" cy="867.8" r="1.8"/><circle cx="522.0" cy="857.4" r="1.8"/><circle cx="494.3" cy="853.0" r="1.8"/><circle cx="528.4" cy="851.2" r="1.8"/><circle cx="510.1" cy="858.0" r="1.8"/><circle cx="520.4" cy="858.9" r="1.8"/><circle cx="519.9" cy="877.5" r="1.8"/><circle cx="491.2" cy="864.3" r="1.8"/><circle cx="525.9" cy="872.3" r="1.8"/><circle cx="524.1" cy="867.5" r="1.8"/><circle cx="509.5" cy="855.0" r="1.8"/><circle cx="510.2" cy="849.1" r="1.8"/><circle cx="511.5" cy="861.1" r="1.8"/><circle cx="526.1" cy="876.1" r="1.8"/><circle cx="505.4" cy="858.1" r="1.8"/><circle cx="524.2" cy="859.4" r="1.8"/><circle cx="511.8" cy="852.1" r="1.8"/><circle cx="522.5" cy="866.5" r="1.8"/><circle cx="506.2" cy="846.0" r="1.8"/><circle cx="503.2" cy="873.2" r="1.8"/><circle cx="521.6" cy="877.3" r="1.8"/><circle cx="498.2" cy="861.1" r="1.8"/><circle cx="581.6" cy="856.8" r="1.8"/><circle cx="587.3" cy="837.3" r="1.8"/><circle cx="589.8" cy="841.3" r="1.8"/><circle cx="599.1" cy="857.1" r="1.8"/><circle cx="577.3" cy="851.1" r="1.8"/><circle cx="591.3" cy="848.0" r="1.8"/><circle cx="577.9" cy="845.4" r="1.8"/><circle cx="578.5" cy="863.5" r="1.8"/><circle cx="579.5" cy="837.6" r="1.8"/><circle cx="584.5" cy="851.1" r="1.8"/><circle cx="584.9" cy="856.3" r="1.8"/><circle cx="600.8" cy="845.8" r="1.8"/><circle cx="577.6" cy="916.8" r="1.8"/><circle cx="583.6" cy="921.4" r="1.8"/><circle cx="571.7" cy="927.2" r="1.8"/><circle cx="599.3" cy="929.7" r="1.8"/><circle cx="576.5" cy="930.0" r="1.8"/><circle cx="588.3" cy="931.6" r="1.8"/><circle cx="569.8" cy="923.8" r="1.8"/><circle cx="587.6" cy="919.0" r="1.8"/><circle cx="574.5" cy="919.7" r="1.8"/><circle cx="585.5" cy="932.0" r="1.8"/><circle cx="522.1" cy="934.7" r="1.8"/><circle cx="522.0" cy="933.0" r="1.8"/><circle cx="516.9" cy="936.5" r="1.8"/><circle cx="520.5" cy="930.3" r="1.8"/></g>
<ellipse filter="url(#fj1)" cx="527.0" cy="912.5" rx="34" ry="18" transform="rotate(-43 527.0 912.5)" fill="#dc5328" fill-opacity="0.55"/>
<ellipse filter="url(#fj1)" cx="570.2" cy="871.9" rx="22" ry="13" transform="rotate(-43 570.2 871.9)" fill="#dc5328" fill-opacity="0.5"/>
<ellipse filter="url(#fj1)" cx="563.0" cy="905.7" rx="18" ry="9" transform="rotate(43 563.0 905.7)" fill="#dc5328" fill-opacity="0.35"/>
<path filter="url(#fj2)" fill="#dc5328" d="M530.0 874.2L548.1 888.0L551.0 874.2L558.5 868.5L569.9 867.5L577.5 870.4L577.5 889.3L569.9 893.1L562.3 897.0L550.0 897.0L543.3 906.4L533.8 915.9L524.3 925.4L518.7 931.0L507.0 931.0L505.4 925.4L503.5 915.9L505.4 906.4L511.0 897.0L516.8 891.2Z"/>
<path fill="#dc5328" d="M530.0 874.2L548.5 889.5L536.0 890.0L530.0 881.0Z"/>
<g fill="#dc5328"><circle cx="520.9" cy="903.7" r="1.7"/><circle cx="523.7" cy="920.0" r="1.7"/><circle cx="498.8" cy="932.0" r="1.7"/><circle cx="577.7" cy="876.1" r="1.7"/><circle cx="507.3" cy="939.7" r="1.7"/><circle cx="596.2" cy="854.7" r="1.7"/><circle cx="592.9" cy="862.1" r="1.7"/><circle cx="537.2" cy="915.9" r="1.7"/><circle cx="582.9" cy="853.5" r="1.7"/><circle cx="575.9" cy="880.5" r="1.7"/><circle cx="499.0" cy="934.6" r="1.7"/><circle cx="502.6" cy="932.2" r="1.7"/><circle cx="574.1" cy="876.9" r="1.7"/><circle cx="500.2" cy="927.8" r="1.7"/><circle cx="566.3" cy="884.5" r="1.7"/><circle cx="515.6" cy="914.5" r="1.7"/><circle cx="591.4" cy="847.8" r="1.7"/><circle cx="564.6" cy="869.5" r="1.7"/><circle cx="532.7" cy="909.9" r="1.7"/><circle cx="596.9" cy="851.6" r="1.7"/><circle cx="590.8" cy="843.9" r="1.7"/><circle cx="576.8" cy="865.2" r="1.7"/><circle cx="513.2" cy="919.8" r="1.7"/><circle cx="569.5" cy="868.4" r="1.7"/><circle cx="596.8" cy="859.5" r="1.7"/><circle cx="557.3" cy="911.8" r="1.7"/><circle cx="502.0" cy="926.4" r="1.7"/><circle cx="534.7" cy="918.0" r="1.7"/><circle cx="510.9" cy="932.7" r="1.7"/><circle cx="518.5" cy="919.2" r="1.7"/><circle cx="579.6" cy="913.8" r="1.7"/><circle cx="587.7" cy="866.7" r="1.7"/><circle cx="582.4" cy="866.5" r="1.7"/><circle cx="590.5" cy="851.4" r="1.7"/><circle cx="574.1" cy="870.0" r="1.7"/><circle cx="521.4" cy="931.2" r="1.7"/><circle cx="501.8" cy="863.0" r="1.7"/><circle cx="585.0" cy="932.0" r="1.7"/><circle cx="589.7" cy="863.4" r="1.7"/><circle cx="587.4" cy="866.5" r="1.7"/><circle cx="587.4" cy="864.0" r="1.7"/><circle cx="509.6" cy="928.4" r="1.7"/><circle cx="593.7" cy="862.5" r="1.7"/><circle cx="585.0" cy="931.2" r="1.7"/><circle cx="510.7" cy="934.4" r="1.7"/><circle cx="529.9" cy="905.2" r="1.7"/><circle cx="519.6" cy="906.0" r="1.7"/><circle cx="578.3" cy="866.3" r="1.7"/><circle cx="599.2" cy="853.0" r="1.7"/><circle cx="521.5" cy="874.0" r="1.7"/><circle cx="586.1" cy="858.1" r="1.7"/><circle cx="583.8" cy="856.2" r="1.7"/><circle cx="505.1" cy="935.1" r="1.7"/><circle cx="564.0" cy="916.3" r="1.7"/><circle cx="593.3" cy="922.5" r="1.7"/><circle cx="515.2" cy="919.9" r="1.7"/><circle cx="591.2" cy="862.9" r="1.7"/><circle cx="573.1" cy="865.0" r="1.7"/><circle cx="529.5" cy="906.0" r="1.7"/><circle cx="577.8" cy="863.2" r="1.7"/><circle cx="588.0" cy="855.6" r="1.7"/><circle cx="511.8" cy="912.6" r="1.7"/><circle cx="523.8" cy="919.5" r="1.7"/><circle cx="528.8" cy="906.9" r="1.7"/><circle cx="576.8" cy="866.2" r="1.7"/><circle cx="520.0" cy="855.6" r="1.7"/><circle cx="532.3" cy="868.9" r="1.7"/><circle cx="530.4" cy="922.6" r="1.7"/><circle cx="522.7" cy="919.3" r="1.7"/><circle cx="522.1" cy="912.9" r="1.7"/><circle cx="564.8" cy="907.4" r="1.7"/><circle cx="509.1" cy="938.5" r="1.7"/><circle cx="565.5" cy="876.2" r="1.7"/><circle cx="566.7" cy="878.8" r="1.7"/><circle cx="512.3" cy="936.0" r="1.7"/><circle cx="531.7" cy="920.8" r="1.7"/><circle cx="506.4" cy="927.9" r="1.7"/><circle cx="593.3" cy="935.8" r="1.7"/><circle cx="541.1" cy="875.7" r="1.7"/><circle cx="532.9" cy="865.7" r="1.7"/><circle cx="519.7" cy="913.4" r="1.7"/><circle cx="579.4" cy="869.6" r="1.7"/><circle cx="582.1" cy="855.5" r="1.7"/><circle cx="583.3" cy="916.1" r="1.7"/><circle cx="566.4" cy="900.1" r="1.7"/><circle cx="577.4" cy="873.0" r="1.7"/><circle cx="597.7" cy="847.6" r="1.7"/><circle cx="553.4" cy="910.4" r="1.7"/><circle cx="518.1" cy="934.1" r="1.7"/><circle cx="568.3" cy="871.3" r="1.7"/><circle cx="593.7" cy="863.8" r="1.7"/><circle cx="537.1" cy="909.9" r="1.7"/><circle cx="526.3" cy="911.5" r="1.7"/><circle cx="562.3" cy="879.7" r="1.7"/><circle cx="568.9" cy="901.5" r="1.7"/><circle cx="515.5" cy="864.1" r="1.7"/><circle cx="513.5" cy="873.2" r="1.7"/><circle cx="573.4" cy="923.6" r="1.7"/><circle cx="569.4" cy="884.2" r="1.7"/><circle cx="552.2" cy="875.5" r="1.7"/><circle cx="512.1" cy="933.2" r="1.7"/><circle cx="515.4" cy="915.2" r="1.7"/><circle cx="524.8" cy="900.1" r="1.7"/><circle cx="578.7" cy="872.6" r="1.7"/><circle cx="508.4" cy="943.1" r="1.7"/><circle cx="583.9" cy="849.7" r="1.7"/><circle cx="511.7" cy="937.3" r="1.7"/><circle cx="518.0" cy="906.7" r="1.7"/><circle cx="570.4" cy="862.3" r="1.7"/><circle cx="582.9" cy="868.0" r="1.7"/></g>
<line x1="548.6" y1="818.6" x2="548.6" y2="966.4" stroke="#cfcfcf" stroke-width="0.6" stroke-dasharray="1 1.2"/>
<line x1="470.4" y1="892.2" x2="627.1" y2="892.2" stroke="#cfcfcf" stroke-width="0.6" stroke-dasharray="1 1.2"/>
<rect x="470.4" y="818.6" width="156.7" height="147.8" fill="none" stroke="#333" stroke-width="0.9"/>
<line x1="468.6" y1="824.6" x2="470.4" y2="824.6" stroke="#444" stroke-width="0.5"/>
<text x="468.0" y="826.5" font-size="5.4" fill="#444" text-anchor="end" stroke="#444" stroke-width="0.12">1.0</text>
<line x1="620.6" y1="966.4" x2="620.6" y2="968.2" stroke="#444" stroke-width="0.5"/>
<text x="620.6" y="973.8" font-size="5.4" fill="#444" text-anchor="middle" stroke="#444" stroke-width="0.12">1.0</text>
<line x1="468.6" y1="858.4" x2="470.4" y2="858.4" stroke="#444" stroke-width="0.5"/>
<text x="468.0" y="860.3" font-size="5.4" fill="#444" text-anchor="end" stroke="#444" stroke-width="0.12">0.5</text>
<line x1="584.6" y1="966.4" x2="584.6" y2="968.2" stroke="#444" stroke-width="0.5"/>
<text x="584.6" y="973.8" font-size="5.4" fill="#444" text-anchor="middle" stroke="#444" stroke-width="0.12">0.5</text>
<line x1="468.6" y1="892.2" x2="470.4" y2="892.2" stroke="#444" stroke-width="0.5"/>
<text x="468.0" y="894.1" font-size="5.4" fill="#444" text-anchor="end" stroke="#444" stroke-width="0.12">0.0</text>
<line x1="548.6" y1="966.4" x2="548.6" y2="968.2" stroke="#444" stroke-width="0.5"/>
<text x="548.6" y="973.8" font-size="5.4" fill="#444" text-anchor="middle" stroke="#444" stroke-width="0.12">0.0</text>
<line x1="468.6" y1="926.0" x2="470.4" y2="926.0" stroke="#444" stroke-width="0.5"/>
<text x="468.0" y="927.9" font-size="5.4" fill="#444" text-anchor="end" stroke="#444" stroke-width="0.12">−0.5</text>
<line x1="512.6" y1="966.4" x2="512.6" y2="968.2" stroke="#444" stroke-width="0.5"/>
<text x="512.6" y="973.8" font-size="5.4" fill="#444" text-anchor="middle" stroke="#444" stroke-width="0.12">−0.5</text>
<line x1="468.6" y1="959.8" x2="470.4" y2="959.8" stroke="#444" stroke-width="0.5"/>
<text x="468.0" y="961.7" font-size="5.4" fill="#444" text-anchor="end" stroke="#444" stroke-width="0.12">−1.0</text>
<line x1="476.6" y1="966.4" x2="476.6" y2="968.2" stroke="#444" stroke-width="0.5"/>
<text x="476.6" y="973.8" font-size="5.4" fill="#444" text-anchor="middle" stroke="#444" stroke-width="0.12">−1.0</text>
<text x="252.2" y="827.1" font-size="8.5" fill="#d9322e" stroke="#d9322e" stroke-width="0.18">MG1</text>
<text x="405.1" y="827.1" font-size="8.5" fill="#2f6fb0" text-anchor="end" stroke="#2f6fb0" stroke-width="0.18">MG2</text>
<text x="251.7" y="964.5" font-size="8.5" fill="#3aa64a" stroke="#3aa64a" stroke-width="0.18">MG3</text>
<text x="405.1" y="964.5" font-size="8.5" fill="#ee8e2d" text-anchor="end" stroke="#ee8e2d" stroke-width="0.18">MG4</text>
<line x1="277.8" y1="824.2" x2="379.5" y2="824.2" stroke="#111" stroke-width="0.9"/>
<path d="M274.8 824.2l4 -1.8v3.6z M382.5 824.2l-4 -1.8v3.6z" fill="#111"/>
<line x1="277.8" y1="961.7" x2="379.5" y2="961.7" stroke="#111" stroke-width="0.9"/>
<path d="M274.8 961.7l4 -1.8v3.6z M382.5 961.7l-4 -1.8v3.6z" fill="#111"/>
<line x1="262.0" y1="834.5" x2="262.0" y2="951.0" stroke="#111" stroke-width="0.9"/>
<path d="M262.0 831.5l-1.8 4h3.6z M262.0 954.0l-1.8 -4h3.6z" fill="#111"/>
<line x1="396.0" y1="834.5" x2="396.0" y2="951.0" stroke="#111" stroke-width="0.9"/>
<path d="M396.0 831.5l-1.8 4h3.6z M396.0 954.0l-1.8 -4h3.6z" fill="#111"/>
<text x="328.5" y="981.2" font-size="6" fill="#222" text-anchor="middle" stroke="#222" stroke-width="0.12">Relative meta−module score</text>
<text x="328.5" y="989.2" font-size="5.8" fill="#222" text-anchor="middle" stroke="#222" stroke-width="0.12">log2(|SC2 − SC1|+1)</text>
<text x="226.3" y="893.0" font-size="6" fill="#222" text-anchor="middle" transform="rotate(-90 226.3 893.0)" stroke="#222" stroke-width="0.12">Relative meta−module score</text>
<text x="235.4" y="893.0" font-size="5.8" fill="#222" text-anchor="middle" transform="rotate(-90 235.4 893.0)" stroke="#222" stroke-width="0.12">log2(|SC2 − SC1|+1)</text>
<text x="472.9" y="827.1" font-size="8.5" fill="#d9322e" stroke="#d9322e" stroke-width="0.18">MG1</text>
<text x="625.3" y="827.1" font-size="8.5" fill="#2f6fb0" text-anchor="end" stroke="#2f6fb0" stroke-width="0.18">MG2</text>
<text x="472.4" y="964.5" font-size="8.5" fill="#3aa64a" stroke="#3aa64a" stroke-width="0.18">MG3</text>
<text x="625.3" y="964.5" font-size="8.5" fill="#ee8e2d" text-anchor="end" stroke="#ee8e2d" stroke-width="0.18">MG4</text>
<line x1="498.5" y1="824.2" x2="599.7" y2="824.2" stroke="#111" stroke-width="0.9"/>
<path d="M495.5 824.2l4 -1.8v3.6z M602.7 824.2l-4 -1.8v3.6z" fill="#111"/>
<line x1="498.5" y1="961.7" x2="599.7" y2="961.7" stroke="#111" stroke-width="0.9"/>
<path d="M495.5 961.7l4 -1.8v3.6z M602.7 961.7l-4 -1.8v3.6z" fill="#111"/>
<line x1="482.7" y1="834.5" x2="482.7" y2="951.0" stroke="#111" stroke-width="0.9"/>
<path d="M482.7 831.5l-1.8 4h3.6z M482.7 954.0l-1.8 -4h3.6z" fill="#111"/>
<line x1="616.2" y1="834.5" x2="616.2" y2="951.0" stroke="#111" stroke-width="0.9"/>
<path d="M616.2 831.5l-1.8 4h3.6z M616.2 954.0l-1.8 -4h3.6z" fill="#111"/>
<text x="548.6" y="981.2" font-size="6" fill="#222" text-anchor="middle" stroke="#222" stroke-width="0.12">Relative meta−module score</text>
<text x="548.6" y="989.2" font-size="5.8" fill="#222" text-anchor="middle" stroke="#222" stroke-width="0.12">log2(|SC2 − SC1|+1)</text>
<text x="447.0" y="893.0" font-size="6" fill="#222" text-anchor="middle" transform="rotate(-90 447.0 893.0)" stroke="#222" stroke-width="0.12">Relative meta−module score</text>
<text x="456.1" y="893.0" font-size="5.8" fill="#222" text-anchor="middle" transform="rotate(-90 456.1 893.0)" stroke="#222" stroke-width="0.12">log2(|SC2 − SC1|+1)</text>
<text x="635.1" y="872.5" font-size="7.5" fill="#111" stroke="#111" stroke-width="0.12">Latent time</text>
<rect x="640.0" y="877.5" width="7.6" height="7.2" fill="#b7a0d8"/>
<text x="649.5" y="883.2" font-size="6.2" fill="#222" stroke="#222" stroke-width="0.12">Early</text>
<rect x="640.0" y="887.5" width="7.6" height="7.6" fill="#ecd592"/>
<text x="649.5" y="893.2" font-size="6.2" fill="#222" stroke="#222" stroke-width="0.12">Intermediate</text>
<rect x="640.0" y="897.6" width="7.6" height="7.6" fill="#dc5328"/>
<text x="649.5" y="903.3" font-size="6.2" fill="#222" stroke="#222" stroke-width="0.12">Late</text>
</svg></body></html>
